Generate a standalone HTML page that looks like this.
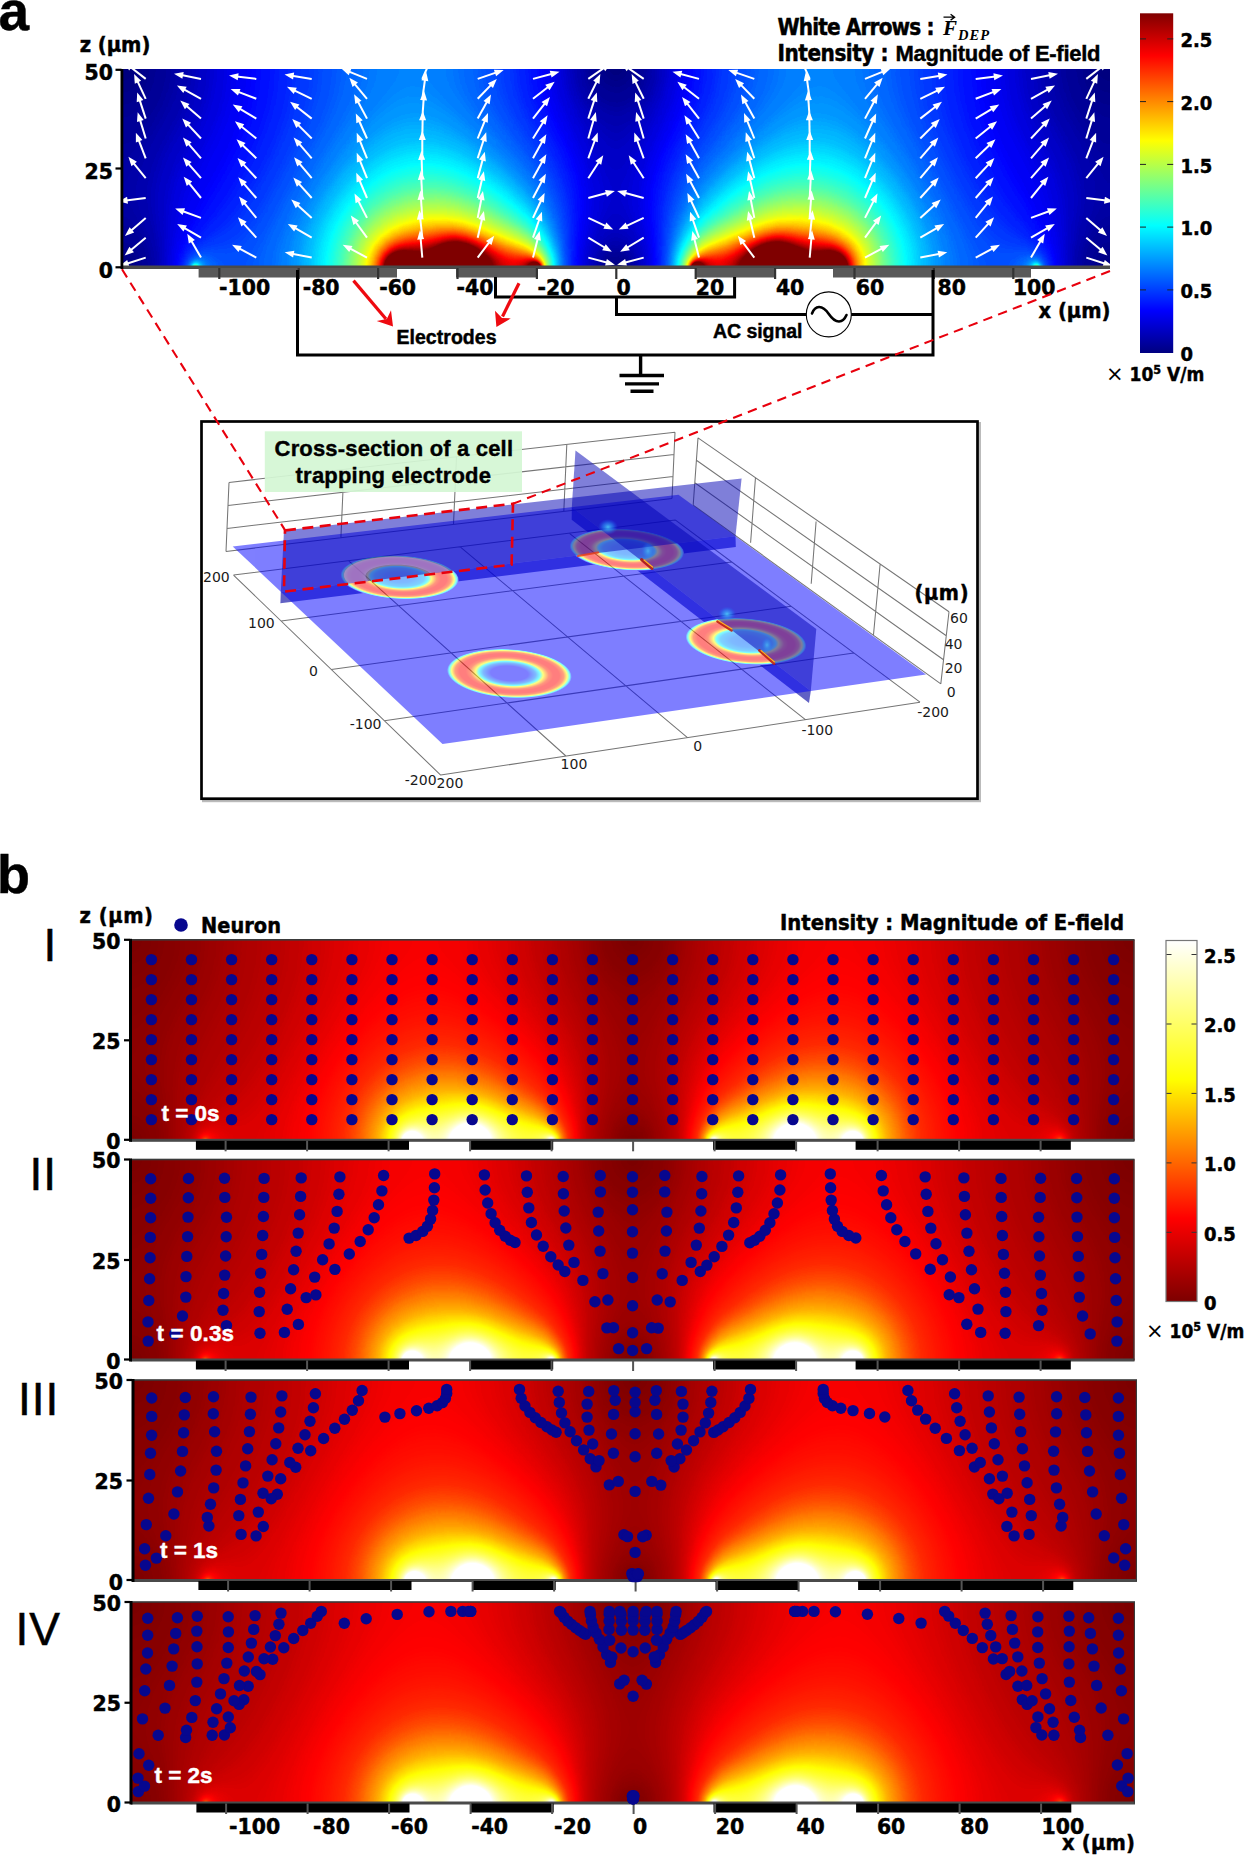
<!DOCTYPE html><html><head><meta charset="utf-8"><title>Figure</title><style>html,body{margin:0;padding:0;background:#fff}svg{display:block}</style></head><body>
<svg width="1250" height="1857" viewBox="0 0 1250 1857">
<defs>
<filter id="jetf" filterUnits="userSpaceOnUse" x="-12" y="-12" width="1012" height="223" color-interpolation-filters="sRGB"><feGaussianBlur stdDeviation="1.5"/><feComponentTransfer><feFuncR type="table" tableValues="0 0 0 0 0 0 0 0 0 0 0 0 0 0 0 0 0 0 0 0 0 0 0 0 0 0 0 0 0 0 0 0 0 0 0 0 0 0 0 0 0 0 0 0 0 0 0 0 0 0 0 0.011 0.041 0.07 0.1 0.13 0.159 0.189 0.219 0.248 0.278 0.307 0.337 0.367 0.396 0.426 0.456 0.485 0.515 0.544 0.574 0.604 0.633 0.663 0.693 0.722 0.752 0.781 0.811 0.841 0.87 0.9 0.93 0.959 0.989 1 1 1 1 1 1 1 1 1 1 1 1 1 1 1 1 1 1 1 1 1 1 1 1 1 1 1 1 1 1 1 1 1 1 0.974 0.944 0.915 0.885 0.856 0.826 0.796 0.767 0.737 0.707 0.678 0.648 0.619 0.589 0.559 0.53 0.5 0.5 0.5 0.5 0.5 0.5 0.5 0.5 0.5 0.5 0.5 0.5 0.5 0.5 0.5 0.5 0.5 0.5 0.5 0.5 0.5 0.5 0.5 0.5 0.5 0.5 0.5 0.5 0.5 0.5 0.5 0.5 0.5 0.5 0.5 0.5 0.5 0.5 0.5 0.5 0.5 0.5 0.5 0.5 0.5 0.5 0.5 0.5 0.5 0.5 0.5 0.5 0.5 0.5 0.5 0.5 0.5 0.5 0.5 0.5 0.5 0.5 0.5 0.5 0.5 0.5"/><feFuncG type="table" tableValues="0 0 0 0 0 0 0 0 0 0 0 0 0 0 0 0 0 0.004 0.033 0.063 0.093 0.122 0.152 0.181 0.211 0.241 0.27 0.3 0.33 0.359 0.389 0.419 0.448 0.478 0.507 0.537 0.567 0.596 0.626 0.656 0.685 0.715 0.744 0.774 0.804 0.833 0.863 0.893 0.922 0.952 0.981 1 1 1 1 1 1 1 1 1 1 1 1 1 1 1 1 1 1 1 1 1 1 1 1 1 1 1 1 1 1 1 1 1 1 0.981 0.952 0.922 0.893 0.863 0.833 0.804 0.774 0.744 0.715 0.685 0.656 0.626 0.596 0.567 0.537 0.507 0.478 0.448 0.419 0.389 0.359 0.33 0.3 0.27 0.241 0.211 0.181 0.152 0.122 0.093 0.063 0.033 0.004 0 0 0 0 0 0 0 0 0 0 0 0 0 0 0 0 0 0 0 0 0 0 0 0 0 0 0 0 0 0 0 0 0 0 0 0 0 0 0 0 0 0 0 0 0 0 0 0 0 0 0 0 0 0 0 0 0 0 0 0 0 0 0 0 0 0 0 0 0 0 0 0 0 0 0 0 0 0 0 0 0 0"/><feFuncB type="table" tableValues="0.5 0.53 0.559 0.589 0.619 0.648 0.678 0.707 0.737 0.767 0.796 0.826 0.856 0.885 0.915 0.944 0.974 1 1 1 1 1 1 1 1 1 1 1 1 1 1 1 1 1 1 1 1 1 1 1 1 1 1 1 1 1 1 1 1 1 1 0.989 0.959 0.93 0.9 0.87 0.841 0.811 0.781 0.752 0.722 0.693 0.663 0.633 0.604 0.574 0.544 0.515 0.485 0.456 0.426 0.396 0.367 0.337 0.307 0.278 0.248 0.219 0.189 0.159 0.13 0.1 0.07 0.041 0.011 0 0 0 0 0 0 0 0 0 0 0 0 0 0 0 0 0 0 0 0 0 0 0 0 0 0 0 0 0 0 0 0 0 0 0 0 0 0 0 0 0 0 0 0 0 0 0 0 0 0 0 0 0 0 0 0 0 0 0 0 0 0 0 0 0 0 0 0 0 0 0 0 0 0 0 0 0 0 0 0 0 0 0 0 0 0 0 0 0 0 0 0 0 0 0 0 0 0 0 0 0 0 0 0 0 0 0 0 0 0 0 0 0 0 0 0"/></feComponentTransfer></filter>
<filter id="hotf" filterUnits="userSpaceOnUse" x="-12" y="-12" width="1012" height="223" color-interpolation-filters="sRGB"><feGaussianBlur stdDeviation="1.5"/><feComponentTransfer><feFuncR type="table" tableValues="0.49 0.503 0.516 0.528 0.541 0.554 0.567 0.579 0.592 0.605 0.618 0.63 0.643 0.656 0.669 0.681 0.694 0.707 0.72 0.732 0.745 0.761 0.777 0.793 0.809 0.824 0.84 0.856 0.872 0.888 0.904 0.92 0.935 0.951 0.967 0.983 0.991 1 1 1 1 1 1 1 1 1 1 1 1 1 1 1 1 1 1 1 1 1 1 1 1 1 1 1 1 1 1 1 1 1 1 1 1 1 1 1 1 1 1 1 1 1 1 1 1 1 1 1 1 1 1 1 1 1 1 1 1 1 1 1 1 1 1 1 1 1 1 1 1 1 1 1 1 1 1 1 1 1 1 1 1 1 1 1 1 1 1 1 1 1 1 1 1 1 1 1 1 1 1 1 1 1 1 1 1 1 1 1 1 1 1 1 1 1 1 1 1 1 1 1 1 1 1 1 1 1 1 1 1 1 1 1 1 1 1 1 1 1 1 1 1 1 1 1 1 1 1 1 1 1 1 1 1 1 1 1 1 1 1 1 1"/><feFuncG type="table" tableValues="0 0 0 0 0 0 0 0 0 0 0 0 0 0 0 0 0 0 0 0 0 0 0 0 0 0 0 0 0 0 0 0 0 0 0 0 0 0 0.009 0.019 0.029 0.038 0.048 0.058 0.068 0.077 0.087 0.097 0.106 0.116 0.126 0.136 0.145 0.155 0.169 0.186 0.203 0.221 0.238 0.256 0.273 0.29 0.308 0.325 0.343 0.36 0.379 0.398 0.418 0.437 0.456 0.475 0.494 0.514 0.533 0.552 0.571 0.59 0.609 0.626 0.644 0.662 0.679 0.697 0.714 0.732 0.75 0.767 0.785 0.802 0.82 0.833 0.846 0.859 0.872 0.885 0.898 0.911 0.924 0.937 0.95 0.963 0.976 0.989 1 1 1 1 1 1 1 1 1 1 1 1 1 1 1 1 1 1 1 1 1 1 1 1 1 1 1 1 1 1 1 1 1 1 1 1 1 1 1 1 1 1 1 1 1 1 1 1 1 1 1 1 1 1 1 1 1 1 1 1 1 1 1 1 1 1 1 1 1 1 1 1 1 1 1 1 1 1 1 1 1 1 1 1 1 1 1 1 1 1 1 1 1 1 1 1 1"/><feFuncB type="table" tableValues="0 0 0 0 0 0 0 0 0 0 0 0 0 0 0 0 0 0 0 0 0 0 0 0 0 0 0 0 0 0 0 0 0 0 0 0 0 0 0 0 0 0 0 0 0 0 0 0 0 0 0 0 0 0 0 0 0 0 0 0 0 0 0 0 0 0 0 0 0 0 0 0 0 0 0 0 0 0 0 0 0 0 0 0 0 0 0 0 0 0 0 0 0 0 0 0 0 0 0 0 0 0 0 0 0.002 0.015 0.028 0.041 0.054 0.067 0.08 0.094 0.108 0.122 0.137 0.151 0.165 0.179 0.193 0.207 0.222 0.236 0.25 0.264 0.278 0.292 0.306 0.321 0.335 0.349 0.363 0.377 0.391 0.406 0.42 0.434 0.448 0.462 0.476 0.49 0.505 0.519 0.533 0.547 0.561 0.575 0.59 0.604 0.618 0.632 0.646 0.66 0.674 0.689 0.703 0.717 0.731 0.745 0.759 0.774 0.788 0.802 0.816 0.83 0.844 0.858 0.873 0.887 0.901 0.915 0.929 0.943 0.958 0.972 0.986 1 1 1 1 1 1 1 1 1 1 1 1 1 1 1 1 1 1 1 1 1 1 1 1 1 1"/></feComponentTransfer></filter>
<g id="F" transform="scale(0.1)" fill-rule="evenodd"><rect x="-100" y="-100" width="10080" height="2190" fill="rgb(0,0,0)"/><path fill="#010101" d="M-95-57l0-38 32 0-32 38zM9975 2085l-3330 5-1640-5-1770 5-3330-5 0-2028 32 38 48 20 50-5 39-25 27-40 8-50-13-50-33-40 9754 0-33 40-13 50 8 50 27 40 39 25 50 5 48-20 32-38 0 2028zM9975-57l-32-38 32 0 0 38zM4956 55l19-10 16-20 4-40-10-20-20-17-20-5-20 2-20 10-16 20-4 40 10 20 20 17 20 5 21-2zM18 2045l18-10 15-20 4-40-10-21-20-16-20-6-20 2-21 11-15 20-4 40 10 21 20 16 20 6 23-3zM9898 2045l18-10 15-20 4-40-10-21-20-16-20-6-20 2-21 11-15 20-4 40 10 21 20 16 20 6 23-3zM4960 2005l4-20-9-15-20-4-15 9-4 20 9 15 20 4 15-9z"/><path fill="#020202" d="M9815 2085l-3170 5-1770-5-1640 5-3171-5 32-40 12-50-8-50-25-40-40-27-50-5-49 22-31 39 0-1732 50 25 60 7 60-19 51-40 43-60 23-70 3-70-17-70 4700 0-23 22-19 38-5 30 5 40 14 30 25 28 30 16 40 6 30-6 30-16 25-28 14-30 5-30-5-40-19-38-23-22 4700 0-17 70 3 70 23 70 43 60 51 40 60 19 60-7 50-25 0 1732-31-39-49-22-50 5-40 27-25 40-8 50 12 50 31 40zM4963 2035l13-10 12-20 2-20-6-20-29-24-20-2-20 7-23 29-2 20 6 20 29 24 20 2 18-6zM-65 2085l-30 0 0-39 30 39zM9975 2085l-31 0 31-39 0 39z"/><path fill="#030303" d="M9745 2085l-3100 5-1770-5-1640 5-3106-5 20-60 2-60-17-60-34-50-45-34-50-13-50 9-50 33 0-1525 40 21 30 8 60-2 30-11 40-23 67-63 53-82 32-88 9-90-12-90 4556 0-18 40-9 50 6 50 15 40 28 40 33 27 40 17 40 4 40-7 40-21 31-30 25-40 12-40 3-50-8-40-18-40 4556 0-12 90 9 90 32 88 53 82 67 63 40 23 30 11 60 2 30-8 40-21 0 1525-40-29-50-13-50 9-50 33-34 45-20 60-2 60 22 70-6 0zM4956 2065l23-10 21-20 13-30 0-30-13-30-21-20-24-10-30 0-24 10-21 20-13 30 0 30 13 30 21 20 24 10 31 0z"/><path fill="#040404" d="M9705 2085l-3280 5-1448-5 28-19 20-27 11-34 0-30-11-34-20-27-30-20-30-7-30 3-30 15-27 30-12 30-2 40 9 30 22 31 28 19-1448 5-3281-5 15-70-4-80-23-70-39-60-48-43-30-15-30-8-30 0-30 8-50 30 0-1328 40 23 30 9 40 2 30-7 40-20 40-30 80-89 63-102 42-110 16-110-9-110 4443 0-15 50-3 60 8 50 19 50 35 50 41 36 40 21 50 10 50-7 44-20 46-38 30-42 22-50 11-60-3-60-15-50 4443 0-9 110 16 110 42 110 63 102 80 89 40 30 40 20 30 7 40-2 30-9 40-23 0 1328-50-30-30-8-30 0-30 8-30 15-48 43-39 60-23 70-5 70 15 80z"/><path fill="#040404" d="M9665 2085l-3240 5-1406-5 22-30 14-38 2-42-7-30-15-31-27-29-33-18-30-5-40 5-30 16-30 31-15 31-7 30 2 42 14 38 22 30-1406 5-3244-5 12-90-9-90-29-84-50-80-60-57-30-17-30-8-50 5-60 35 0-1118 40 27 30 11 30 3 40-9 40-24 40-36 100-123 81-135 51-130 16-70 7-60 1-60-8-70 4345 0-12 60 0 70 12 60 27 61 40 56 49 43 51 24 50 8 60-8 50-24 47-40 38-50 28-60 16-70 0-70-12-60 4345 0-8 70 1 60 7 60 16 70 51 130 81 135 100 123 40 36 40 24 40 9 30-3 30-11 40-27 0 1118-60-35-50-5-30 8-30 17-60 57-50 80-29 84-9 80 12 100-4 0z"/><path fill="#050505" d="M9635 2085l-3210 5-1382-5 17-30 12-40 1-40-9-40-19-37-30-31-30-17-40-9-40 5-30 14-30 25-25 40-12 40-1 40 9 40 21 40-1382 5-3212-5 10-100-12-100-36-110-50-89-70-74-30-20-30-12-30-3-30 6-60 37 0-912 40 28 40 14 30 0 40-14 40-28 50-48 29-35 51-76 110-187 36-77 29-80 20-80 10-70 2-70-6-80 4256 0-11 70 3 80 21 79 30 58 50 63 50 40 60 28 60 9 60-12 60-32 50-44 44-59 29-60 18-70 3-80-11-70 4256 0-6 80 2 70 10 70 20 80 29 80 36 77 110 187 51 76 29 35 50 48 40 28 40 14 30 0 40-14 40-28 0 912-60-37-30-6-30 3-30 12-30 20-70 74-50 89-36 110-11 90 7 110z"/><path fill="#060606" d="M9605 2085l-3180 5-1362-5 17-40 8-40-3-50-12-40-24-40-32-30-32-17-40-8-40 5-40 19-30 26-23 35-15 40-6 50 9 50 17 40-1362 5-3185-5 8-120-15-110-38-113-70-128-70-89-30-26-30-16-30-4-30 8-30 20-30 29 0-702 40 38 40 20 30 0 40-20 40-38 40-49 152-220 108-205 58-155 18-80 9-70 2-70-6-80 4179 0-12 80 5 80 22 80 35 70 50 66 60 52 70 35 60 8 60-11 60-32 60-52 50-66 35-70 22-80 5-80-12-80 4179 0-6 80 2 70 9 70 18 80 58 155 108 205 152 220 40 49 40 38 40 20 30 0 40-20 40-38 0 702-30-29-30-20-30-8-30 4-30 16-30 26-70 89-60 106-43 115-18 110-2 70 8 70-5 0z"/><path fill="#070707" d="M9585 2085l-3160 5-1345-5 16-40 7-50-5-50-13-40-23-40-37-37-40-22-40-8-40 5-40 18-39 34-26 40-16 40-7 50 5 50 18 50-1345 5-3164-5 7-80-3-77-10-73-20-80-30-83-40-89-140-266-40-59-20-6-30 32-60 106 0-409 50 94 30 43 10 7 20-7 30-43 166-310 184-310 65-140 38-110 24-110 8-100-5-110 4104 0-10 80 6 90 22 80 38 79 51 71 69 65 70 40 60 11 60-8 70-35 70-62 60-81 38-80 22-80 6-90-10-80 4104 0-5 110 8 100 24 110 38 110 65 140 184 310 166 310 30 43 10 7 20-7 30-43 50-94 0 409-60-106-30-32-20 6-40 59-140 266-66 162-22 80-11 70-4 90 7 80-4 0z"/><path fill="#080808" d="M9565 2085l-3140 5-1328-5 15-50 4-50-6-50-18-50-27-43-40-38-40-21-40-8-40 5-40 17-40 33-32 45-20 50-9 50 4 60 15 50-1328 5-3145-5 5-130-16-130-34-130-84-230-27-90-18-100 0-100 26-130 59-160 69-140 173-310 69-160 25-90 17-100 4-90-5-90 4033 0-10 90 8 90 25 90 38 80 58 82 70 70 70 44 70 16 70-12 70-40 70-66 62-84 44-90 25-90 8-90-10-90 4033 0-5 90 4 90 19 110 27 90 70 160 168 300 69 140 53 140 30 130 3 100-17 110-29 100-84 230-34 130-15 120 4 140-5 0z"/><path fill="#080808" d="M9545 2085l-3120 5-1313-5 13-50 3-60-10-60-20-50-33-49-33-31-47-25-40-8-50 8-40 20-40 36-33 49-20 50-10 60 3 60 13 50-1313 5-3127-5 4-120-10-120-27-134-65-226-23-100-13-110 3-100 26-140 52-150 65-140 165-306 67-164 27-100 14-90 4-90-5-90 3971 0-9 90 9 100 29 100 43 88 65 92 75 76 70 45 40 14 30 4 30-2 40-11 70-42 80-78 70-98 43-88 29-100 9-90-9-100 3971 0-5 90 5 100 15 90 28 100 67 160 162 300 61 130 51 140 29 140 5 100-8 100-20 100-69 240-24 107-16 143 3 140-7 0z"/><path fill="#090909" d="M9535 2085l-3110 5-1300-5 14-60 1-60-11-60-20-50-34-53-40-39-40-24-50-11-40 4-50 24-44 39-36 52-24 58-11 60 1 60 14 60-1300 5-3111-5 3-120-7-120-19-120-71-330-9-110 3-100 25-140 49-150 64-140 158-300 68-170 27-100 14-90 5-90-5-100 3912 0-8 100 10 100 29 100 43 91 70 104 80 87 80 56 40 14 30 4 30-2 40-12 40-22 40-30 80-82 75-108 48-100 29-100 10-100-8-100 3912 0-5 90 5 100 14 90 27 100 68 170 153 290 60 130 50 140 28 130 8 100-4 110-17 110-53 233-21 117-11 130 2 140z"/><path fill="#0a0a0a" d="M9515 2085l-3090 5-1287-5 12-60 1-60-10-60-22-60-34-57-50-55-50-33-40-10-50 10-40 24-50 51-40 61-23 59-12 60 0 70 12 60-1287 5-3095-5 2-120-5-110-14-120-56-330-6-110 5-100 24-140 49-150 58-130 160-310 67-170 27-100 15-100 5-90-5-100 3854 0-7 100 9 100 27 100 46 102 70 110 80 94 100 93 40 21 30 6 30-3 40-17 100-90 80-91 76-115 46-100 29-100 11-100-7-110 3854 0-5 90 5 100 15 100 27 100 69 175 153 295 55 120 49 140 28 130 9 110-3 110-14 110-54 320-10 140 2 140-5 0z"/><path fill="#0b0b0b" d="M9505 2085l-3080 5-1274-5 12-70-2-70-12-60-27-70-37-65-50-59-50-35-40-10-40 6-50 30-50 54-40 65-27 64-19 80-2 70 12 70-1274 5-3081-5 2-140-7-130-50-420 2-170 25-150 48-150 57-130 163-320 69-180 25-100 15-100 5-90-5-100 3797 0-7 110 11 100 27 100 44 101 70 115 160 211 60 52 30 14 30 3 30-7 30-16 60-57 150-200 70-116 44-100 27-100 11-100-7-110 3797 0-5 100 6 100 16 100 26 100 70 180 149 290 55 120 47 130 29 130 12 110 0 110-51 440-7 130 1 140z"/><path fill="#0c0c0c" d="M9485 2085l-3060 5-1259-5 9-70-2-80-14-70-26-70-38-73-50-67-50-43-50-17-40 7-50 33-50 57-50 85-31 78-17 80-2 80 9 70-1259 5-3067-5-3-270-34-400 3-160 23-150 50-160 62-140 157-310 42-100 31-90 25-100 15-100 6-100-5-100 3740 0-7 100 9 100 24 100 45 110 54 97 180 281 70 77 30 19 30 8 30-4 30-16 30-25 40-46 190-294 50-89 45-108 26-100 10-100-6-110 3740 0-4 110 6 100 16 100 27 103 70 180 151 297 55 120 46 130 29 130 13 110 1 120-33 380-5 300-7 0z"/><path fill="#0c0c0c" d="M9475 2085l-3050 5-1244-5 9-70-3-80-15-80-27-80-50-98-50-73-50-50-30-16-20-5-40 9-50 39-60 79-50 92-31 83-19 83-5 87 9 80-1244 5-3054-5-2-280-20-370 5-150 25-160 50-160 57-130 167-330 41-100 30-90 27-110 15-100 5-100-4-100 3684 0-7 100 9 100 23 100 43 110 176 323 90 148 40 53 30 30 30 18 30 5 30-10 30-22 70-89 90-151 170-313 39-102 23-100 9-100-7-100 3684 0-4 110 6 100 18 110 29 110 73 186 149 294 55 120 46 130 28 120 14 110 4 120-19 370-3 300-4 0z"/><path fill="#0d0d0d" d="M9465 2085l-3040 5-1229-5 7-80-3-80-15-80-30-92-50-108-70-116-50-59-40-19-20 2-20 10-50 52-70 111-57 119-30 90-17 80-4 90 7 80-1229 5-3041-5-8-610 6-150 26-170 49-160 61-140 166-330 42-100 33-100 26-104 16-106 6-100-4-110 3629 0-6 100 8 100 22 100 37 100 142 287 150 281 70 103 30 25 20 7 20-2 30-20 30-34 40-62 140-259 160-321 39-105 22-100 8-100-6-100 3629 0-4 110 7 110 18 110 29 110 73 190 155 305 52 115 44 120 30 120 17 120 6 120-9 650z"/><path fill="#0e0e0e" d="M4665 2085l-1430 5-2809-5 5-620 9-130 19-120 31-120 44-120 207-420 74-190 30-112 20-118 8-120-4-110 3575 0-6 80 3 90 16 90 26 90 92 214 254 536 72 170 16 60-1 30-15 50-156 340-50 134-28 136-3 80 7 80-6 0zM9445 2085l-3020 5-1216-5 7-70-1-70-10-74-18-76-52-140-156-340-15-50-1-30 16-60 72-170 254-536 92-214 26-90 16-90 3-90-6-80 3575 0-4 110 8 120 18 110 32 120 74 190 207 420 47 130 30 120 19 130 8 140 5 550-1 40-9 0z"/><path fill="#0f0f0f" d="M4655 2085l-1420 5-2798-5 0-190 15-380 13-150 20-123 31-117 44-120 50-110 162-320 77-200 32-120 20-120 7-110-4-120 3522 0-6 80 2 80 12 80 20 80 74 200 161 350 71 170 50 150 22 110 0 100-19 100-114 320-32 120-14 110 2 130zM9435 2085l-3010 5-1203-5 6-120-13-112-34-128-114-320-19-100 0-100 22-110 50-150 71-170 161-350 74-200 20-80 12-80 2-80-6-80 3522 0-4 120 7 110 20 120 32 120 77 200 162 320 50 110 44 120 32 120 22 140 12 170 14 410-1 120-8 0z"/><path fill="#101010" d="M4645 2085l-1410 5-2787-5 1-200 19-300 18-180 25-140 33-120 45-120 208-420 48-110 35-100 35-130 20-120 8-120-3-120 3467 0-6 80 3 80 13 90 27 110 57 160 149 330 62 150 51 160 25 130 3 100-14 110-25 100-77 246-25 114-10 110 5 110zM9425 2085l-3000 5-1191-5 6-110-10-110-25-114-77-246-25-100-14-110 3-100 25-130 51-160 62-150 149-330 57-160 27-110 13-90 3-80-6-80 3467 0-3 120 8 120 20 120 35 130 35 100 48 110 157 310 55 120 44 120 32 120 29 180 23 280 11 250-2 100-7 0z"/><path fill="#101010" d="M4625 2085l-1390 5-2775-5-1-170 16-211 25-229 32-170 33-120 45-120 55-120 162-320 48-111 39-109 34-130 20-120 9-120-3-130 3411 0-5 90 4 90 13 90 22 90 56 160 147 330 60 150 49 160 23 130 4 100-8 100-22 110-84 320-14 130 4 130-9 0zM9415 2085l-2990 5-1179-5 5-110-8-100-22-120-64-230-24-110-11-120 5-110 25-130 50-160 60-150 143-320 56-160 22-90 13-90 4-90-5-90 3411 0-3 130 9 120 20 120 34 130 39 109 48 111 162 320 55 120 45 120 33 120 33 180 29 270 12 210-2 120-5 0z"/><path fill="#111111" d="M4615 2085l-1380 5-2761-5-3-130 11-150 41-300 36-190 32-110 47-120 219-440 47-110 40-110 35-130 23-130 10-130-3-130 3351 0-5 90 4 90 13 90 22 90 56 160 141 320 60 150 46 150 26 140 7 110-7 110-19 110-73 320-12 130 4 120-8 0zM9405 2085l-2980 5-1168-5 4-120-10-120-21-110-56-230-18-110-6-100 7-110 26-140 46-150 60-150 141-320 56-160 22-90 13-90 4-90-5-90 3351 0-3 130 10 130 23 130 35 130 40 110 47 110 219 440 47 120 32 110 36 190 41 300 11 150-4 130z"/><path fill="#121212" d="M4605 2085l-1370 5-2747-5-4-130 13-140 43-250 45-205 40-136 52-139 209-420 51-120 39-110 38-140 22-130 9-130-3-130 3294 0-5 90 4 90 13 90 21 90 60 170 137 310 55 140 50 160 26 140 8 110-5 110-16 110-65 320-11 130 4 120-7 0zM9385 2085l-2960 5-1157-5 4-110-9-120-18-112-49-228-17-120-4-110 8-100 26-140 50-160 55-140 137-310 60-170 21-90 13-90 4-90-5-90 3294 0-3 130 9 130 22 130 38 140 39 110 51 120 161 317 50 109 50 134 44 150 49 230 39 240 10 150-5 90-7 0z"/><path fill="#131313" d="M4595 2085l-1360 5-2735-5-4-130 16-140 53-245 60-217 41-118 50-120 233-480 51-130 38-120 27-120 18-120 7-120-3-120 3224 0-5 90 4 90 13 90 24 100 56 160 138 310 59 150 46 150 27 140 9 110-4 120-14 110-56 310-10 130 4 120-7 0zM9375 2085l-2950 5-1147-5 4-110-8-120-58-330-15-120-3-110 9-110 27-140 46-150 59-150 138-310 56-160 24-100 13-90 4-90-5-90 3224 0-3 110 6 120 17 120 27 120 36 120 50 130 239 492 50 121 41 117 63 230 51 240 15 150-4 90-1 20-5 0z"/><path fill="#141414" d="M4585 2085l-1350 5-2722-5-6-120 12-110 26-121 57-199 58-170 89-210 226-451 54-129 41-120 37-140 23-140 11-140-3-130 3148 0-4 90 3 90 13 90 24 100 56 160 142 320 56 140 47 150 28 140 9 110-2 120-11 110-49 310-9 130 3 120-7 0zM9365 2085l-2940 5-1137-5 3-110-6-120-52-330-11-110-2-120 9-110 28-140 47-150 56-140 142-320 56-160 24-100 13-90 3-90-4-90 3148 0-3 130 9 130 21 130 32 130 43 130 51 126 250 503 56 131 48 130 70 230 41 170 13 130-8 110z"/><path fill="#141414" d="M4575 2085l-1340 5-2711-5-7-110 11-100 22-100 48-150 67-177 100-224 240-467 57-132 47-130 42-150 27-150 12-150-2-140 3073 0-5 90 4 90 13 90 24 100 60 170 139 310 57 140 47 150 31 150 10 120-2 120-52 400-7 130 3 120-8 0zM9355 2085l-2930 5-1128-5 3-110-5-114-45-336-10-110 0-120 11-110 29-140 47-150 57-140 139-310 60-170 24-100 13-90 4-90-5-90 3073 0-2 140 11 140 24 140 36 140 45 130 54 130 275 540 70 158 60 155 56 167 31 130 11 110-8 100z"/><path fill="#151515" d="M4565 2085l-1330 5-2700-5-8-110 8-80 22-90 33-100 55-134 120-255 261-491 68-150 51-134 49-166 31-160 14-160-2-150 2999 0-5 90 4 90 13 90 23 100 61 170 145 320 57 140 47 150 29 140 12 120 0 120-44 400-7 130 2 120-8 0zM9335 2085l-2910 5-1118-5 2-110-4-110-47-440 1-120 12-120 30-140 49-150 57-140 137-300 62-170 25-100 13-90 5-90-5-100 2999 0-2 140 12 150 26 150 41 150 50 140 65 151 80 159 225 420 75 160 70 168 44 132 20 100 2 110-6 50-10 0z"/><path fill="#161616" d="M4555 2085l-1320 5-2689-5-9-110 7-70 17-70 64-165 120-236 294-529 76-160 65-160 53-170 35-170 18-170-1-170 2925 0-5 90 5 100 14 90 24 100 63 170 143 310 58 140 48 150 31 140 13 120 1 130-39 420-2 220-9 0zM9325 2085l-2900 5-1109-5-2-220-39-430 1-120 13-120 31-140 48-150 58-140 143-310 63-170 24-100 14-90 5-90-5-100 2925 0-2 150 14 160 30 160 48 166 62 164 79 170 89 169 240 427 80 156 50 111 37 107 18 90 1 100-7 50-9 0z"/><path fill="#171717" d="M4555 2085l-1320 5-2679-5-10-110 6-60 14-60 59-144 80-145 230-381 100-175 99-195 76-180 63-190 40-180 20-180-1-180 2852 0-5 90 5 100 13 90 25 100 63 170 150 320 55 130 50 150 31 140 15 120 3 130-32 420-2 220zM9315 2085l-2890 5-1101-5-1-210-32-440 3-120 15-120 31-140 50-150 55-130 150-320 63-170 25-100 13-90 5-90-5-100 2852 0-1 170 17 170 35 170 53 170 76 190 98 200 113 200 256 425 85 165 34 90 18 90-1 100-7 40-9 0z"/><path fill="#181818" d="M4545 2085l-1310 5-2669-5-12-100 4-50 13-60 21-60 33-69 70-118 228-343 109-180 117-220 93-210 69-200 45-190 23-190 0-190 2778 0-5 90 5 100 16 100 26 100 64 170 149 310 56 130 52 150 33 140 17 130 4 130-25 410-4 220zM9305 2085l-2880 5-1092-5-1-210-26-430 5-130 16-120 33-140 52-150 56-130 149-310 64-170 26-100 16-100 5-90-5-100 2778 0-1 170 19 180 39 180 60 190 94 220 119 230 133 220 241 365 70 126 34 89 15 80-2 90-8 40-9 0z"/><path fill="#181818" d="M4535 2085l-1300 5-2660-5-13-100 6-60 13-50 49-110 75-114 211-286 111-170 135-240 107-230 76-210 53-210 26-200 1-200 2705 0-5 90 5 100 16 100 26 100 70 180 151 310 58 130 52 150 34 140 17 130 6 130-20 410-1 210-4 0zM9295 2085l-2870 5-1084-5-1-210-20-420 7-130 16-120 34-140 52-150 58-130 151-310 70-180 26-100 16-100 5-90-5-100 2705 0 0 180 21 190 44 190 67 200 108 245 140 255 136 210 234 319 61 101 33 80 17 80-3 90-8 40-10 0z"/><path fill="#191919" d="M4525 2085l-1290 5-2651-5-11-50-3-50 5-50 12-50 48-102 70-100 213-258 113-160 141-240 122-250 87-230 59-220 29-210 4-100-3-110 2632 0-5 100 6 100 17 100 28 100 67 170 160 320 58 130 54 150 34 140 18 130 7 140-14 400-1 200-6 0zM9295 2085l-2870 5-1076-5-1-200-14-420 8-130 19-130 35-140 51-140 58-130 160-320 67-170 28-100 17-100 6-100-5-100 2632 0 0 190 25 200 50 206 76 214 126 270 149 260 111 160 238 291 73 109 32 70 17 70 2 70-14 70z"/><path fill="#1a1a1a" d="M4515 2085l-1280 5-2642-5-12-50-4-50 16-90 20-50 28-50 74-96 207-224 115-150 148-239 131-261 100-250 64-230 20-110 13-110 5-110-3-110 2559 0-5 100 6 100 17 100 28 100 73 180 159 310 60 130 56 150 36 140 21 140 8 150-9 580-9 0zM9285 2085l-2860 5-1069-5-9-600 9-140 20-130 36-140 56-150 60-130 159-310 73-180 28-100 17-100 6-100-5-100 2559 0 1 200 28 210 54 210 85 230 63 140 77 150 79 140 77 120 129 170 227 248 70 99 30 66 16 67 0 70-16 60z"/><path fill="#1b1b1b" d="M4515 2085l-1280 4-2634-4-13-50-4-50 5-50 12-40 44-86 80-95 216-209 107-130 76-110 71-117 142-273 108-260 43-130 32-120 23-120 13-110 6-120-3-110 2486 0-5 100 6 100 18 100 28 100 74 180 168 320 61 129 54 141 38 140 22 130 11 150-5 590zM9275 2085l-2850 4-1061-4-4-590 11-150 22-130 38-140 54-141 61-129 168-320 74-180 28-100 18-100 6-100-5-100 2486 0-3 110 4 100 12 110 20 110 60 220 93 240 70 150 78 150 82 140 81 120 131 160 236 230 66 90 28 60 16 70-3 70-13 50-4 0z"/><path fill="#1b1b1b" d="M4505 2085l-1270 4-2626-4-15-50-4-50 6-50 13-40 24-50 32-46 70-73 222-191 74-80 70-90 124-193 126-237 69-150 57-140 45-130 36-130 25-120 16-120 7-120-3-120 2413 0-6 100 7 100 18 100 32 110 77 180 167 310 64 131 58 149 40 140 24 140 12 150 0 570-4 0zM9265 2085l-2840 4-1054-4 1-580 11-140 24-140 40-140 58-149 64-131 167-310 77-180 32-110 18-100 7-100-6-100 2413 0-3 110 5 110 13 110 20 110 31 120 38 120 104 257 79 163 81 150 79 130 77 110 112 130 252 220 50 54 30 43 30 63 14 70-5 70-13 40-6 0z"/><path fill="#1c1c1c" d="M4495 2085l-1260 4-2619-4-15-50-5-50 5-40 15-50 27-50 32-41 70-66 155-113 73-60 71-70 61-73 126-187 134-243 75-157 64-150 51-140 41-140 29-130 17-120 8-130-3-120 2339 0-6 100 7 100 18 100 32 110 79 180 179 324 63 126 60 150 41 140 26 150 13 160 4 540-7 0zM9255 2085l-2830 4-1047-4 5-570 14-150 27-140 41-140 57-140 63-126 179-324 79-180 32-110 18-100 7-100-6-100 2339 0-3 110 6 120 14 110 24 120 32 120 44 130 113 270 85 170 87 157 80 127 79 106 113 120 238 181 50 47 40 49 33 63 15 70-6 70-13 40-9 0z"/><path fill="#1d1d1d" d="M4495 2085l-1260 4-2611-4-17-50-5-50 7-50 15-40 22-40 39-47 70-59 220-144 69-60 71-78 122-172 137-240 84-170 75-170 57-150 43-140 31-130 20-130 9-130-2-130 2264 0-5 110 8 100 19 100 34 110 82 180 182 320 67 130 58 140 43 140 27 140 16 160 7 220 2 330zM9255 2085l-2830 4-1040-4 2-340 7-210 16-160 27-140 43-140 58-140 67-130 182-320 82-180 34-110 19-100 8-100-5-110 2264 0-3 120 7 120 17 120 26 120 38 130 49 140 62 149 70 149 83 162 87 151 80 123 75 96 56 60 56 50 68 50 175 111 50 42 42 47 34 60 16 60-2 60-20 60z"/><path fill="#1e1e1e" d="M4485 2085l-1250 4-2604-4-18-50-6-50 6-40 18-50 24-39 40-44 70-52 223-125 67-53 67-67 57-70 63-90 133-227 94-183 83-180 68-170 49-150 36-140 23-140 9-130-3-130 2190 0-5 110 7 100 20 100 35 110 38 90 50 100 186 317 70 132 61 141 43 140 31 150 17 170 11 320 1 200-4 0zM9245 2085l-2820 4-1034-4 2-270 10-260 17-160 31-150 43-140 61-141 70-132 186-317 50-100 38-90 35-110 20-100 7-100-5-110 2190 0-3 120 8 130 18 120 30 130 43 140 53 140 69 160 77 160 90 170 84 143 79 117 73 90 50 50 61 50 62 40 195 108 50 39 40 44 33 59 14 60-5 60-13 40-9 10z"/><path fill="#1f1f1f" d="M4475 2085l-1240 4-2597-4-20-50-5-50 8-50 17-40 27-40 40-40 70-45 225-105 65-45 60-55 60-69 59-81 128-210 106-200 96-200 75-180 56-160 40-150 24-140 11-140-3-130 2115 0-5 110 8 100 20 100 35 110 39 90 51 100 195 323 70 127 66 150 46 140 33 160 20 190 13 340-1 140-7 0zM9235 2085l-2810 4-1027-4 1-240 13-270 20-170 33-156 47-144 63-140 70-127 195-323 51-100 39-90 35-110 20-100 8-100-5-110 2115 0-3 120 8 130 21 130 34 140 46 140 58 150 76 170 92 185 95 175 85 139 79 111 71 80 57 50 63 43 250 119 50 37 38 41 33 60 11 60-8 60-17 40-7 0z"/><path fill="#1f1f1f" d="M4475 2085l-1240 4-2591-4-21-50-6-50 9-50 18-40 31-41 40-35 80-43 150-52 68-29 62-38 52-42 57-60 55-70 126-198 120-221 109-221 83-190 62-170 43-150 29-150 12-140-2-140 2039 0-6 110 8 100 23 110 38 110 40 90 54 100 198 319 74 131 65 140 47 140 36 160 22 180 16 270 0 220zM9235 2085l-2810 4-1021-4 2-240 15-260 22-170 36-160 47-140 65-140 74-131 198-319 54-100 40-90 38-110 23-110 8-100-6-110 2039 0-3 130 10 130 25 140 37 140 52 150 70 170 89 190 106 206 90 160 80 127 70 94 70 74 60 48 60 35 190 69 60 27 50 32 40 39 31 49 16 60-5 60-22 50z"/><path fill="#202020" d="M4465 2085l-1230 4-2584-4-23-50-6-50 9-50 20-40 34-41 40-31 80-36 160-40 60-21 60-31 50-37 50-48 54-65 116-174 121-216 132-260 95-210 70-180 49-160 31-150 14-150-3-140 1962 0-5 110 8 100 24 110 38 110 41 90 55 100 208 325 79 135 66 140 49 140 39 170 25 190 17 280 0 170-1 10-4 0zM9225 2085l-2800 4-1014-4 1-220 17-260 25-180 37-160 49-140 66-140 79-135 208-325 55-100 41-90 38-110 24-110 8-100-5-110 1962 0-3 130 11 140 27 140 42 150 59 160 82 190 103 210 118 224 85 146 75 115 70 89 68 66 52 37 60 28 190 50 60 22 50 28 40 34 35 51 17 60-5 60-17 40-10 10z"/><path fill="#212121" d="M4455 2085l-1220 4-2578-4-24-50-7-50 10-50 21-40 38-41 40-27 90-31 210-35 50-20 50-31 50-44 50-55 110-159 130-227 150-290 108-230 77-190 54-170 32-150 15-150-3-140 1884 0-5 110 10 110 25 110 41 110 43 90 57 100 212 321 80 133 70 143 52 143 43 180 28 210 17 280-2 140-8 0zM9215 2085l-2790 4-1008-4 0-210 19-250 28-190 41-167 50-136 70-143 80-133 212-321 57-100 43-90 41-110 25-110 10-110-5-110 1884 0-3 140 14 140 28 140 48 160 66 170 91 200 129 257 130 239 80 133 70 101 69 80 58 50 52 30 51 19 180 28 60 14 50 21 50 36 40 52 18 60-1 40-8 30-21 40-8 0z"/><path fill="#222222" d="M4455 2085l-1220 4-2571-4-26-50-8-50 11-50 24-41 30-31 50-31 90-24 210-10 50-15 40-20 50-39 47-49 103-142 130-224 171-324 126-260 84-200 57-170 35-150 16-150-2-150 1806 0-6 110 10 110 27 110 41 110 50 100 59 100 216 318 80 128 74 144 53 140 44 170 32 210 20 250-3 180zM9215 2085l-2790 4-1003-4 1-200 19-230 21-150 29-140 39-130 49-120 51-100 60-100 275-410 60-110 45-100 32-100 19-100 7-90-7-100 1806 0-3 140 14 140 32 150 52 160 73 180 99 211 160 312 140 253 71 114 69 95 60 64 54 41 46 22 50 13 170 5 70 10 60 22 50 34 34 44 20 60-7 60-27 50z"/><path fill="#232323" d="M4445 2085l-1210 4-2565-4-28-50-7-50 11-50 29-46 40-33 50-22 50-11 50-2 190 20 40-5 40-14 40-26 50-47 100-134 130-222 200-378 139-280 92-210 59-170 38-160 16-150-3-140 1726 0-6 110 11 110 27 110 43 110 50 100 61 100 227 324 87 136 73 138 56 142 48 180 35 220 19 250-1 150-7 0zM9205 2085l-2780 4-997-4 1-210 17-190 25-170 31-140 43-135 53-125 67-123 80-123 227-324 61-100 50-100 43-110 27-110 11-110-6-110 1726 0-3 140 16 150 35 150 54 160 76 180 112 230 201 386 140 250 70 108 58 76 52 53 50 34 40 14 40 5 170-19 70 1 70 18 50 29 40 47 20 58-7 60-21 40-12 10z"/><path fill="#232323" d="M4445 2085l-1210 4-2090-4-40-11-54 11-374 0-31-50-8-50 12-50 35-49 40-28 60-20 50-4 50 5 62 16 128 47 30 4 30-6 30-17 40-36 90-116 130-218 240-452 161-316 100-220 61-170 40-160 18-150-4-140 1644 0-6 110 11 110 28 110 44 110 53 100 62 100 248 344 80 122 78 144 57 140 50 180 36 210 21 220-2 180zM9195 2085l-366 0-54-11-40 11-2090 4-1211-4-1-180 16-180 29-190 34-150 43-131 56-129 74-131 80-119 232-320 62-100 54-100 49-120 28-110 11-110-6-110 1644 0-4 140 16 140 35 150 60 170 79 180 119 240 271 515 130 229 60 91 60 76 50 47 40 20 50-1 140-51 80-16 80 5 60 23 50 46 19 36 7 30-1 40-10 30-25 38-10 2z"/><path fill="#242424" d="M4435 2085l-1200 4-1982-4-24-60-4-40 7-40 26-60 167-303 381-727 100-200 72-160 59-160 37-150 17-140-4-140 1560 0-6 110 11 110 30 110 45 110 54 100 71 110 243 326 90 131 80 141 61 142 56 190 39 220 22 230-2 140 0 10-6 0zM8625 2085l-2200 4-986-4 0-180 22-220 40-210 53-180 61-142 80-141 90-131 243-326 71-110 54-100 45-110 30-110 11-110-6-110 1560 0-4 120 12 130 28 130 49 150 72 170 103 210 392 748 191 352 15 40 4 40-7 40-23 50zM965 2085l-282 0-23-30-16-40-1-40 12-40 19-30 21-21 30-19 40-15 40-5 40 2 40 9 48 19 34 20 35 30 16 20 13 30 0 30-13 30-26 30-27 20zM9195 2085l-282 0-35-30-22-30-8-30 4-30 17-30 31-30 75-42 80-18 40 2 40 9 30 14 30 23 25 32 13 30 5 30-5 40-18 38-20 22z"/><path fill="#252525" d="M4435 2085l-1200 4-1917-4-14-60-1-60 15-70 31-80 222-450 363-690 71-150 54-130 42-130 26-120 12-120-5-120 1474 0-7 110 13 110 30 110 47 110 56 100 73 110 265 345 88 125 81 140 61 139 56 181 42 210 24 220-2 170zM8555 2085l-2130 4-981-4 0-180 23-210 42-210 56-181 61-139 81-140 88-125 265-345 73-110 56-100 47-110 30-110 13-110-7-110 1474 0-5 120 12 120 26 120 42 130 54 130 71 150 363 690 222 450 31 80 15 70-3 70-12 50-7 0zM925 2085l-235 0-31-40-13-40 2-40 16-40 21-26 30-23 60-20 70 3 65 26 28 20 26 30 18 50-11 50-23 30-23 20zM9185 2085l-230 0-32-30-22-40-2-40 10-30 23-30 23-20 60-30 70-10 40 5 30 11 30 19 24 25 17 30 8 30 0 30-8 30-21 35-20 15z"/><path fill="#262626" d="M4425 2085l-1190 4-1865-4-11-80 5-80 24-90 43-110 202-420 369-690 62-130 50-120 39-120 25-120 9-110-5-110 1386 0-8 110 11 100 30 110 54 120 57 100 76 110 277 351 90 124 87 145 63 139 60 189 46 222 22 210-1 130-1 20-6 0zM8505 2085l-2080 4-976-4-1-170 23-200 46-220 62-190 65-140 81-135 90-124 277-351 76-110 57-100 54-120 30-110 11-100-8-110 1386 0-5 110 9 110 22 110 39 120 49 120 61 130 374 700 202 420 46 120 23 90 2 90-10 60-5 0zM895 2085l-200-1-32-39-14-40 2-40 24-49 20-20 30-19 60-14 60 8 60 32 35 42 11 50-17 50-39 40zM9175 2085l-190 0-32-30-21-40-2-40 16-40 19-23 30-23 60-23 60-1 30 8 30 15 40 43 17 54-3 30-12 30-22 30-11 10-9 0z"/><path fill="#272727" d="M4425 2085l-1190 4-1819-4-10-90 10-100 30-110 56-140 87-190 100-200 377-690 58-120 46-110 36-110 23-110 9-100-6-110 1293 0-8 110 12 100 32 110 55 120 61 100 78 110 280 344 100 132 90 144 67 140 61 180 50 220 25 200 2 90-5 80zM8455 2085l-2030 4-971-4-2-170 25-200 50-220 61-180 67-140 90-144 100-132 280-344 78-110 61-100 55-120 32-110 12-100-8-110 1293 0-6 100 7 100 22 110 35 110 45 110 63 130 377 690 110 220 82 180 57 150 28 110 5 110-9 60-9 0zM865 2085l-162 0-18-15-24-35-10-40 6-40 28-45 50-32 50-8 60 12 50 33 27 40 5 50-9 30-14 20-20 20-19 10zM9175 2085l-166 0-13-10-28-30-15-40 2-40 21-40 39-33 60-21 60 4 50 26 34 44 10 50-15 50-19 25-20 15z"/><path fill="#272727" d="M4415 2085l-1180 4-1779-4-8-100 12-110 37-130 63-160 88-190 103-200 376-670 59-120 42-100 36-110 20-100 6-90-6-100 1196 0-8 110 12 100 34 110 53 110 69 110 81 110 294 349 100 128 90 138 73 145 71 200 51 220 17 110 8 100-2 130-1 10-7 0zM8415 2085l-1990 4-967-4-1-170 25-190 55-230 65-180 73-145 90-138 100-128 294-349 81-110 69-110 53-110 34-110 12-100-8-110 1196 0-6 110 11 110 27 110 48 130 109 220 268 470 118 220 118 240 80 190 39 120 20 100 2 110-6 50-9 0zM845 2085l-134 0-34-30-20-40-2-40 15-40 25-29 50-25 50-4 50 16 41 32 21 40 0 50-21 40-21 20-20 10zM9165 2085l-134 0-27-20-23-30-12-40 7-40 28-40 49-30 52-8 50 10 40 29 25 39 5 50-20 47-20 22-20 11z"/><path fill="#282828" d="M4415 2085l-1180 4-1742-4-7-90 7-100 25-110 44-130 86-200 115-230 122-218 267-452 108-210 47-120 28-110 11-110-7-100 1093 0-9 100 13 110 37 110 57 110 72 110 84 110 309 355 100 124 96 141 74 142 75 198 53 210 27 200 1 100-6 60zM8385 2085l-1960 4-962-4-3-150 18-160 37-170 52-170 63-150 72-130 90-130 93-115 309-355 84-110 72-110 57-110 37-110 13-110-9-100 1093 0-7 100 11 110 28 110 47 120 108 210 267 452 122 218 115 230 86 200 44 130 25 110 7 100-9 90zM825 2085l-106 0-24-16-21-24-16-40 2-40 15-32 30-30 40-17 50-2 50 20 33 31 17 40-6 50-29 40-35 20zM9155 2085l-105 0-30-20-18-20-17-40 3-40 14-30 31-30 42-19 50-2 50 19 30 30 17 42-2 40-25 44-20 18-20 8z"/><path fill="#292929" d="M4405 2085l-1170 4-1708-4-6-110 11-110 30-120 49-140 89-200 119-230 126-218 272-442 107-200 48-120 25-100 8-90-8-100 983 0-10 100 12 100 38 110 59 110 69 100 95 120 322 359 110 131 100 143 80 147 79 200 57 220 18 110 8 90-3 130-1 10-8 0zM8345 2085l-1920 4-958-4-3-150 17-150 41-180 56-170 67-151 74-129 96-132 100-119 322-359 95-120 69-100 59-110 38-110 12-100-10-100 983 0-8 90 8 100 25 100 48 120 107 200 272 442 126 218 119 230 89 200 52 150 30 130 8 130-6 70-8 0zM805 2085l-80-2-40-28-19-30-7-30 7-40 19-30 40-28 40-9 50 9 40 26 21 32 7 40-12 40-26 31-40 19zM9145 2085l-80-2-40-26-21-32-7-30 7-40 21-32 40-26 50-9 40 9 40 28 19 30 7 40-12 40-34 38-30 12z"/><path fill="#2a2a2a" d="M4405 2085l-1170 4-1676-4-6-120 14-120 34-130 58-160 97-210 125-230 127-210 284-440 101-180 46-110 24-90 7-90-9-90 862 0-12 90 12 100 35 100 61 110 71 100 98 120 357 385 110 127 108 148 84 150 79 190 60 220 17 100 9 90 1 100-4 50-4 0zM8315 2085l-1890 4-954-4-3-150 20-160 44-180 56-160 71-150 76-127 100-133 110-126 347-374 98-120 71-100 61-110 35-100 12-90-12-100 862 0-9 90 7 90 24 90 46 110 101 180 284 440 127 210 125 230 97 210 58 160 36 140 12 130-5 90-1 10-6 0zM785 2085l-41 0-29-10-30-25-19-35-4-30 12-40 21-26 40-22 40-4 42 12 36 30 16 30 2 40-18 40-28 25-40 15zM9135 2085l-42 0-38-15-28-25-16-30-2-40 11-30 27-30 38-18 40-4 40 12 30 25 19 35 3 40-18 40-24 24-40 16z"/><path fill="#2b2b2b" d="M4395 2085l-1160 4-1646-4-5-130 16-130 41-150 66-170 101-210 131-230 146-228 288-422 96-160 42-90 26-90 7-80-11-90 724 0-14 90 11 90 34 90 65 110 75 100 103 120 384 399 120 135 110 145 90 151 47 100 39 100 34 108 28 112 17 100 9 100-4 130-10 0zM8285 2085l-1860 4-950-4-4-140 18-150 44-180 60-170 72-147 90-143 100-128 120-133 374-389 103-120 75-100 65-110 34-90 11-90-14-90 724 0-11 80 5 80 21 80 44 100 101 170 288 422 146 228 131 230 105 220 65 170 40 150 15 140-5 100-1 10-6 0zM795 2077l-40 6-30-7-30-19-23-32-8-30 8-40 23-32 30-19 40-7 37 8 32 20 21 30 8 30-8 40-21 30-39 22zM9155 2076l-30 7-40-6-30-15-25-27-12-30 3-40 16-30 28-24 40-13 40 3 30 14 28 30 11 30-2 40-25 40-32 21z"/><path fill="#2b2b2b" d="M4395 2085l-1160 4-1618-4-4-140 21-150 47-160 78-190 113-220 146-240 157-229 303-411 91-140 43-90 18-70 3-70-15-70 559 0-17 80 8 80 31 80 63 100 80 100 109 120 414 415 130 138 127 157 93 145 49 95 41 99 38 111 30 110 20 100 11 100 0 110-3 40-6 0zM8255 2085l-1830 4-946-4-4-140 21-160 47-180 64-170 78-150 95-140 115-139 130-137 395-394 110-120 81-100 65-100 36-90 8-80-17-80 559 0-15 70 3 70 18 70 43 90 91 140 303 411 160 233 143 236 117 230 77 190 48 170 13 80 5 80-5 110-8 0zM785 2075l-40 3-30-10-28-23-17-30-4-30 8-30 21-28 30-19 40-7 40 11 29 23 17 30 3 40-12 30-27 27-30 13zM9145 2076l-30 3-40-11-29-23-17-30-4-30 8-30 23-30 29-17 40-7 30 7 30 19 25 38 2 40-12 30-25 27-30 14z"/><path fill="#2c2c2c" d="M4395 2085l-1160 4-1591-4-4-140 18-140 41-150 71-180 89-180 142-240 158-230 166-215 312-375 90-120 31-60 11-50-7-50-23-50 323 0-27 60-5 30 2 30 24 60 57 80 197 210 475 452 160 160 140 160 100 143 54 95 46 100 42 110 36 120 24 110 12 90 3 100-7 70zM8235 2085l-1810 4-942-4-4-140 11-100 22-110 35-120 44-120 44-97 50-92 60-92 70-92 180-196 565-541 118-120 89-100 57-80 24-60 2-30-5-30-27-60 323 0-23 50-7 50 11 50 31 60 90 120 342 413 165 217 167 250 141 250 94 210 61 190 18 90 9 80 1 80-6 70zM795 2067l-30 8-40-6-30-19-18-25-9-30 4-30 18-30 25-19 30-10 40 3 30 16 25 30 8 30-8 40-15 21-30 21zM9155 2069l-40 6-30-8-30-21-15-21-8-30 8-40 15-21 30-21 30-8 40 6 30 19 18 25 9 30-4 30-23 35-30 19z"/><path fill="#2d2d2d" d="M4385 2085l-1150 4-1568-4-5-140 11-100 24-110 34-110 52-130 61-130 76-140 79-130 96-142 120-161 130-160 130-146 130-132 100-90 80-58 70-32 60-7 60 14 80 42 100 73 140 116 300 265 240 221 150 153 110 129 74 105 66 114 54 116 47 130 36 130 21 120 5 130-5 60-8 0zM8205 2085l-1780 4-938-4-5-130 10-100 23-110 35-120 45-119 47-101 53-95 64-95 76-97 120-131 160-155 300-271 260-225 110-86 80-51 60-25 60-7 70 18 80 48 100 83 130 128 140 154 140 168 130 173 112 166 90 150 74 140 63 140 48 130 35 130 18 110 3 130-5 50-8 0zM785 2067l-40 4-30-9-22-17-18-30-5-30 9-30 16-22 30-19 40-5 30 9 24 17 19 30 4 30-9 30-18 24-30 18zM9155 2066l-30 6-30-5-30-18-18-24-9-30 4-30 19-30 24-17 30-9 30 1 30 15 26 30 9 30-5 30-20 32-30 19z"/><path fill="#2e2e2e" d="M4385 2085l-1150 4-1548-4-4-140 13-110 24-110 38-120 53-130 69-140 73-130 89-140 93-132 120-154 120-138 120-125 110-100 90-70 80-47 80-28 70-6 80 15 90 40 110 70 130 97 230 191 240 214 150 147 120 135 80 109 62 102 58 117 52 133 38 130 23 120 7 120-5 80-5 0zM8185 2085l-1760 4-935-4-4-130 10-100 24-110 40-130 48-120 49-100 58-97 70-98 80-97 130-135 180-167 240-208 200-160 120-83 90-50 80-28 80-7 80 18 80 38 100 70 110 96 130 132 130 148 130 166 110 157 90 145 76 140 69 150 49 130 33 120 21 120 4 130-4 60-8 0zM775 2066l-30 3-30-10-28-24-14-30 0-30 12-26 20-22 30-14 30-1 35 13 22 20 13 30 0 30-13 30-22 20-25 11zM9145 2067l-30 1-35-13-22-20-13-30 0-30 13-30 22-20 25-11 30-3 30 10 28 24 14 30 0 30-12 26-20 22-30 14z"/><path fill="#2f2f2f" d="M4385 2085l-1150 4-1527-4-4-140 12-110 24-110 38-120 53-130 69-140 74-130 84-130 97-135 110-136 120-134 110-108 110-94 90-62 90-45 80-22 70-4 90 15 100 41 110 64 130 91 210 167 210 181 150 144 125 137 85 112 67 108 61 120 48 120 40 130 22 110 9 110-7 100zM8165 2085l-1740 4-931-4-5-130 11-100 28-120 39-120 48-117 53-103 62-100 75-102 80-92 140-142 170-153 210-175 170-129 120-78 100-52 90-29 90-9 80 13 90 37 90 55 110 87 120 113 130 141 120 147 110 152 93 146 78 140 67 140 50 130 37 130 21 120 6 130-5 70-7 0zM755 2066l-30-5-20-11-22-25-9-30 4-30 17-26 20-16 30-9 30 3 30 16 18 22 9 30-5 30-20 30-22 14-30 7zM9135 2066l-30-3-30-16-18-22-9-30 5-30 20-30 22-14 30-7 30 5 20 11 22 25 9 30-4 30-17 26-20 16-30 9z"/><path fill="#2f2f2f" d="M4375 2085l-1140 4-1508-4-3-150 13-110 27-120 40-120 55-130 65-130 77-130 86-130 98-130 100-120 110-117 110-103 100-80 90-58 90-41 80-21 80-4 100 17 100 38 120 66 130 88 180 137 200 169 160 151 120 130 80 104 73 114 61 120 53 130 39 130 21 110 6 120-6 70-7 0zM8145 2085l-1720 4-927-4-6-130 12-100 26-110 43-130 52-120 53-100 67-104 70-91 90-102 140-138 170-149 190-152 170-121 120-72 100-45 90-24 90-6 90 15 90 36 100 59 100 77 120 110 120 127 110 132 108 148 91 140 78 140 66 140 49 130 34 120 21 120 5 140-4 60-8 0zM785 2055l-30 8-30-4-20-11-20-23-8-20 0-30 15-30 23-19 30-9 30 3 26 15 17 20 9 30-4 30-12 20-26 20zM9155 2059l-30 4-30-8-26-20-12-20-4-30 9-30 17-20 26-15 30-3 20 4 30 21 15 23 5 20-5 30-15 23-30 21z"/><path fill="#303030" d="M4375 2085l-1140 4-1489-4-4-150 13-110 25-110 38-120 54-130 66-130 77-130 88-130 92-121 100-117 110-114 100-90 100-76 90-54 90-40 90-21 80-3 100 16 100 36 120 62 130 83 180 133 180 148 150 138 120 127 90 113 70 105 62 115 55 130 39 120 26 120 8 110-4 70-2 20-4 0zM8125 2085l-1700 4-924-4-5-130 14-110 27-110 43-120 55-124 53-96 67-100 80-101 90-99 140-133 170-145 170-131 150-103 110-63 110-49 100-26 90-6 90 13 90 31 100 54 100 72 110 95 120 122 110 128 107 141 86 130 80 140 67 140 51 130 37 130 20 120 6 140-5 60-9 0zM775 2057l-30 4-20-4-30-21-13-21-5-20 5-30 13-21 30-21 30-4 24 6 26 19 14 21 4 20-4 30-14 21-30 21zM9155 2057l-30 4-24-6-26-19-14-21-4-20 4-30 14-21 30-21 30-4 20 4 30 21 13 21 5 20-5 30-13 21-30 21z"/><path fill="#313131" d="M4375 2085l-1140 4-1471-4-4-150 13-110 27-120 40-120 50-120 67-130 78-130 83-120 97-125 100-113 100-100 100-86 100-72 90-51 90-35 90-19 80-2 100 15 110 38 110 55 140 86 170 123 170 138 150 136 120 127 90 112 70 105 60 111 55 127 40 120 24 110 8 100-7 100zM8115 2085l-1690 4-920-4-6-130 12-100 28-110 43-120 54-120 59-104 70-103 80-98 90-97 140-131 160-134 160-120 150-99 120-66 110-44 100-23 90-5 90 14 90 30 100 52 100 68 110 93 110 109 110 125 100 130 89 133 75 130 64 130 52 130 35 120 23 120 8 120-6 100zM765 2057l-30 0-20-7-20-17-15-28 0-30 9-20 16-18 30-14 20-2 30 10 20 18 13 26 0 30-8 20-19 20-26 12zM9145 2057l-20 2-30-10-20-18-13-26 0-30 8-20 19-20 26-12 30 0 20 7 20 17 15 28 0 30-9 20-16 18-30 14z"/><path fill="#323232" d="M4365 2085l-1130 4-1454-4-3-150 12-110 27-120 40-120 51-120 62-120 78-130 87-124 90-113 100-111 100-97 100-83 100-68 90-48 90-33 90-16 80-2 100 16 110 36 120 58 130 78 160 112 160 127 150 134 120 124 90 110 75 110 65 118 53 122 40 120 24 110 6 120-6 70-7 0zM8095 2085l-1670 4-917-4-6-130 13-100 29-110 44-120 57-121 60-103 70-99 80-97 100-104 130-120 160-130 150-110 150-95 110-57 110-42 100-23 100-4 90 13 90 30 100 50 100 66 110 91 110 107 110 125 95 123 87 130 75 130 58 120 51 130 34 120 22 120 7 120-5 90-4 0zM755 2056l-30-3-20-12-14-16-12-30 6-30 14-20 26-18 20-4 30 6 20 13 16 23 5 20-5 30-13 20-23 16-20 5zM9145 2055l-30-1-20-9-21-20-8-20 0-30 8-20 21-20 20-9 20-3 30 9 20 17 14 26 2 20-12 30-24 23-20 7z"/><path fill="#333333" d="M4365 2085l-1130 4-1437-4-3-150 12-110 24-110 39-120 51-120 67-130 73-120 84-119 90-112 100-108 100-95 100-80 90-59 90-46 90-32 90-17 90-2 100 16 110 35 120 56 130 76 160 110 160 126 140 125 120 123 90 109 70 101 64 113 56 126 39 114 24 110 8 100-5 70-6 20zM8075 2085l-1650 4-913-4-7-120 12-100 25-100 48-130 55-116 60-103 70-98 80-96 100-104 130-119 150-121 150-107 140-87 120-61 110-41 100-22 100-5 100 14 90 29 100 48 100 65 100 80 110 105 100 110 100 127 90 132 75 130 62 130 45 120 34 120 20 120 6 130-5 70-7 0zM775 2048l-20 6-30-3-20-12-18-24-6-20 6-30 18-24 20-12 30-3 20 6 19 13 14 20 5 20-5 30-14 20-19 13zM9165 2046l-20 7-30-1-20-10-17-17-9-20 0-30 9-20 22-20 25-9 20 1 20 7 23 21 11 30-2 20-12 23-20 18z"/><path fill="#333333" d="M4365 2085l-1130 4-1421-4-3-150 12-110 25-110 39-120 50-120 63-120 73-120 82-115 90-110 90-97 100-93 100-78 90-59 90-45 90-31 90-17 90-3 100 14 110 33 120 53 130 73 150 101 160 123 140 122 120 121 90 106 73 102 67 117 56 123 39 110 25 110 8 100-8 90zM8065 2085l-1640 4-910-4-7-120 12-100 26-100 45-120 58-120 66-109 70-96 80-93 100-102 130-116 150-119 140-98 140-84 120-58 110-39 100-20 100-4 90 12 100 31 100 48 100 64 100 78 110 104 100 109 89 112 82 120 71 120 64 130 47 120 34 120 20 110 8 110-5 110zM775 2045l-20 7-30-3-20-12-17-22-6-20 6-30 17-22 20-12 40-1 25 15 14 20 6 20-2 20-9 20-24 20zM9155 2049l-30 3-20-7-24-20-9-20 0-30 9-20 34-25 30-2 20 8 20 18 11 21 2 20-6 20-17 22-20 12z"/><path fill="#343434" d="M4365 2085l-1130 4-1421-4-3-150 12-110 25-110 39-120 50-120 63-120 73-120 82-115 90-110 90-97 100-93 100-78 90-59 90-45 90-31 90-17 90-3 100 14 110 33 120 53 130 73 150 101 160 123 140 122 120 121 90 106 73 102 67 117 56 123 39 110 25 110 8 100-8 90zM8065 2085l-1640 4-910-4-7-120 12-100 26-100 45-120 58-120 66-109 70-96 80-93 100-102 130-116 150-119 140-98 140-84 120-58 110-39 100-20 100-4 90 12 100 31 100 48 100 64 100 78 110 104 100 109 89 112 82 120 71 120 64 130 47 120 34 120 20 110 8 110-5 110zM775 2045l-20 7-30-3-20-12-17-22-6-20 6-30 17-22 20-12 40-1 25 15 14 20 6 20-2 20-9 20-24 20zM9155 2049l-30 3-20-7-24-20-9-20 0-30 9-20 34-25 30-2 20 8 20 18 11 21 2 20-6 20-17 22-20 12z"/><path fill="#353535" d="M4355 2085l-1120 4-1396-4-2-160 13-110 26-110 36-110 52-120 61-116 71-114 79-108 90-108 90-93 100-89 100-74 90-54 90-41 90-28 90-14 90-1 110 17 110 34 120 53 130 73 150 100 140 107 130 113 120 120 90 105 77 108 63 108 56 122 38 110 24 110 4 100-7 70-5 0zM8035 2085l-1610 4-905-4-7-120 13-100 27-100 47-120 61-120 64-101 70-92 90-102 100-98 130-113 130-100 140-94 130-75 120-56 110-37 100-19 100-4 100 14 90 26 100 45 100 61 100 75 100 91 100 106 90 111 85 122 71 120 58 120 47 120 34 120 20 120 5 130-4 70-6 0zM765 2046l-30 3-20-8-18-16-11-20-2-20 6-20 15-19 20-12 20-4 30 9 18 16 10 20-3 40-16 20-19 11zM9155 2046l-20 4-30-9-18-16-10-20 3-40 16-20 19-11 30-3 20 8 18 16 11 20 2 20-6 20-15 19-20 12z"/><path fill="#363636" d="M4345 2085l-1110 4-1372-4-2-160 13-110 26-110 36-110 48-110 58-110 73-115 80-109 90-104 90-90 90-77 100-72 90-52 90-39 90-26 90-13 90 0 110 16 110 33 120 51 120 65 140 90 140 104 130 110 120 118 100 114 70 95 66 111 56 120 42 120 20 100 2 110-6 50-10 0zM8015 2085l-1590 4-900-4-7-120 11-90 27-100 49-121 62-119 68-104 70-89 90-98 110-106 130-109 130-96 130-84 130-71 110-47 110-34 100-17 100-3 90 12 100 28 100 44 100 60 90 67 100 88 100 104 86 105 78 110 71 120 59 120 43 110 34 120 19 110 7 110-7 100zM755 2046l-20 0-20-8-20-19-9-24 2-20 12-20 15-13 20-8 20 0 23 11 17 20 6 20-2 20-10 20-34 21zM9145 2046l-20 0-23-11-17-20-6-20 2-20 10-20 34-21 20 0 20 8 20 19 9 24-2 20-12 20-15 13-20 8z"/><path fill="#373737" d="M4345 2085l-1110 4-1349-4-3-160 14-110 23-100 36-110 47-110 59-110 70-110 75-100 88-101 90-89 90-75 100-70 90-49 90-37 90-25 90-12 90 0 110 16 110 32 110 45 130 68 140 89 140 103 130 110 110 107 100 112 70 95 61 101 58 120 39 110 20 90 4 100-8 70-4 0zM7985 2085l-1560 4-894-4-8-120 14-100 28-96 50-118 60-110 60-90 70-87 90-97 110-105 120-100 130-95 130-83 120-64 110-48 110-34 110-19 100-3 100 13 90 25 100 42 100 57 90 65 100 86 90 91 92 110 78 110 66 110 59 120 42 110 33 120 19 120 4 140-4 50-9 0zM765 2039l-20 5-20-3-20-13-15-23-2-20 7-20 30-26 20-3 20 5 26 24 6 20-2 20-11 20-19 14zM9165 2036l-20 8-20-1-20-10-16-18-6-20 2-20 11-20 19-14 20-5 20 3 30 26 7 20-2 20-25 31z"/><path fill="#393939" d="M4335 2085l-1100 4-1327-4-3-160 14-110 23-100 37-110 48-110 60-110 68-104 80-104 80-89 90-85 90-72 90-60 90-48 90-36 90-23 90-11 90 0 110 16 110 31 120 49 120 63 140 87 130 95 120 100 120 115 100 110 70 93 60 99 55 114 40 110 19 90 2 110-7 50-9 0zM7965 2085l-1540 4-889-4-8-60-1-60 13-90 30-100 45-106 60-110 60-89 80-97 100-104 100-92 120-98 120-87 130-80 120-63 110-45 110-33 100-16 100-3 100 12 100 27 90 37 100 55 100 70 90 77 90 90 88 105 79 110 65 110 54 110 42 110 30 110 19 120 4 130-4 60-7 0zM765 2036l-20 6-20-3-20-14-13-20-2-20 5-16 10-14 20-14 20-3 20 6 15 11 12 20 0 30-12 20-15 11zM9155 2039l-20 3-20-6-15-11-12-20-2-20 7-20 12-14 20-11 20-1 20 8 23 28 2 20-5 16-10 14-20 14z"/><path fill="#3a3a3a" d="M4335 2085l-1100 4-1306-4-3-160 12-100 25-110 37-110 45-100 60-110 66-100 74-95 80-88 90-84 90-71 90-58 90-46 90-35 90-22 90-10 90 1 110 16 110 30 120 49 120 61 130 80 130 94 120 99 120 113 90 97 70 89 68 110 54 110 37 100 20 90 4 90-9 70-4 0zM7945 2085l-1520 4-884-4-8-60-1-60 13-90 31-100 49-108 64-112 66-93 70-81 100-101 110-98 120-95 120-83 120-72 120-59 110-43 100-27 100-15 100-2 100 12 90 24 100 40 90 49 100 68 90 75 90 90 86 101 74 102 65 108 53 110 42 110 29 110 17 110 4 130-4 60-6 0zM755 2037l-20 2-20-8-16-16-8-20 3-20 11-17 30-17 20 2 20 11 16 31-7 30-29 22zM9155 2036l-20 4-20-7-23-28-3-20 7-20 29-22 20-2 20 8 21 26-1 32-10 15-20 14z"/><path fill="#3b3b3b" d="M4325 2085l-1090 4-1286-4-3-160 14-110 24-100 34-100 44-100 54-100 66-100 73-93 80-88 80-74 90-71 90-58 90-46 90-34 90-23 90-11 90 1 110 14 110 29 120 47 120 60 130 79 130 92 120 98 120 112 90 95 70 89 64 102 60 120 33 90 19 90 1 100-8 50-9 0zM7925 2085l-1500 4-879-4-9-60-1-60 14-90 29-90 50-110 66-112 60-83 70-80 100-100 110-97 120-94 120-82 120-70 110-54 110-42 100-27 100-15 100-2 100 11 90 23 100 38 90 48 100 67 90 73 90 88 80 93 71 97 66 110 54 110 39 103 29 107 17 110 4 130-4 60-6 0zM745 2037l-30-8-14-14-8-20 3-20 9-15 30-17 20 2 17 10 16 30-3 20-10 17-30 15zM9145 2037l-20-2-17-10-16-30 3-20 10-17 30-15 30 8 14 14 8 20-3 20-9 15-30 17z"/><path fill="#3d3d3d" d="M4325 2085l-1090 4-1266-4-3-160 13-100 23-100 33-100 44-100 55-100 61-92 70-89 80-87 80-74 90-69 90-57 90-44 90-33 90-22 90-10 90 1 110 15 110 29 120 46 120 59 120 72 130 91 120 98 120 110 90 93 70 88 67 105 50 100 38 100 17 80 2 90-9 60-5 0zM7905 2085l-1480 4-875-4-9-60 0-60 14-90 34-100 54-110 62-101 60-79 70-77 110-105 110-95 110-83 110-74 120-69 110-52 110-41 100-25 100-15 100-1 100 12 90 23 100 38 90 48 90 59 90 73 87 84 79 90 73 100 61 100 54 110 37 100 27 100 18 110 5 120-5 70-6 0zM765 2027l-30 8-20-8-12-12-8-30 8-20 12-12 30-8 20 8 12 12 8 30-8 20-12 12zM9165 2027l-30 8-20-8-12-12-8-30 8-20 12-12 30-8 20 8 12 12 8 30-8 20-12 12z"/><path fill="#3e3e3e" d="M4325 2085l-1090 4-1246-4-2-160 12-100 24-100 34-100 45-100 56-100 62-90 73-90 72-75 80-71 90-67 80-49 90-43 90-32 90-20 90-10 90 2 110 15 110 28 120 46 120 59 120 72 130 91 120 97 120 109 80 82 70 87 64 99 51 100 35 90 17 80 3 80-10 70zM7885 2085l-1460 4-870-4-9-60-1-60 12-80 34-100 49-100 65-105 60-78 70-75 110-104 110-93 120-90 110-71 110-62 110-51 110-39 100-24 100-13 90-2 100 12 90 21 90 33 90 45 90 57 90 70 90 84 80 90 71 95 61 100 50 100 38 100 28 100 18 110 4 120-4 70-6 0zM755 2030l-30 0-26-25 0-30 26-25 30 0 25 25 0 30-25 25zM9155 2030l-30 0-25-25 0-30 25-25 30 0 26 25 0 30-26 25z"/><path fill="#3f3f3f" d="M4315 2085l-1080 4-1226-4-5-80 2-80 13-100 24-100 34-100 41-90 51-90 61-90 65-80 80-84 80-70 80-59 90-54 90-42 90-31 90-19 90-9 90 2 110 15 110 29 120 45 120 59 120 72 120 84 120 96 130 115 80 82 63 79 67 105 50 99 28 76 16 80 1 80-10 60-5 0zM7865 2085l-1440 4-865-4-10-60-1-60 13-80 33-96 50-99 67-105 63-79 70-72 220-190 110-81 110-71 110-61 110-49 110-38 100-24 100-12 90-1 100 12 90 22 90 33 90 45 90 57 90 70 80 75 80 90 63 84 62 100 50 100 38 100 29 110 15 100 3 120-4 60-6 0zM755 2028l-30 1-24-24 0-30 24-24 30 1 22 23 0 30-22 23zM9155 2029l-20 2-15-6-11-10-9-20 9-30 26-16 30 9 18 27-8 27-20 17z"/><path fill="#404040" d="M4315 2085l-1080 4-1207-4-4-150 12-100 20-90 34-100 39-90 50-90 61-90 65-80 80-83 80-70 90-64 80-47 90-41 90-29 80-18 90-9 90 1 110 15 110 27 120 45 120 58 120 71 120 83 120 94 130 113 80 80 60 73 60 91 50 96 32 84 16 70 3 80-11 70zM7845 2085l-1420 4-861-4-10-60-1-50 11-80 31-92 50-100 60-95 60-76 60-63 110-99 120-98 110-81 110-71 110-61 110-50 100-35 100-24 100-14 100-2 90 9 100 23 90 32 90 44 90 56 90 69 80 74 76 84 67 90 57 92 49 98 38 100 28 110 14 100 2 120-4 50-7 0zM755 2026l-20 4-10-3-23-22-3-10 3-20 23-22 10-3 20 4 19 21 0 30-19 21zM9155 2027l-20 2-11-4-12-10-9-20 9-30 23-14 30 8 16 26-6 24-20 18z"/><path fill="#424242" d="M4305 2085l-1070 4-1189-4-4-150 11-90 19-90 29-90 44-100 50-90 60-88 67-82 73-75 80-68 80-57 80-47 90-41 90-30 90-19 90-8 90 1 110 15 110 28 120 45 110 52 120 70 120 82 140 109 130 113 70 71 60 75 60 95 45 89 28 80 13 70-1 80-9 50-6 0zM7825 2085l-1400 4-856-4-10-60-2-50 12-80 31-90 55-106 60-92 50-61 70-71 230-192 110-79 110-69 100-54 110-49 100-34 110-26 100-12 90 0 100 11 90 22 90 32 90 44 90 56 80 61 80 74 77 85 67 90 55 90 45 90 37 100 26 100 15 110 0 130-3 30-9 0zM745 2028l-30-9-15-24 0-10 11-20 24-13 20 4 10 8 10 21-9 30-21 13zM9145 2028l-20-4-10-8-10-21 9-30 21-13 30 9 15 24 0 10-11 20-24 13z"/><path fill="#434343" d="M4305 2085l-1070 4-1172-4-3-150 10-90 20-90 30-90 39-90 50-90 56-81 65-79 75-77 80-68 80-56 80-45 90-40 80-27 90-19 90-9 90 1 110 14 110 27 120 44 110 52 120 69 120 81 140 107 130 110 70 70 60 75 60 95 44 86 25 70 13 70 0 70-12 60zM7815 2085l-1390 4-851-4-11-60-2-50 13-80 27-80 52-100 62-95 60-72 60-59 230-187 110-79 110-68 110-58 100-43 100-34 100-23 100-12 90-1 90 9 100 22 90 31 90 43 90 55 80 60 80 73 70 76 63 82 56 90 46 90 38 100 24 90 16 100 4 100-7 80zM745 2026l-10 1-20-10-14-22 0-10 12-20 22-12 28 12 10 20-8 28-20 13zM9145 2027l-28-12-10-20 10-30 28-12 20 10 14 22 0 10-12 20-22 12z"/><path fill="#444444" d="M4295 2085l-1060 4-1155-4-4-150 11-90 20-90 28-84 40-90 48-86 56-80 66-80 70-70 80-67 80-55 80-45 90-39 90-28 80-16 90-8 90 2 110 14 110 28 110 39 110 52 110 62 120 79 160 121 120 99 70 69 60 75 60 94 42 84 25 70 12 70-3 80-9 40-7 0zM7795 2085l-1370 4-847-4-10-50-3-60 13-80 29-80 53-100 65-95 50-59 70-67 230-182 110-76 100-62 110-57 100-42 100-33 100-23 100-11 90-1 90 10 90 19 90 31 90 41 90 54 80 60 80 72 70 75 65 86 55 88 45 92 34 90 24 90 14 100 3 110-5 60-5 0zM755 2020l-10 4-20-2-18-17-4-20 22-27 20-2 23 19 3 20-16 25zM9155 2022l-20 2-10-4-16-25 3-20 23-19 20 2 22 27-4 20-18 17z"/><path fill="#454545" d="M4295 2085l-1060 4-1138-4-4-150 11-90 21-90 31-90 36-80 46-80 57-82 60-71 70-70 70-58 80-56 80-45 90-39 80-26 90-19 90-8 90 1 110 14 110 26 110 39 110 51 110 61 120 79 160 118 120 97 60 57 60 72 60 90 47 89 26 70 12 70-2 70-13 50zM7775 2085l-1350 4-843-4-12-60-1-50 13-80 30-80 53-96 66-94 54-61 60-56 240-185 110-75 100-59 110-56 100-41 100-31 90-19 100-11 90 0 90 10 90 20 90 30 90 42 90 55 77 57 73 66 70 75 60 78 57 91 43 88 34 92 23 90 14 100 1 120-4 40-8 0zM755 2018l-20 6-27-19-4-20 21-26 20-2 21 18 3 20-14 23zM9155 2021l-10 3-20-6-14-23 3-20 21-18 20 2 21 26-4 20-17 16z"/><path fill="#474747" d="M4285 2085l-1050 4-1121-4-3-150 11-90 18-80 31-90 36-80 46-80 56-80 66-76 70-68 70-56 80-54 80-43 90-37 80-23 90-17 80-7 90 2 110 14 110 27 110 40 110 51 110 61 110 72 180 130 110 88 60 58 60 74 60 93 41 81 23 70 8 60-6 80-7 30-9 0zM7765 2085l-1340 4-839-4-12-60-1-50 11-70 31-85 53-95 67-93 50-55 60-55 230-173 210-135 100-51 100-42 100-32 100-22 100-12 90 0 90 9 90 19 90 29 80 36 90 52 80 58 77 67 66 70 62 80 51 80 41 80 36 90 24 90 15 90 4 90-6 90zM755 2016l-20 7-26-18-4-20 20-24 20-2 19 16 3 20-12 21zM9155 2019l-20 2-11-6-11-20 3-20 19-16 20 2 20 24-4 20-16 14z"/><path fill="#484848" d="M4285 2085l-1050 4-1104-4-5-70 1-80 11-90 19-80 32-90 37-80 48-80 51-71 60-69 70-67 70-56 80-52 80-42 80-33 80-24 90-17 80-7 90 1 100 12 110 26 110 37 110 49 110 60 120 77 180 127 110 86 60 57 60 73 55 83 41 80 22 60 11 70-5 70-9 40-5 0zM7745 2085l-1320 4-835-4-12-60-2-50 11-70 31-80 51-90 66-92 50-55 60-53 240-176 210-131 100-49 100-41 100-31 90-19 100-10 90-1 90 10 90 19 90 30 80 36 80 46 80 57 70 60 70 73 61 77 51 80 41 80 35 90 25 90 13 90 3 100-5 70-4 0zM745 2020l-20-2-19-23 5-20 24-17 20 8 11 19-4 20-17 15zM9155 2018l-20 2-17-15 0-30 17-15 20 2 19 23-5 20-14 13z"/><path fill="#494949" d="M4285 2085l-1050 4-1088-4-6-80 2-70 10-80 21-90 28-80 37-80 46-77 53-73 62-70 65-61 70-55 80-52 80-41 80-32 80-23 90-16 80-7 90 2 100 13 110 26 100 34 110 48 110 60 110 68 190 131 110 84 60 56 54 65 56 82 42 78 22 60 11 60-1 60-14 60zM7725 2085l-1300 4-831-4-13-60-2-50 12-70 32-80 59-100 63-83 50-52 60-51 240-170 210-127 90-44 100-40 100-30 90-19 100-10 90 0 90 10 80 17 80 25 90 39 80 45 80 56 75 64 67 70 58 74 49 76 45 90 31 80 23 90 14 100-1 120-3 30-8 0zM745 2019l-20-3-18-21 5-20 23-15 20 8 9 17-3 20-16 14zM9155 2016l-20 3-16-14 0-30 16-14 20 3 18 21-5 20-13 11z"/><path fill="#4b4b4b" d="M4275 2085l-1040 4-1073-4-5-70 1-80 10-80 19-80 28-80 37-80 48-80 51-70 63-70 61-56 70-55 70-45 80-41 80-32 80-24 90-16 80-7 90 1 100 13 110 25 100 34 110 47 100 53 110 67 210 142 100 74 60 56 55 64 55 81 42 79 23 70 8 60-8 70-8 30-7 0zM7715 2085l-1290 4-827-4-12-50-3-60 12-70 30-75 57-95 63-83 50-51 60-50 220-152 210-129 100-49 100-41 100-30 90-19 100-11 90-1 90 9 90 19 90 30 80 35 80 45 80 57 70 61 60 62 54 68 52 80 41 80 32 80 24 90 12 80 3 100-8 70zM745 2017l-20-2-17-20 6-20 21-14 20 9 8 15-4 20-14 12zM9145 2019l-20-9-8-15 4-20 24-14 20 12 7 12-6 20-21 14z"/><path fill="#4c4c4c" d="M4275 2085l-1040 4-1058-4-6-80 2-70 10-80 20-80 28-80 38-80 43-70 52-70 61-67 60-56 70-53 70-44 80-41 80-31 80-23 90-16 80-5 90 2 100 12 100 23 100 33 110 48 100 52 120 73 210 138 90 66 60 54 50 59 54 76 44 80 21 60 10 60-3 60-16 50zM7695 2085l-1270 4-823-4-14-60-2-50 13-70 28-70 54-90 64-83 100-92 220-150 230-138 90-44 100-39 100-31 90-18 100-11 90 0 90 10 90 19 80 25 80 35 80 44 80 56 70 60 60 62 59 75 46 70 41 80 33 90 23 90 11 90-2 110-3 30-8 0zM745 2016l-20-2-16-19 6-20 20-13 20 10 7 13-5 20-12 11zM9145 2018l-20-10-7-13 5-20 22-13 26 23-6 20-20 13z"/><path fill="#4d4d4d" d="M4265 2085l-2074 0-5-70 1-80 11-80 19-80 29-80 34-70 43-70 52-69 60-66 60-54 70-53 70-44 80-40 80-30 80-22 80-13 80-6 90 1 100 13 100 22 100 33 100 42 100 51 120 70 220 141 90 65 60 54 50 58 55 77 43 80 20 60 8 60-10 80-6 20-10 0zM7685 2085l-2080 0-14-60-2-50 13-70 29-70 54-87 60-76 50-51 50-41 210-139 230-137 90-44 100-41 100-30 100-21 100-10 90 0 90 10 90 19 80 26 80 35 80 45 70 49 70 59 60 61 58 73 45 70 41 80 31 80 20 80 13 90 1 90-5 60-4 0zM735 2017l-26-22 6-19 20-13 20 11 5 11-4 20-21 12zM9145 2017l-20-11-5-11 4-20 21-12 26 22-6 19-20 13z"/><path fill="#4e4e4e" d="M4265 2085l-2060 0-5-140 10-80 19-80 28-80 34-70 43-70 51-68 57-62 63-57 70-52 70-43 70-34 80-31 80-22 80-14 80-6 90 1 100 12 90 19 100 32 100 40 100 50 120 69 230 143 90 63 60 54 50 57 56 79 38 70 21 60 8 60-8 70-9 30-6 0zM7665 2085l-2056 0-15-60-2-50 10-60 24-60 39-69 60-82 50-55 50-44 160-107 280-168 100-50 100-40 100-32 100-21 100-10 100 0 90 9 80 17 80 25 80 34 80 44 70 48 70 59 61 62 56 70 46 70 40 80 30 80 22 90 10 90-4 120-1 10-10 0zM735 2016l-25-21 5-17 20-14 10 2 14 19-5 20-19 11zM9145 2016l-10-2-14-19 5-20 19-11 25 21-5 17-20 14z"/><path fill="#505050" d="M4265 2085l-2047 0-6-70 1-70 8-70 19-80 28-80 33-70 42-70 52-68 57-62 63-56 70-51 70-42 70-33 80-30 80-21 80-13 80-6 90 2 100 12 90 21 100 31 100 41 210 113 230 140 90 62 60 53 50 57 57 80 38 70 20 60 5 50-5 60-15 40zM7655 2085l-2043 0-14-50-3-60 8-50 22-60 33-60 47-68 50-59 50-47 130-91 300-179 100-51 110-47 100-33 110-24 100-12 100 0 90 9 80 16 80 24 80 33 80 43 70 47 70 58 61 61 56 70 46 70 36 70 30 80 23 90 10 80-1 100-4 40-7 0zM745 2013l-20-2-14-16 4-16 20-14 10 2 13 18-5 20-8 8zM9155 2011l-10 4-18-10-5-20 13-18 20 2 14 16 0 10-14 16z"/><path fill="#515151" d="M4255 2085l-2024 0-6-70 1-70 10-80 17-70 29-80 34-70 44-70 46-60 59-62 60-53 70-50 70-41 70-33 80-29 80-20 80-13 80-5 80 2 90 11 100 21 100 32 100 40 220 117 230 137 90 62 60 55 50 59 50 72 36 68 18 60 4 50-12 70-7 20-9 0zM7645 2085l-2029 0-16-60-2-50 11-60 19-50 37-64 50-69 90-92 130-89 310-181 100-50 100-42 110-35 100-21 100-11 100-1 90 10 80 16 80 25 80 33 80 43 70 48 61 50 60 60 50 60 47 70 37 70 31 80 21 80 11 80 2 90-6 60-4 0zM745 2012l-10 2-10-4-13-15 3-15 20-14 10 2 11 17-4 20-7 7zM9155 2010l-10 4-17-9-4-20 11-17 10-2 10 4 13 15 0 10-13 15z"/><path fill="#525252" d="M4255 2085l-2012 0-6-70 1-70 10-80 18-70 25-70 34-70 44-70 46-60 50-53 60-54 70-51 70-41 70-33 80-29 80-21 80-12 80-5 80 1 100 12 90 19 100 31 100 40 210 110 240 140 80 53 60 52 50 56 54 75 38 70 19 60 4 50-9 60-10 30-6 0zM7635 2085l-2016 0-16-60-2-50 11-60 20-50 33-57 50-68 90-92 120-81 330-189 190-85 110-35 100-21 100-10 100 0 80 8 80 15 80 24 80 32 80 43 70 46 61 50 61 60 50 60 47 70 36 70 31 80 19 70 11 80 2 80-8 70zM745 2011l-10 3-22-19 2-13 20-16 16 9 4 10 0 10-10 16zM9155 2009l-10 5-16-9-4-20 10-16 10-3 22 19 0 10-12 14z"/><path fill="#545454" d="M4255 2085l-2000 0-6-70 1-70 8-70 17-70 25-70 33-70 42-67 48-63 52-55 64-55 66-47 70-41 80-36 70-24 80-20 80-11 160-3 90 11 90 19 90 27 100 39 200 101 250 142 90 58 60 52 50 55 50 68 39 70 16 50 7 50-4 50-18 50zM7615 2085l-1993 0-17-60-2-50 9-50 19-50 34-60 40-55 90-96 120-82 340-191 190-84 110-34 100-21 100-10 100 0 90 10 80 17 80 25 70 29 80 42 70 47 60 50 60 60 51 63 45 70 35 70 26 70 20 80 9 90-5 110-1 10-10 0zM745 2010l-10 3-21-18 1-12 20-16 15 8 4 10 0 10-9 15zM9155 2008l-10 5-15-8-4-20 9-15 10-3 21 18 0 10-11 13z"/><path fill="#555555" d="M4245 2085l-1978 0-7-70 1-70 9-70 17-70 25-70 35-70 38-61 50-63 50-53 60-51 60-43 70-41 70-32 80-28 80-20 80-12 160-3 90 10 90 19 90 27 100 38 200 99 250 140 90 57 60 51 50 55 52 71 37 70 18 60 2 50-16 70-4 10-9 0zM7605 2085l-1979 0-18-60-2-50 9-50 19-50 71-108 90-95 120-81 330-182 100-48 100-41 100-30 110-23 100-10 100 0 80 9 80 16 80 24 80 32 70 37 70 47 60 48 60 59 53 66 45 70 35 70 25 70 19 80 8 80-4 100-3 20-8 0zM745 2009l-10 3-20-17 0-10 20-17 14 7 5 10-9 24zM9155 2007l-10 5-14-7-5-20 9-14 10-3 20 17 0 10-10 12z"/><path fill="#565656" d="M4245 2085l-1967 0-7-70 1-70 9-70 17-70 26-70 31-62 40-63 50-63 50-51 60-51 60-42 70-39 140-56 80-20 80-13 160-3 90 10 90 19 90 26 90 33 200 97 260 142 90 57 60 50 50 55 50 68 31 56 19 53 6 57-9 60-11 30-6 0zM7595 2085l-1966 0-17-60-3-50 9-50 20-50 36-60 41-54 90-90 110-72 350-188 180-77 100-31 100-21 100-10 100-1 90 10 80 16 80 24 70 28 70 36 70 45 60 48 60 58 50 61 45 68 36 70 26 70 19 80 8 80-4 100-3 20-7 0zM745 2008l-10 4-20-17 0-10 20-17 13 7 5 10-8 23zM9155 2006l-10 6-13-7-5-20 8-13 10-4 20 17 0 10-10 11z"/><path fill="#575757" d="M4245 2085l-1957 0-7-70 2-70 9-70 18-70 26-70 31-60 38-60 49-60 51-52 60-50 60-41 70-39 140-54 80-19 80-11 160-2 90 10 90 19 90 27 100 38 130 61 280 149 130 80 50 42 50 55 50 67 32 60 16 50 5 50-7 50-16 40zM7585 2085l-1952 0-18-60-3-50 7-40 18-50 28-50 50-67 90-90 110-70 340-181 190-81 100-30 100-20 100-10 100 0 80 7 80 16 80 23 70 27 70 35 70 45 60 46 62 60 50 60 40 60 37 70 26 70 18 70 10 80-2 100-4 30-7 0zM745 2007l-10 4-19-16 0-10 19-16 12 6 5 10-7 22zM9145 2011l-12-6-5-10 5-20 12-6 19 16 0 10-19 16z"/><path fill="#595959" d="M4235 2085l-1936 0-7-70 1-70 9-70 18-70 28-70 31-60 40-60 46-56 50-49 60-49 60-40 70-38 140-53 150-28 160-2 90 10 90 19 90 26 90 33 130 60 290 152 126 75 54 46 50 54 50 68 30 55 17 57 3 50-13 60-8 20-9 0zM7575 2085l-1939 0-18-60-3-50 7-40 19-50 34-57 40-53 80-81 110-73 350-183 190-80 100-29 100-20 100-10 100 0 80 8 80 15 80 24 70 27 70 36 70 44 60 48 56 54 50 60 40 60 36 70 26 70 17 70 8 80-3 90-4 30-6 0zM745 2006l-10 4-19-15 0-10 19-15 17 15-7 21zM9145 2010l-17-15 6-20 11-5 19 15 0 10-19 15z"/><path fill="#5a5a5a" d="M4235 2085l-1926 0-8-70 2-70 9-70 19-70 54-120 81-110 49-50 60-50 60-40 73-40 77-32 70-22 150-26 160-1 90 10 90 19 180 61 130 60 280 144 129 77 51 43 50 55 50 67 29 55 15 50 4 40-11 60-12 30-5 0zM7565 2085l-1925 0-19-60-3-50 10-50 17-40 70-102 90-90 108-68 352-181 180-74 100-29 100-20 100-9 100 0 80 8 80 16 80 23 70 28 70 36 66 42 63 50 51 50 50 60 40 60 35 70 25 69 16 71 8 70-4 90-4 30-6 0zM735 2010l-18-15 0-10 18-15 16 15-6 20-10 5zM9145 2010l-16-15 6-20 10-5 18 15 0 10-18 15z"/><path fill="#5b5b5b" d="M4235 2085l-1916 0-7-70 0-60 9-70 14-58 50-120 40-64 40-50 103-98 57-40 71-40 69-31 88-29 142-26 150-4 98 10 92 18 164 52 196 90 275 140 85 52 60 49 50 54 49 65 27 50 16 50 3 40-8 50-17 40zM7555 2085l-1911 0-18-50-6-50 8-50 16-40 61-93 90-92 110-72 340-173 190-80 101-30 101-20 101-10 97 0 151 20 75 20 80 30 64 31 80 49 51 40 59 55 50 60 40 59 34 66 26 72 16 68 7 70-3 90-4 30-6 0zM735 2009l-18-14 0-10 18-14 15 14-5 18-10 6zM9145 2009l-15-14 5-18 10-6 18 14 0 10-18 14z"/><path fill="#5c5c5c" d="M4225 2085l-1894 0-8-70 1-60 7-60 17-70 22-60 30-60 39-60 41-50 50-50 55-45 60-40 70-38 140-51 150-27 160-2 170 25 170 54 200 91 260 130 90 53 60 49 50 53 44 58 29 50 16 50 2 50-14 60-9 20-8 0zM7545 2085l-1898 0-19-50-5-50 5-40 14-40 29-50 34-46 90-91 110-71 360-179 180-72 90-26 100-19 100-10 100 0 150 20 80 22 70 26 130 70 60 44 60 56 48 56 41 60 36 70 22 60 17 70 8 70-3 80-5 40-4 0zM735 2008l-17-13 0-10 17-13 15 13 0 10-15 13zM9145 2008l-15-13 0-10 15-13 17 13 0 10-17 13z"/><path fill="#5e5e5e" d="M4225 2085l-1882 0-7-60 0-70 21-120 22-60 30-60 36-56 44-54 50-50 56-45 60-39 70-37 140-49 150-26 160-1 170 26 170 54 120 52 310 151 110 63 60 48 50 52 47 61 27 50 12 40 3 50-11 50-14 30-4 0zM7535 2085l-1884 0-20-50-5-50 5-40 20-50 64-91 90-86 100-61 360-176 180-72 100-27 90-16 100-10 100 1 160 23 140 46 70 33 60 37 60 45 50 47 42 47 42 60 33 60 28 70 17 70 7 60 0 70-9 60zM735 2008l-17-13 0-10 17-13 14 13 0 10-14 13zM9145 2008l-14-13 0-10 14-13 17 13 0 10-17 13z"/><path fill="#5f5f5f" d="M4225 2085l-1870 0-8-60 0-70 22-120 23-60 31-60 40-60 42-49 100-87 120-69 140-50 150-25 160-2 170 25 170 53 120 51 310 149 110 61 50 38 50 49 46 56 30 50 17 50 4 40-9 50-18 40zM7525 2085l-1871 0-20-50-6-50 6-40 15-40 56-83 90-88 100-63 380-182 170-66 90-25 100-18 100-9 90 1 150 19 80 21 70 25 70 33 60 36 60 44 50 46 44 49 42 60 33 60 23 60 16 60 10 70 0 70-8 60zM735 2007l-16-12 0-10 16-12 13 12 0 10-13 12zM9145 2007l-13-12 0-10 13-12 16 12 0 10-16 12z"/><path fill="#606060" d="M4215 2085l-1849 0-8-60 0-70 8-60 15-60 23-60 31-58 35-52 45-52 100-85 120-67 140-48 150-24 160-1 160 23 170 52 110 46 320 150 110 60 60 47 50 51 40 50 28 48 15 50 1 40-16 60-10 20-8 0zM7505 2085l-1848 0-20-50-7-50 7-40 15-40 53-77 90-87 100-62 380-179 160-62 100-27 90-16 100-9 100 1 160 21 140 44 70 34 60 36 60 44 50 47 45 52 40 60 30 60 22 60 16 70 5 70-9 100-9 0zM735 2006l-16-11 0-10 16-11 12 11 0 10-12 11zM9145 2006l-12-11 0-10 12-11 16 11 0 10-16 11z"/><path fill="#626262" d="M4215 2085l-1838 0-8-60 0-70 8-60 15-60 51-110 34-50 48-55 100-83 120-66 140-46 150-23 160 0 170 26 160 50 430 195 100 54 50 37 50 48 45 53 30 50 13 40 4 50-13 50-15 30-4 0zM7495 2085l-1834 0-22-50-6-50 6-40 16-40 60-83 90-82 100-58 370-171 170-64 100-26 90-14 90-7 100 1 160 22 140 44 120 63 60 44 50 46 48 55 34 50 32 60 22 60 16 70 6 70-8 90-2 10-8 0zM735 2006l-15-11 0-10 15-11 12 11 0 10-12 11zM9145 2006l-12-11 0-10 12-11 15 11 0 10-15 11z"/><path fill="#636363" d="M4215 2085l-1828 0-8-60 0-70 8-60 16-60 24-60 28-50 36-50 44-50 100-80 120-64 140-44 150-22 160 1 160 24 160 49 430 192 110 59 50 39 50 49 40 49 26 48 12 40 1 40-9 40-20 40zM7485 2085l-1821 0-23-50-6-50 6-40 17-40 57-77 90-81 100-57 380-172 160-59 90-23 90-15 100-8 90 1 150 18 80 21 70 24 120 61 60 43 50 44 44 50 36 50 32 60 23 60 17 70 6 70-8 90-2 10-8 0zM735 2005l-15-10 0-10 15-10 11 10 0 10-11 10zM9145 2005l-11-10 0-10 11-10 15 10 0 10-15 10z"/><path fill="#646464" d="M4205 2085l-1808 0-9-60 0-70 9-60 16-60 52-106 39-54 41-44 100-79 120-62 130-40 150-22 160 0 160 23 160 49 440 194 100 53 50 38 50 48 40 49 24 43 12 40 0 50-17 50-11 20-8 0zM7475 2085l-1808 0-23-50-7-50 4-30 15-40 24-40 35-42 80-72 100-58 390-175 160-58 90-23 90-14 90-7 100 1 160 21 140 42 120 62 50 35 54 48 45 50 35 50 32 60 22 60 15 70 5 60-8 90-2 10-8 0zM745 1996l-10 9-14-10 0-10 14-10 10 10 0 11zM9155 1999l-10 6-10-10 0-10 10-10 14 10-4 14z"/><path fill="#656565" d="M4205 2085l-1799 0-8-60 0-70 22-110 24-60 29-50 36-50 46-49 100-77 120-59 130-39 150-21 160 1 150 21 160 48 440 191 100 53 60 46 50 49 35 46 21 40 9 40-1 40-17 50-12 20-5 0zM7465 2085l-1795 0-24-50-7-50 7-40 12-30 57-76 80-71 100-58 390-172 160-58 90-22 90-14 90-6 100 2 150 19 140 41 120 59 60 42 50 45 44 49 35 50 26 50 23 60 15 60 6 70-8 90-2 10-9 0zM735 2004l-14-9 0-10 14-9 10 9 0 10-10 9zM9155 1999l-10 5-10-9 0-10 10-9 14 9-4 14z"/><path fill="#676767" d="M4205 2085l-1790 0-8-60 0-70 22-110 48-100 37-50 41-45 100-78 120-60 140-41 150-19 160 1 150 22 150 45 450 193 90 47 50 37 50 46 40 49 23 43 10 40 0 30-10 40-23 40zM7455 2085l-1782 0-25-50-7-50 7-40 13-30 54-72 80-69 100-56 390-171 160-57 80-19 90-15 90-6 100 1 160 20 140 41 120 60 100 78 49 55 35 50 30 60 18 50 13 60 5 70-10 90-10 0zM735 2004l-13-9 0-10 13-9 9 9 0 10-9 9zM9155 1998l-10 6-9-9 0-10 9-9 13 9-3 13z"/><path fill="#686868" d="M4195 2085l-1771 0-9-60 0-70 7-50 17-60 49-100 77-91 100-76 120-58 140-38 150-19 160 1 150 23 140 42 450 191 100 53 50 38 50 47 30 38 21 39 10 40-1 40-18 50-13 20-9 0zM7455 2085l-1779 0-26-50-7-50 15-60 47-67 80-71 100-58 410-177 140-49 90-22 90-14 90-6 100 2 150 19 140 38 120 58 100 76 77 91 28 50 25 60 15 60 6 60-2 60-9 50zM735 2003l-13-8 0-10 13-8 9 8 0 10-9 8zM9155 1998l-10 5-9-8 0-10 9-8 13 8-3 13z"/><path fill="#696969" d="M4195 2085l-1762 0-10-60 0-60 8-60 13-50 48-100 73-88 100-77 120-58 130-37 160-20 160 0 140 19 150 44 460 194 90 47 50 37 50 47 30 37 19 35 10 40-1 40-18 48-13 22-7 0zM7445 2085l-1767 0-26-50-7-50 15-60 25-39 30-34 80-66 90-50 410-175 140-49 90-22 80-12 90-6 100 2 150 17 140 38 120 55 100 73 46 48 34 46 31 54 20 50 15 60 7 60-2 60-11 50zM735 2003l-12-8 0-10 12-8 8 8 0 10-8 8zM9155 1997l-10 6-8-8 0-10 8-8 12 8-2 12z"/><path fill="#6a6a6a" d="M4195 2085l-1754 0-10-60 0-60 8-60 14-50 21-50 28-50 73-85 100-75 120-55 130-35 160-20 160 0 140 21 140 41 460 191 90 46 90 72 34 39 23 40 11 40-2 40-14 40-22 30zM7435 2085l-1754 0-27-50-8-50 17-60 22-35 30-34 80-65 90-48 410-173 140-49 90-21 80-12 180-4 160 19 140 37 120 55 100 75 43 45 36 50 27 50 20 50 14 60 5 60-5 70-6 30-4 0zM735 2002l-12-7 0-10 12-7 8 7 0 10-8 7zM9155 1997l-10 5-8-7 0-10 8-7 12 7-2 12z"/><path fill="#6c6c6c" d="M4195 2085l-1746 0-10-60-1-60 9-60 14-50 21-50 30-50 73-83 100-72 120-53 130-33 160-19 160 1 140 21 140 42 460 190 80 41 90 70 31 35 24 40 11 40-1 40-15 40-20 30zM7425 2085l-1741 0-28-50-8-50 17-60 50-65 80-64 90-47 410-171 140-49 80-19 90-13 180-2 160 19 140 37 110 49 100 72 42 43 37 50 28 50 20 50 15 60 5 60-5 70-6 30-6 0zM735 2002l-11-7 0-10 11-7 7 7 0 10-7 7zM9155 1996l-10 6-7-7 0-10 7-7 10 6 0 12z"/><path fill="#6d6d6d" d="M4185 2085l-1729 0-10-60 0-60 6-50 17-60 46-90 70-82 50-40 50-32 110-50 130-35 160-20 170-1 120 16 140 38 490 200 80 42 90 73 30 37 17 34 9 40-6 40-24 50-7 10-9 0zM7415 2085l-1729 0-28-50-9-50 18-60 48-61 80-63 80-42 190-74 250-107 120-41 80-18 80-12 180-3 150 17 150 37 120 53 50 32 50 40 40 42 37 50 27 50 19 50 13 60 4 60-9 80-2 10-9 0zM735 2001l-11-6 0-10 11-6 7 6 0 10-7 6zM9155 1996l-10 5-7-6 0-10 7-6 10 5 0 12z"/><path fill="#6e6e6e" d="M4185 2085l-1722 0-10-60-1-60 20-100 21-50 30-50 72-81 90-64 110-50 140-36 170-21 160 0 130 19 130 38 298 125 182 70 80 40 90 72 30 38 16 30 8 40-3 30-15 40-20 30-6 0zM7415 2085l-1726 0-30-50-8-50 18-60 36-48 70-59 90-49 192-74 238-102 130-46 80-19 80-12 80-5 100 2 160 17 140 34 120 50 100 70 41 41 38 50 28 50 19 50 12 50 6 60-3 50-11 50zM735 2001l-10-6 0-10 10-6 6 6 0 10-6 6zM9155 1995l-10 6-6-6 0-10 6-6 10 6 0 10z"/><path fill="#707070" d="M4185 2085l-1715 0-11-60-1-60 21-100 22-50 30-50 74-80 90-62 120-51 130-31 170-20 150 0 130 18 130 38 307 128 173 65 80 40 90 70 28 35 16 30 9 40-3 30-16 40-24 30zM7405 2085l-1713 0-31-50-9-50 14-50 39-55 70-58 90-48 190-72 260-111 110-37 80-19 80-12 170-2 170 18 140 33 110 46 100 67 42 40 39 50 28 50 20 50 13 50 6 60-6 70-7 30-5 0zM735 2000l-9-5 0-10 9-5 6 5 0 10-6 5zM9145 2000l-6-5 0-10 6-5 9 5 0 10-9 5z"/><path fill="#717171" d="M4185 2085l-1709 0-11-60-1-60 7-50 14-50 47-90 73-81 90-62 120-51 130-31 170-21 160 0 130 19 120 35 300 125 190 71 80 41 80 63 30 38 16 34 5 30-5 40-14 30-22 30zM7395 2085l-1701 0-31-50-9-50 5-30 14-30 42-52 70-53 80-41 199-74 241-103 120-41 80-19 80-12 170-1 170 19 140 33 120 51 90 62 42 41 38 50 27 50 19 50 13 60 2 60-12 80-9 0zM735 2000l-9-5 0-10 9-5 5 5-5 15zM9145 2000l-5-5 5-15 9 5 0 10-9 5z"/><path fill="#727272" d="M4175 2085l-1693 0-11-60-1-60 7-50 15-50 47-90 75-80 91-61 110-45 130-31 180-21 150-1 120 16 130 37 301 126 199 73 70 36 80 62 24 29 20 40 6 30-6 40-24 46-12 14-8 0zM7395 2085l-1698 0-32-50-10-50 14-50 36-49 70-56 80-42 200-73 250-107 120-41 150-29 170-2 170 19 140 31 110 43 100 65 40 38 36 43 30 50 21 50 15 60 4 50-4 60-12 40zM735 2000l-8-5 0-10 8-5 5 5-5 15zM9145 2000l-5-5 5-15 8 5 0 10-8 5z"/><path fill="#737373" d="M4175 2085l-1687 0-12-60 0-60 7-50 15-50 47-88 70-75 90-60 110-45 140-32 180-21 150-1 120 18 120 34 310 130 190 68 70 35 80 61 29 36 14 30 5 30-5 40-21 40-16 20-6 0zM7385 2085l-1686 0-33-50-9-50 14-50 34-46 70-55 80-41 200-72 260-111 110-37 150-28 160-2 170 18 150 33 120 48 90 60 40 39 35 44 30 50 19 50 12 50 4 60-8 70-5 20-7 0zM735 1999l-7-4 0-10 7-4 4 4-4 14zM9145 1999l-4-4 4-14 7 4 0 10-7 4z"/><path fill="#757575" d="M4175 2085l-1682 0-11-60-1-60 19-90 47-90 68-75 90-60 110-45 140-32 180-22 150-1 120 17 120 34 300 126 200 71 80 40 50 35 30 29 23 33 11 30 3 30-6 30-21 40-20 20zM7385 2085l-1683 0-34-50-10-50 14-50 43-53 60-44 80-40 180-63 270-115 110-38 150-30 160-2 180 20 140 29 110 41 100 62 40 37 38 46 47 90 14 50 6 60-3 50-12 50zM735 1999l-6-4 0-10 6-4 4 4-4 14zM9145 1999l-4-4 4-14 6 4 0 10-6 4z"/><path fill="#767676" d="M4175 2085l-1676 0-12-60-1-60 20-90 22-50 26-40 71-75 90-58 110-42 140-31 190-22 140 0 110 16 120 34 305 128 205 72 70 34 50 35 30 29 21 30 12 30 3 30-6 30-15 30-25 30zM7375 2085l-1671 0-35-50-10-50 15-50 31-41 60-46 80-41 200-70 250-107 120-42 150-29 150-2 180 19 150 31 120 45 90 58 40 37 38 48 24 40 21 50 12 50 5 60-9 70-5 20-6 0zM735 1998l-5-3 0-10 5-3 0 16zM9145 1998l0-16 5 3 0 10-5 3z"/><path fill="#777777" d="M4165 2085l-1661 0-12-60-1-60 20-90 23-50 26-40 65-67 90-58 110-43 130-29 200-24 140-1 110 16 120 34 310 130 200 68 80 40 70 57 19 27 12 30 3 30-10 40-24 37-12 13-8 0zM7375 2085l-1668 0-36-50-10-50 15-50 39-48 60-42 70-34 195-66 265-113 110-38 140-28 150-3 180 19 150 30 110 38 100 60 40 35 40 47 26 43 21 50 13 50 5 50-3 50-12 50zM735 1998l-5-3 5-13 0 16zM9145 1998l0-16 5 3-5 13z"/><path fill="#787878" d="M4165 2085l-1655 0-13-60-1-60 20-90 24-50 25-37 70-71 90-55 110-40 140-29 190-23 140 0 110 16 110 32 290 123 220 75 80 38 40 28 30 28 23 35 9 30 0 30-9 30-23 35-20 15zM7365 2085l-1655 0-38-50-10-50 10-40 33-46 50-39 80-41 200-66 260-112 120-42 140-27 140-3 190 21 160 32 110 40 90 55 40 36 35 42 31 50 19 50 12 50 3 50-7 60-8 30-5 0zM735 1997l-4-2 4-12 0 14zM9145 1997l0-14 4 2-4 12z"/><path fill="#7a7a7a" d="M4165 2085l-1650 0-13-60-1-60 21-90 44-80 69-71 90-55 110-40 140-29 190-23 140-1 100 14 110 30 310 131 210 69 80 37 40 27 30 29 29 52 3 30-6 30-24 40-22 20zM7365 2085l-1653 0-38-50-11-50 11-40 31-43 50-39 70-35 219-73 251-108 110-39 140-30 150-2 190 21 150 29 110 38 90 52 40 35 39 44 26 40 22 50 13 50 5 50-3 50-12 50zM735 1997l0-14 0 14zM9145 1997l0-14 0 14z"/><path fill="#7b7b7b" d="M4165 2085l-1645 0-13-60-1-60 21-90 45-80 63-64 90-56 100-36 140-30 200-25 140-3 110 16 100 29 310 131 210 67 80 36 61 45 24 30 13 30 3 30-7 30-16 30-28 30zM7355 2085l-1640 0-40-50-11-50 11-40 30-41 50-38 70-34 210-68 260-112 120-42 130-26 140-3 190 22 160 30 110 38 90 52 40 35 40 47 24 40 21 50 12 50 3 50-7 60-8 30-5 0zM735 1996l0-12 0 12zM9145 1996l0-12 0 12z"/><path fill="#7c7c7c" d="M4155 2085l-1630 0-14-60-1-60 22-90 43-75 70-70 80-48 100-37 140-29 210-27 140-1 100 14 100 29 310 132 220 69 80 37 60 48 18 28 10 30 0 30-10 30-28 39-13 11-7 0zM7355 2085l-1637 0-41-50-12-50 12-40 28-39 50-37 60-30 230-73 250-109 110-39 130-27 140-4 200 23 160 30 100 33 90 50 40 32 36 40 28 40 23 50 14 50 5 50-4 50-12 50zM735 1996l0-12 0 12zM9145 1996l0-12 0 12z"/><path fill="#7e7e7e" d="M4155 2085l-1626 0-13-60-1-60 18-80 44-80 68-68 80-49 100-36 140-29 220-29 130-1 100 15 100 28 310 132 220 68 80 36 60 47 17 26 10 30 0 30-10 30-27 37-20 13zM7345 2085l-1625 0-25-24-17-26-12-50 12-40 27-37 50-36 60-29 220-67 270-117 110-39 130-25 130-2 200 24 160 30 100 32 90 50 40 33 38 43 26 40 22 50 12 50 3 50-7 60-8 30-6 0zM735 1995l0-10 0 10zM9145 1995l0-10 0 10z"/><path fill="#7f7f7f" d="M4155 2085l-1621 0-14-60-1-60 19-80 45-80 62-62 90-53 100-34 140-27 210-29 130-2 100 14 100 29 310 133 230 69 80 37 53 45 17 30 8 30-12 50-22 30-24 20zM7345 2085l-1622 0-28-27-16-23-12-50 12-40 26-34 40-31 60-29 230-69 260-114 110-40 130-27 130-3 190 23 180 32 110 37 80 46 40 33 32 36 27 40 22 50 12 50 4 50-5 50-12 40z"/><path fill="#818181" d="M4145 2085l-1607 0-12-50-3-60 15-80 43-80 64-66 80-49 90-33 130-27 230-33 140-4 100 14 90 25 90 35 240 107 220 63 80 35 51 43 18 30 8 30-4 30-15 30-28 31-20 9zM7335 2085l-1609 0-23-20-22-30-13-50 13-40 24-32 40-31 60-28 230-67 260-114 110-40 120-26 130-4 160 19 220 38 100 31 90 51 40 34 34 39 25 40 21 50 11 50 1 50-9 60-6 20-7 0z"/><path fill="#838383" d="M4145 2085l-1598 0-14-60-2-50 16-80 38-71 60-63 80-49 90-32 130-27 240-36 140-3 90 13 90 25 90 35 240 108 80 26 150 36 70 30 50 41 17 27 7 30-4 30-10 23-20 25-30 22zM7325 2085l-1593 0-27-22-20-25-10-23-4-30 12-40 22-28 30-24 50-25 250-69 260-116 110-41 120-25 120-4 130 15 260 44 100 31 80 43 40 33 33 36 27 40 21 50 11 50 2 50-10 60-6 20-8 0z"/><path fill="#868686" d="M4135 2085l-1579 0-14-50-4-60 18-80 39-71 60-59 80-47 120-36 270-45 110-14 90 0 80 11 90 23 90 35 260 119 70 21 150 32 70 27 50 41 15 23 7 30-4 30-15 30-23 24-30 16zM7315 2085l-1576 0-47-40-15-30-4-30 7-30 25-35 30-23 50-23 180-42 70-21 270-123 110-40 110-22 120-3 110 14 290 49 100 32 70 39 40 34 30 34 26 40 20 50 10 50 0 50-17 70-9 0z"/><path fill="#888888" d="M4125 2085l-1561 0-15-50-3-60 18-80 41-70 60-57 70-39 120-36 300-50 90-11 80 0 80 10 90 24 90 35 260 121 80 24 150 27 70 28 30 23 17 21 9 20 4 30-8 30-21 30-31 24-20 6zM7315 2085l-1569 0-31-20-20-20-16-30-4-30 8-30 22-31 30-23 40-18 60-17 130-23 60-17 80-33 200-96 110-40 110-22 110-3 90 11 320 54 90 28 70 36 40 31 30 33 27 40 18 40 11 40 4 50-6 50-14 40z"/><path fill="#8b8b8b" d="M4125 2085l-1554 0-15-50-3-60 14-70 39-70 59-57 70-40 100-30 340-58 80-9 80 0 100 16 90 28 90 39 180 90 70 27 70 18 140 20 70 26 20 13 24 27 10 20 5 30-5 20-17 30-27 24-30 16zM7305 2085l-1550 0-30-16-30-28-14-26-5-30 9-30 20-28 20-16 40-20 60-16 130-18 70-19 80-34 190-94 120-45 110-22 100-2 80 9 350 60 80 24 70 37 40 32 29 32 25 40 17 40 11 50 0 40-8 50-14 30z"/><path fill="#8e8e8e" d="M4105 2085l-1526 0-16-50-4-60 16-70 32-60 58-57 70-40 100-30 180-27 170-33 80-9 70 0 90 14 100 31 90 39 180 93 70 28 70 16 140 15 70 23 30 22 18 25 9 30-1 20-14 30-22 24-30 18-30 8zM7295 2085l-1529 0-41-19-24-21-19-30-4-30 9-30 18-25 50-31 70-17 130-13 70-18 70-30 200-102 120-46 100-21 100-3 80 9 360 62 80 24 60 30 40 30 30 31 27 40 17 40 10 40 2 50-12 60-8 20-6 0z"/><path fill="#909090" d="M4095 2085l-1509 0-17-50-3-60 15-70 35-60 49-48 70-40 90-27 190-28 180-36 80-9 70 1 90 15 100 33 86 39 174 93 70 29 70 15 140 8 70 21 30 22 16 22 10 30-2 20-14 29-20 22-30 18-40 11zM7285 2085l-1504 0-46-16-30-22-21-32-5-30 10-30 16-22 50-31 60-13 130-7 60-12 70-27 200-106 110-46 120-30 110-4 450 75 70 21 60 30 40 31 29 31 26 40 16 40 8 40 0 50-15 60-5 10-9 0z"/><path fill="#939393" d="M4065 2085l-1473 0-16-50-5-60 17-70 36-60 51-47 70-37 80-21 182-25 208-44 70-7 60 2 90 14 100 34 88 41 172 95 70 31 70 14 150 2 40 9 30 14 27 25 15 30 2 20-10 30-15 20-29 21-40 14-40 5zM7285 2085l-1471 0-59-11-40-21-24-28-10-40 10-30 14-19 20-16 30-14 50-10 140-1 60-11 70-29 190-104 110-49 120-32 110-5 90 11 180 39 200 29 60 17 60 30 40 32 29 32 35 70 9 40 1 40-10 50-14 30z"/><path fill="#959595" d="M3855 2085l-1256 0-18-50-4-60 13-60 35-61 50-48 70-37 80-20 190-25 210-46 70-6 60 2 90 16 100 36 90 45 170 98 70 30 60 10 150-7 40 7 40 21 27 35 5 30-17 40-35 28-60 15-150-7-80 14zM7275 2085l-1258 0-72-14-140 8-50-8-40-21-27-35-5-30 5-20 17-26 20-16 30-14 70-8 120 8 60-10 70-30 210-120 90-40 120-32 110-4 80 10 190 43 200 26 60 17 50 24 40 29 30 32 21 31 17 40 9 40 0 50-12 50-9 20-6 0z"/><path fill="#989898" d="M3825 2085l-1220 0-18-50-4-60 13-60 36-60 53-48 60-30 80-20 190-22 210-49 70-7 60 2 90 16 100 36 99 52 171 104 60 27 60 8 100-15 50-3 40 6 40 20 26 33 5 30-18 40-33 25-40 12-40 2-150-18-40 8-50 21zM7265 2085l-1211 0-49-21-50-9-160 19-40-6-40-20-26-33-5-30 5-20 16-23 40-26 70-10 120 18 60-5 70-30 188-114 112-55 120-34 60-7 60 1 80 11 190 46 210 26 50 14 50 24 34 24 29 30 27 40 15 40 8 50-3 40-20 60-10 0z"/><path fill="#9a9a9a" d="M3795 2085l-1184 0-19-50-4-60 14-60 33-55 50-45 60-31 80-19 190-19 220-54 60-6 60 1 100 20 100 38 107 60 173 114 50 23 50 2 100-28 50-5 50 7 30 17 24 30 5 30-5 20-13 20-31 23-40 10-40 0-120-30-40-3-40 11-70 39zM7265 2085l-1183 0-67-39-50-12-127 31-53 4-40-7-30-17-24-30-5-30 9-27 20-23 30-17 30-6 63 3 107 29 50-2 60-29 196-128 104-53 120-38 60-7 60-1 90 14 190 48 210 22 50 14 50 24 36 27 28 30 20 30 16 40 7 40-1 40-9 40-17 30z"/><path fill="#9d9d9d" d="M3765 2085l-1148 0-19-50-5-60 14-60 31-50 47-43 60-31 80-18 190-17 220-57 60-6 60 1 110 22 114 49 127 80 155 120 16 20-6 20-97 80-9 0zM7255 2085l-1149 0-87-70-16-20 0-10 39-40 118-90 89-60 76-42 70-30 70-20 70-10 70 1 80 13 190 51 220 22 50 15 40 20 39 30 26 30 18 30 14 40 6 40-4 40-16 50-5 10-8 0zM4145 2055l-50 10-62-10-80-40-19-20 0-10 34-30 65-30 52-10 50 6 40 26 18 38-2 20-9 20-37 30zM5845 2056l-70 8-50-14-20-17-16-28-2-20 11-30 37-30 30-8 30-2 70 16 62 34 19 20-7 20-44 30-50 21z"/><path fill="#9f9f9f" d="M3745 2085l-1122 0-20-50-5-60 15-60 31-50 41-37 60-30 80-17 190-14 230-62 60-6 60 2 100 22 100 42 112 70 110 90 34 40 7 20-3 20-38 50-33 30-9 0zM7255 2085l-1129 0-60-60-11-20-3-20 22-40 64-60 94-70 83-50 70-32 70-21 70-12 70 0 80 13 200 55 220 19 50 15 40 20 30 22 29 31 19 30 14 40 4 70-10 40-16 30zM4135 2057l-50 3-60-17-28-18-17-20 0-30 31-30 54-22 50-3 40 12 30 32 7 31-17 36-40 26zM5815 2057l-60 2-30-11-20-17-15-26-2-20 7-21 20-25 40-18 50 0 46 14 42 30 11 20-11 30-38 28-40 14z"/><path fill="#a2a2a2" d="M3735 2085l-1107 0-21-50-5-60 12-50 31-53 50-44 50-24 80-16 170-8 240-67 60-7 70 1 100 22 90 39 108 67 93 80 32 40 10 40-16 40-47 50zM7245 2085l-1101 0-52-60-10-40 16-40 46-50 87-70 84-52 70-33 70-22 70-12 70 0 90 17 180 54 60 7 150 6 50 11 50 21 33 23 30 30 19 30 16 40 5 40-3 40-18 50-5 10-7 0zM4125 2056l-50-2-50-22-18-17-9-20 9-30 38-29 40-12 40 0 40 17 24 34 0 30-24 34-40 17zM5795 2056l-30 2-30-7-20-12-19-24-7-20 2-20 14-24 20-17 40-12 40 4 46 19 28 30 0 30-15 20-32 20-37 11z"/><path fill="#a4a4a4" d="M3715 2085l-1081 0-22-50-5-60 11-50 30-50 47-41 50-24 80-15 170-5 60-13 180-57 70-9 60 2 90 19 90 37 104 66 80 70 37 50 9 40-4 20-17 30-39 40zM7245 2085l-1084 0-42-50-13-30-1-20 14-40 42-50 70-60 84-55 70-34 70-22 70-12 70 1 90 17 180 57 60 7 150 3 50 10 50 21 30 21 30 30 22 36 11 30 4 70-10 40-17 30zM4145 2049l-50 5-51-19-27-30-3-20 8-20 22-20 41-17 40-2 30 10 28 29 7 30-15 32-30 22zM5815 2046l-30 8-30 0-40-17-18-22-7-20 3-20 12-22 30-22 40-6 42 10 32 20 14 20 0 30-14 20-34 21z"/><path fill="#a7a7a7" d="M3695 2085l-1056 0-23-50-5-60 12-50 31-50 41-35 50-24 80-14 130 2 50-5 230-72 70-10 60 2 90 19 90 38 91 59 78 70 34 50 7 40-18 50-33 40-9 0zM7235 2085l-1059 0-39-50-11-30-1-20 12-40 39-50 68-60 75-50 66-32 70-24 70-11 70 1 90 18 180 60 60 7 150 0 50 9 50 21 30 21 29 30 18 30 14 40 4 30-4 40-14 40-11 20-6 0zM4145 2047l-40 5-50-18-26-29-2-20 8-20 21-20 39-15 40 0 30 15 17 20 7 30-14 30-30 22zM5795 2048l-30 4-30-5-20-12-17-20-7-20 3-20 11-20 20-17 30-10 30 2 39 15 21 20 8 20-8 30-21 20-29 13z"/><path fill="#aaaaaa" d="M3685 2085l-1041 0-24-50-5-60 12-50 28-44 40-35 50-24 70-13 140 4 50-4 50-13 180-63 70-10 60 2 80 16 90 37 89 57 67 60 36 50 11 50-17 50-30 40-6 0zM7235 2085l-1046 0-36-50-11-50 11-40 36-50 67-60 69-46 60-30 70-24 70-11 60 0 90 17 190 66 60 6 150-3 50 9 50 21 53 45 20 30 14 40 4 30-4 40-9 30-18 30zM4135 2048l-46-3-36-20-14-20-2-20 16-30 32-19 30-6 30 5 28 20 14 30-2 20-20 28-30 15zM5785 2047l-30 2-20-4-20-12-15-18-7-20 2-20 12-20 18-15 30-9 30 2 29 12 21 20 8 20-8 30-21 20-29 12z"/><path fill="#acacac" d="M3675 2085l-1026 0-25-50-5-60 13-50 25-40 38-34 50-24 70-12 140 8 50-3 50-14 120-48 60-19 70-10 60 1 80 16 80 33 87 56 66 60 34 50 11 50-16 50-32 40zM7225 2085l-1023 0-34-50-11-50 11-40 34-50 53-50 71-50 69-34 60-20 70-12 60 0 90 18 190 71 60 5 150-7 50 8 50 21 30 21 26 29 27 60 4 30-4 40-15 40-12 20-6 0zM4135 2046l-20 1-30-7-32-25-8-20 3-20 28-30 29-11 30 0 20 7 24 24 7 20-7 30-24 24-20 7zM5775 2046l-30 0-20-7-16-14-13-20-2-20 7-20 14-17 20-11 30-4 30 7 23 15 14 20 3 20-8 20-23 20-29 11z"/><path fill="#afafaf" d="M3665 2085l-1011 0-26-50-6-60 14-50 26-40 33-29 50-24 80-11 130 12 50-3 50-14 170-68 70-13 70 0 80 17 80 34 76 49 64 60 33 50 11 50-11 40-33 50zM7225 2085l-1010 0-33-50-11-50 11-40 33-50 51-50 69-48 60-31 60-20 70-12 60 1 90 19 190 74 60 5 150-11 50 7 50 21 51 45 28 60 4 30-4 40-10 30-19 30zM4155 2037l-40 7-20-4-26-15-16-30 7-30 24-20 31-9 30 2 20 12 18 25 2 20-10 24-20 18zM5795 2036l-20 7-30 1-35-19-13-20-2-20 20-35 20-12 30-2 20 4 26 15 14 20 2 20-7 20-25 21z"/><path fill="#b1b1b1" d="M3645 2085l-986 0-27-50-6-60 14-50 25-37 30-27 50-24 80-10 130 16 50-2 50-15 120-54 60-21 70-11 60 0 80 17 80 35 70 46 59 57 32 50 10 50-15 50-27 40-9 0zM7215 2085l-989 0-36-60-5-50 14-40 36-50 54-50 56-38 60-29 60-19 60-9 60 0 90 20 150 66 50 15 50 2 150-16 50 7 40 15 30 20 26 26 19 30 11 30 4 30-4 40-16 40-14 20-6 0zM4155 2035l-20 7-20 0-39-17-17-30 8-30 24-20 24-7 30 2 20 12 17 23 2 20-9 22-20 18zM5785 2037l-30 6-20-3-30-23-9-32 19-33 20-12 30-2 24 7 24 20 8 20-2 20-15 20-19 12z"/><path fill="#b4b4b4" d="M3635 2085l-972 0-27-50-7-60 10-40 26-42 40-34 40-17 80-9 130 19 50-1 50-15 110-53 60-23 70-14 70-1 80 17 70 30 70 47 58 56 31 50 10 50-14 50-27 40-8 0zM7215 2085l-978 0-35-60-5-50 13-40 35-50 42-40 58-41 60-31 60-19 60-9 60 1 90 21 150 69 50 15 50 1 100-17 50-3 50 7 40 15 32 21 27 30 17 30 8 30-2 60-12 32-20 28zM4145 2039l-40-2-32-22-8-30 17-30 23-12 30-4 20 7 20 19 8 20-2 20-16 22-20 12zM5775 2037l-40 2-20-12-16-22 0-30 26-29 20-7 30 4 23 12 15 20 2 20-8 20-32 22z"/><path fill="#b6b6b6" d="M3625 2085l-957 0-29-50-6-60 10-40 25-40 37-31 40-18 40-8 40 0 130 24 50 1 50-16 110-57 60-24 70-15 70-1 70 14 74 31 66 43 58 57 30 50 9 50-13 50-26 40-8 0zM7205 2085l-958 0-34-60-4-50 12-40 34-50 42-40 57-40 51-26 60-20 60-10 60 2 90 22 150 74 50 16 50-1 140-24 50 3 50 17 30 20 25 27 17 30 9 30 2 30-7 40-21 40-8 10-7 0zM4145 2037l-39-2-28-20-9-30 9-20 17-15 40-9 20 6 20 20 8 18-3 20-15 20-20 12zM5765 2038l-20 1-20-6-25-28 0-30 15-20 20-12 40 2 17 10 16 20 3 20-9 20-17 15-20 8z"/><path fill="#b9b9b9" d="M3615 2085l-942 0-30-50-7-60 10-40 27-40 32-27 40-18 40-7 40 0 130 30 50 1 50-17 110-61 60-25 70-15 80 0 70 17 71 32 69 50 46 50 26 50 5 40-5 30-14 30-20 30-8 0zM7205 2085l-948 0-34-60-4-50 12-40 26-40 48-49 50-36 60-30 50-16 60-10 60 2 50 9 50 18 140 74 50 17 50-1 90-23 50-7 50 3 50 17 30 20 21 22 18 30 9 30 1 40-7 30-14 30-18 20zM4145 2036l-20 1-20-5-28-27 0-30 28-27 20-5 20 1 20 12 14 19 0 30-14 19-20 12zM5765 2036l-20 2-20-7-24-26 0-30 14-19 20-12 20-1 20 5 28 27 3 20-8 20-33 21z"/><path fill="#bbbbbb" d="M3605 2085l-928 0-31-50-7-30 0-30 11-40 25-38 30-25 40-17 40-8 40 1 140 38 40 1 40-13 117-69 63-28 70-17 80 1 70 16 70 33 61 45 45 50 26 50 4 50-17 50-20 30-9 0zM7195 2085l-929 0-33-60-4-50 12-40 33-50 41-40 50-35 60-29 50-15 50-7 60 1 50 11 50 18 140 80 50 18 40-1 100-30 50-8 50 2 50 17 30 20 24 28 15 30 7 30-1 40-10 30-25 38-10 2zM4135 2036l-38-11-19-30 9-30 18-15 20-6 30 6 17 15 9 20-3 20-13 17-30 14zM5755 2036l-30-6-17-15-9-20 3-20 13-17 30-14 38 11 19 30-9 30-18 15-20 6z"/><path fill="#bebebe" d="M3605 2085l-581 0-29-6-39 6-274 0-33-50-7-30 0-30 11-40 22-33 30-26 40-18 40-6 50 3 130 43 40 2 40-14 111-71 69-33 70-17 70-1 70 15 61 26 60 40 49 50 29 50 9 50-13 50-25 40zM7195 2085l-271 0-39-6-29 6-581 0-32-60-5-50 12-40 25-40 38-40 54-40 48-25 60-19 60-8 50 2 50 11 51 19 139 85 50 20 40-2 100-36 50-10 50 2 50 16 30 22 20 23 16 30 7 30 0 30-7 30-16 30-20 20zM4155 2029l-30 5-20-7-15-12-9-30 9-20 12-10 23-9 20 1 25 18 10 30-10 20-15 14zM5775 2027l-20 7-20-1-25-18-10-30 10-20 15-14 30-5 20 7 15 12 9 30-9 20-15 12z"/><path fill="#c1c1c1" d="M3595 2085l-544 0-26-14-30-7-30 5-36 16-243 0-34-50-7-30 0-30 11-40 20-30 29-25 40-18 40-6 50 4 49 15 81 36 40 4 40-16 106-74 74-37 70-18 80 0 70 17 59 28 55 40 45 50 25 50 5 40-13 50-26 40zM7185 2085l-234 0-36-16-30-5-30 7-26 14-546 0-32-60-4-50 12-40 24-40 38-40 44-33 50-27 50-17 50-9 60 0 60 12 50 20 59 34 91 64 40 16 40-4 90-39 50-14 60 0 50 16 47 41 16 30 7 30-1 40-10 30-29 39-10 1zM4155 2028l-30 5-31-18-9-30 9-20 11-10 20-8 20 1 24 17 10 30-10 20-14 13zM5765 2030l-20 3-20-5-14-13-10-20 10-30 24-17 30 2 27 25 0 30-27 25z"/><path fill="#c3c3c3" d="M3585 2085l-516 0-44-31-30-8-30 9-55 30-219 0-19-20-17-30-8-30 0-30 12-40 21-30 35-27 30-12 50-6 50 8 46 17 84 44 30 4 30-12 112-86 68-38 70-21 80-3 70 15 60 27 56 40 45 50 24 50 5 40-12 50-28 40zM7185 2085l-215 0-55-30-30-9-30 8-44 31-520 0-31-60-4-50 11-40 24-40 38-40 46-34 50-25 50-17 50-7 50 1 60 13 60 26 53 33 97 76 30 12 30-4 90-47 60-19 60-2 50 17 43 37 17 30 8 30-2 40-10 30-21 30-15 10zM4155 2026l-30 5-28-16-9-30 17-27 30-10 20 6 13 11 11 30-11 20-13 11zM5765 2028l-20 4-20-6-13-11-11-20 11-30 23-16 30 3 24 23 0 30-24 23z"/><path fill="#c6c6c6" d="M3575 2085l-491 0-59-54-30-10-100 64-200 0-20-20-17-30-8-30 0-30 12-40 33-40 40-23 40-8 50 4 40 12 47 25 63 45 30 9 30-18 108-96 62-38 80-27 90-2 60 15 60 27 50 37 43 48 21 40 8 50-12 50-24 40-6 0zM7185 2085l-200 0-100-64-30 10-59 54-497 0-28-50-7-30 0-30 11-40 24-40 38-40 41-30 47-25 50-16 50-8 50 1 60 14 70 32 58 42 92 84 20 10 20-3 90-61 60-25 60-6 60 17 30 23 17 21 18 50 0 30-8 30-17 30-20 20zM4145 2030l-32-5-13-10-10-20 10-30 25-15 30 5 23 30-11 30-22 15zM5765 2026l-30 4-20-13-13-22 11-30 22-15 30 4 21 21 0 30-21 21z"/><path fill="#c8c8c8" d="M3565 2085l-469 0-50-60-10-20-3-20 20-40 43-50 44-40 55-37 40-19 50-14 50-5 50 4 60 17 60 31 51 43 31 40 20 50 2 40-16 50-20 30-8 0zM6775 2085l-468 0-20-30-14-40-3-30 5-30 18-40 31-40 41-36 50-30 50-18 50-10 50 0 50 8 65 26 60 40 63 60 37 50 7 20-7 30-46 60-10 10-9 0zM2875 2085l-175 0-12-10-27-40-9-40 9-50 24-37 50-32 30-8 40 0 70 23 60 44 31 40 0 30-41 50-40 29-10 1zM7175 2085l-178 0-42-30-29-30-15-30 3-20 41-50 70-43 70-15 60 13 30 19 20 21 14 25 9 30 0 30-9 30-24 37-20 13zM4145 2029l-30-5-12-9-10-20 10-30 22-13 30 4 22 29-4 20-28 24zM5755 2028l-30-4-22-29 4-20 28-24 30 5 12 9 10 20-10 30-22 13z"/><path fill="#cbcbcb" d="M3565 2085l-458 0-44-60-8-30 1-20 13-30 38-50 42-40 56-37 40-18 50-13 50-3 50 6 60 19 46 26 48 40 31 40 20 50 2 40-12 40-25 40zM6765 2085l-451 0-24-40-10-30-2-30 4-30 18-40 31-40 34-30 50-31 50-19 50-10 50 0 50 9 60 24 56 37 51 50 35 50 8 30-4 30-30 50-18 20-8 0zM2865 2085l-161 0-12-10-29-40-9-40 5-40 26-43 20-18 30-15 60-8 60 16 57 38 31 40 5 20-2 20-9 20-25 30-47 30zM7175 2085l-166 0-41-30-25-30-11-30 5-30 42-50 56-32 60-12 60 12 30 19 20 22 20 51 0 30-8 30-19 30-23 20zM4145 2028l-30-6-19-27 2-20 8-10 29-14 20 6 21 28-4 20-27 23zM5755 2027l-30-4-21-28 4-20 27-23 30 6 19 27-2 20-27 22z"/><path fill="#cdcdcd" d="M3555 2085l-439 0-39-60-8-30 2-20 16-40 29-40 42-40 47-32 50-22 40-10 50-3 50 6 60 20 50 29 46 42 28 40 14 40 2 40-16 50-24 30zM6755 2085l-434 0-32-60-4-30 4-40 18-40 31-40 37-32 47-28 43-16 50-10 50 0 50 9 60 25 47 32 42 40 35 50 12 40-4 30-27 50-16 20-9 0zM2855 2085l-146 0-24-21-23-39-6-40 10-40 29-39 50-27 60-3 55 19 51 40 22 40-3 40-29 40-46 30zM7165 2085l-145 0-17-10-34-30-19-30-3-40 14-30 42-40 62-27 60-2 50 21 20 19 19 29 10 50-6 30-13 26-21 24-19 10zM4145 2027l-30-7-18-25 4-20 7-10 27-12 20 5 21 27-4 20-27 22zM5755 2025l-30-3-21-27 4-20 27-22 30 7 18 25-4 20-24 20z"/><path fill="#d0d0d0" d="M3545 2085l-420 0-37-60-7-30 4-30 18-40 31-40 41-37 40-25 50-21 40-8 50-2 50 8 50 18 50 30 39 37 28 40 16 50-2 40-19 50-14 20-8 0zM6745 2085l-418 0-31-60-5-30 5-40 17-40 32-40 35-30 45-27 40-15 50-10 50 0 50 9 50 21 49 32 41 40 33 50 11 40-7 40-29 50-8 10-10 0zM2845 2085l-131 0-34-30-19-40-1-40 14-40 31-34 50-22 50 1 50 17 46 38 21 40-3 40-27 40-25 20-22 10zM7165 2085l-135 0-31-20-28-30-13-30 3-40 18-30 46-38 50-17 60 2 46 23 31 40 9 50-15 50-21 26-20 14zM4145 2026l-30-7-16-24 4-20 7-10 25-11 20 5 20 26-4 20-26 21zM5745 2026l-20-5-20-26 4-20 26-21 30 7 16 24-4 20-7 10-25 11z"/><path fill="#d2d2d2" d="M3545 2085l-412 0-35-60-6-30 3-30 17-40 30-40 33-31 45-29 45-19 50-10 50 0 40 8 50 18 50 32 33 31 28 40 14 40 2 40-11 40-26 40zM6745 2085l-411 0-32-60-4-30 4-40 18-40 22-30 33-31 50-32 40-15 50-11 50 0 50 10 50 22 50 35 40 42 24 40 9 40-3 30-17 40-23 30zM2835 2085l-116 0-36-30-19-40-2-40 14-40 29-31 50-22 50 1 54 22 41 40 14 40-8 40-33 40-38 20zM7155 2085l-116 0-43-30-22-30-8-30 4-30 26-40 49-33 50-12 50 8 43 27 25 40 5 50-21 50-22 21-20 9zM4135 2025l-22-10-8-10-4-20 14-22 30-8 25 20 4 20-19 26-20 4zM5745 2025l-20-4-19-26 4-20 25-20 30 8 14 22-4 20-8 10-22 10z"/><path fill="#d5d5d5" d="M3535 2085l-394 0-21-30-16-40-3-30 5-30 20-40 33-40 36-30 40-23 40-15 50-8 50 2 40 9 50 22 40 27 35 36 24 40 11 40-1 40-14 40-20 30-5 0zM6735 2085l-395 0-20-30-14-40-2-30 8-40 20-40 26-30 36-30 41-23 40-14 50-9 50 2 40 9 50 23 45 32 37 40 23 40 9 40-3 30-16 40-25 30zM2825 2085l-101 0-29-20-16-20-15-40 2-40 19-39 30-26 50-16 50 5 40 19 37 37 14 40-8 40-33 40-40 20zM7155 2085l-106 0-34-20-20-20-17-30-3-40 13-30 27-30 50-26 50-5 50 16 29 25 20 40 0 50-20 40-39 30zM4155 2020l-10 4-20-3-18-16 0-30 18-16 20-3 24 19 5 20-19 25zM5755 2021l-20 3-10-4-19-25 5-20 24-19 30 9 12 20-4 20-18 16z"/><path fill="#d7d7d7" d="M3525 2085l-377 0-26-40-10-30-3-30 5-30 13-30 30-40 38-34 40-24 40-16 50-8 40 1 50 10 50 22 40 29 29 30 25 40 11 40-2 40-20 50-14 20-9 0zM6725 2085l-379 0-20-30-14-40-2-40 7-30 21-40 26-30 37-30 44-23 40-13 50-7 80 12 46 21 42 30 37 40 22 40 9 40-3 30-21 50-15 20-7 0zM2815 2085l-85 0-32-20-22-30-11-40 6-40 24-37 30-21 40-11 50 7 43 22 33 40 8 40-14 40-30 32-40 18zM7145 2085l-87 0-36-20-27-30-14-40 4-30 17-30 33-29 40-16 50-2 40 14 34 33 15 40-5 50-24 37-20 16-20 7zM4155 2019l-20 4-27-18 0-30 17-15 20-3 24 18 4 20-18 24zM5755 2020l-20 3-10-4-18-24 4-20 24-18 28 8 12 20-3 20-17 15z"/><path fill="#dadada" d="M3525 2085l-370 0-26-40-10-30-3-30 5-30 19-40 23-30 42-36 40-23 40-14 40-6 50 2 40 10 40 17 44 30 29 30 25 40 11 40-2 40-14 40-23 30zM6725 2085l-373 0-20-30-14-40-2-40 7-30 21-40 26-30 35-28 40-22 40-13 40-6 50 2 40 10 40 18 41 29 37 40 22 40 8 30-2 40-10 30-26 40zM2805 2085l-68 0-12-5-30-21-22-34-6-40 11-40 24-30 33-20 40-6 50 11 38 25 26 40 3 40-13 30-34 34-40 16zM7135 2085l-67 0-13-5-38-25-22-30-8-30 8-40 22-30 38-25 50-11 40 6 40 26 22 34 6 40-11 40-27 33-20 12-20 5zM4155 2018l-20 5-25-18-4-20 19-24 20-4 23 18 5 20-18 23zM5755 2019l-20 4-10-5-18-23 5-20 23-18 26 8 13 20-4 20-15 14z"/><path fill="#dddddd" d="M3515 2085l-354 0-20-30-15-40-3-30 9-40 21-40 27-30 65-45 40-14 40-6 50 2 40 9 50 24 39 30 26 30 21 40 8 40-4 40-18 40-14 20-8 0zM6715 2085l-358 0-20-30-14-40-2-30 8-40 21-40 25-29 30-25 40-22 40-13 40-6 50 2 40 10 47 23 38 30 27 30 21 40 9 40-3 30-15 40-24 30zM2795 2085l-50 0-30-13-29-27-14-30-2-40 10-30 25-30 40-20 40-3 43 13 38 30 17 30 4 30-14 40-38 36-40 14zM7135 2085l-55 0-28-10-38-30-17-30-4-30 14-40 28-29 30-17 40-8 40 7 40 26 19 31 7 40-11 40-25 30-40 20zM4155 2017l-20 5-24-17-3-20 17-23 20-4 22 17 5 20-17 22zM5755 2018l-20 4-20-14-7-13 5-20 22-17 24 7 13 20-3 20-14 13z"/><path fill="#dfdfdf" d="M3515 2085l-348 0-20-30-15-40-3-30 9-40 22-40 26-30 29-23 40-22 40-13 40-4 50 4 40 12 40 20 33 26 27 30 21 40 7 30-1 40-15 40-22 30zM6705 2085l-342 0-20-30-15-40-1-40 7-30 21-40 27-30 33-26 40-20 40-12 40-4 40 2 40 11 40 19 39 30 26 30 22 40 9 40-6 40-25 50-7 10-8 0zM2785 2085l-40-2-30-13-26-25-17-40 2-40 15-30 26-25 40-15 40 2 40 16 33 32 12 30-2 40-18 30-35 28-40 12zM7115 2085l-40-4-40-21-23-25-14-40 8-40 23-30 36-22 40-9 40 6 30 17 23 28 11 40-7 40-19 30-28 21-40 9zM4155 2016l-20 5-22-16-4-20 16-22 20-4 21 16 6 20-17 21zM5755 2017l-20 4-20-14-7-12 6-20 21-16 22 6 14 20-4 20-12 12z"/><path fill="#e2e2e2" d="M3505 2085l-332 0-20-30-15-40-2-40 8-30 21-40 27-30 33-25 40-20 40-11 40-3 40 4 40 12 40 21 30 24 25 28 21 40 8 40-5 40-18 40-14 20-7 0zM6705 2085l-337 0-20-30-15-40-2-30 8-40 21-40 25-28 30-24 40-21 40-12 40-4 40 3 40 11 40 20 33 25 27 30 21 40 8 30-2 40-15 40-22 30zM2805 2078l-40 6-30-6-30-18-26-35-6-30 6-40 26-35 30-18 40-6 40 10 40 29 18 30 4 30-14 40-28 28-30 15zM7145 2078l-40 6-38-9-32-20-24-30-8-30 4-30 18-30 30-24 40-14 40 2 33 16 27 30 12 40-6 40-26 35-30 18zM4155 2015l-20 5-20-15-5-20 15-20 20-6 21 16 5 20-16 20zM5755 2015l-20 6-26-26 5-20 21-16 21 6 14 20-5 20-10 10z"/><path fill="#e4e4e4" d="M3505 2085l-326 0-21-30-14-40-3-30 8-40 22-40 24-27 30-24 40-21 40-11 40-3 40 4 40 13 40 22 33 27 23 30 18 40 5 30-5 40-12 30-22 30zM6695 2085l-322 0-20-30-15-40-1-40 11-40 17-30 28-30 32-24 40-19 40-10 40-3 40 5 40 13 40 24 27 24 24 30 18 40 5 30-5 40-18 40-15 20-6 0zM2805 2075l-40 6-30-6-30-18-24-32-7-30 7-40 21-30 23-16 40-10 40 6 35 20 24 30 8 30-8 40-24 30-35 20zM7145 2075l-30 6-40-6-35-20-24-30-8-30 4-30 18-30 35-26 40-10 40 6 30 18 24 32 7 30-7 40-24 32-30 18zM4145 2020l-20-6-13-19 4-20 19-14 19 4 17 20-6 20-20 15zM5745 2019l-19-4-17-20 6-20 20-15 20 6 13 19-4 20-19 14z"/><path fill="#e7e7e7" d="M3495 2085l-311 0-20-30-15-40-2-40 12-40 17-30 28-30 31-23 40-19 70-11 40 5 40 12 40 23 27 23 25 30 18 40 5 30-5 40-18 40-15 20-7 0zM6695 2085l-317 0-20-30-15-40-2-40 12-40 17-30 28-30 37-26 40-17 40-9 40 0 70 18 62 44 24 30 18 40 5 30-5 40-13 30-21 30zM2795 2075l-40 3-30-9-29-24-17-30-3-30 9-33 20-27 30-18 40-6 40 11 31 23 18 30 3 40-13 30-29 27-30 13zM7135 2076l-30 3-40-11-31-23-18-30-4-30 8-30 25-30 30-17 40-7 40 10 29 24 17 30 2 40-11 30-27 28-30 13zM4145 2019l-20-6-12-18 4-20 11-10 17-4 25 24-5 19-20 15zM5745 2018l-18-3-17-20 5-19 20-15 20 6 12 18-4 20-18 13z"/><path fill="#e9e9e9" d="M3495 2085l-306 0-20-30-15-40-2-40 12-40 17-30 28-30 36-25 30-14 40-9 40-2 70 18 39 22 31 28 23 32 12 30 5 30-5 40-12 30-23 30zM6685 2085l-302 0-21-30-15-40-1-40 11-40 18-30 28-30 32-22 40-18 40-9 40 0 70 19 34 20 32 30 20 30 13 30 5 30-5 40-19 40-14 20-6 0zM2785 2075l-40-1-30-13-25-26-11-30 0-30 11-30 25-26 30-13 30-3 40 12 35 30 13 30 0 30-13 30-25 24-40 16zM7125 2076l-40-3-30-14-25-24-13-30 0-30 13-30 25-24 40-16 40 1 30 13 25 26 11 30 0 30-16 36-30 26-30 9zM4145 2019l-20-7-11-17 4-20 12-10 15-4 25 24-5 18-20 16zM5745 2018l-17-3-18-20 5-18 20-16 20 7 11 17-4 20-17 13z"/><path fill="#ececec" d="M3485 2085l-291 0-21-30-14-40-2-40 11-40 18-30 29-30 60-35 40-10 40-2 70 18 33 19 34 30 21 30 13 30 5 30-5 40-19 40-15 20-7 0zM6685 2085l-297 0-21-30-15-40-2-40 12-40 18-30 29-30 66-37 40-9 40 0 70 19 30 19 31 28 21 30 12 30 5 30-5 40-12 30-22 30zM2805 2067l-30 7-40-5-30-19-18-25-8-30 4-30 17-30 25-20 30-9 40 3 31 16 26 30 9 30-5 30-19 30-32 22zM7145 2069l-40 5-30-7-30-20-17-22-9-30 5-30 19-30 32-22 30-7 40 5 30 19 18 25 8 30-8 40-18 25-30 19zM4145 2018l-20-7-9-16 3-20 26-13 24 23-4 17-20 16zM5745 2017l-15-2-19-20 4-17 20-16 20 7 9 16-3 20-16 12z"/><path fill="#eeeeee" d="M3485 2085l-286 0-26-40-11-40 1-40 15-40 21-30 26-24 30-19 40-15 70-5 70 22 31 21 30 30 18 30 10 30 2 30-4 30-13 30-24 30zM6675 2085l-282 0-27-40-12-40 2-40 15-40 44-51 30-20 40-16 70-6 70 20 35 23 29 30 18 30 10 30 2 30-8 40-22 40-14 10zM2795 2068l-40 4-30-9-23-18-17-30-4-30 8-30 16-23 30-19 30-6 40 9 28 19 20 30 4 30-9 30-23 27-30 16zM7145 2067l-30 6-30-5-30-16-23-27-9-30 4-30 20-30 28-19 40-9 30 6 30 19 16 23 8 30-8 40-16 23-30 19zM4145 2017l-20-7-8-15 3-20 25-12 24 22-4 16-20 16zM5745 2016l-14-1-20-20 4-16 20-16 20 7 8 15-3 20-15 11z"/><path fill="#f1f1f1" d="M3475 2085l-271 0-27-40-11-40 2-40 14-40 43-50 31-20 39-15 70-5 70 23 30 20 26 27 19 30 10 30 1 40-7 30-23 40-8 10-8 0zM6675 2085l-278 0-22-30-15-40-1-40 11-40 19-30 26-27 60-34 70-10 70 16 30 18 31 27 22 30 12 30 5 30-5 40-12 30-23 30zM2795 2066l-40 5-30-10-21-16-18-30-4-30 8-30 15-21 30-20 30-5 40 9 24 17 20 30 5 30-9 30-20 24-30 17zM7145 2066l-30 5-40-9-24-17-20-30-5-20 5-30 20-30 24-17 30-8 30 1 30 14 25 30 8 30-8 40-15 21-30 20zM4145 2017l-20-8-7-14 3-20 24-12 23 22-3 15-20 17zM5745 2015l-13 0-20-20 3-15 20-17 20 8 7 14-3 20-14 10z"/><path fill="#f4f4f4" d="M3475 2085l-266 0-27-40-12-40 2-40 15-40 43-50 32-20 33-12 70-5 40 9 30 14 52 44 19 30 10 30 2 30-8 40-16 30-19 20zM6665 2085l-263 0-28-40-12-40 2-40 15-40 46-51 30-18 40-15 70-3 60 21 30 20 25 26 18 30 10 30 2 40-7 30-23 40-9 10-6 0zM2785 2067l-30 2-30-10-20-15-17-29-4-30 8-30 23-28 30-14 30-2 37 14 23 20 14 30 0 30-14 30-23 20-27 12zM7135 2067l-30 2-37-14-23-20-14-30 0-30 14-30 23-20 27-12 30-2 30 10 20 15 17 29 4 30-8 30-23 28-30 14zM4145 2016l-20-8-6-13 3-20 23-11 23 21-3 14-20 17zM5735 2016l-23-21 3-14 20-17 20 8 6 13-3 20-23 11z"/><path fill="#f6f6f6" d="M3465 2085l-252 0-27-40-12-40 2-40 15-40 44-50 30-18 40-14 70-1 60 22 30 22 25 29 16 30 8 30-2 40-10 30-28 40-9 0zM6665 2085l-259 0-28-40-12-40 2-40 15-40 46-50 34-20 32-11 70-3 60 21 51 43 18 30 10 30 3 30-5 30-13 30-24 30zM2775 2067l-30-2-30-14-21-26-9-30 4-30 16-26 20-16 30-10 30 3 30 13 23 26 10 30-5 30-11 20-27 22-30 10zM7135 2065l-30 2-30-10-27-22-11-20-5-30 10-30 16-20 27-16 30-6 30 5 27 17 19 30 4 30-9 30-21 26-30 14zM4145 2015l-20-8-5-12 4-20 21-10 22 20-2 14-20 16zM5735 2015l-22-20 2-14 20-16 20 8 5 12-4 20-21 10z"/><path fill="#f9f9f9" d="M3465 2085l-248 0-27-40-12-40 4-50 19-40 44-43 31-17 34-10 65 0 60 23 30 22 21 25 16 30 8 30 0 30-8 30-16 30-21 20zM6655 2085l-245 0-28-40-12-40 2-40 15-40 23-30 24-20 61-28 40-5 30 2 60 21 30 23 24 27 16 30 7 30-2 40-10 30-25 37-10 3zM2765 2065l-30-5-24-15-20-30-3-20 3-30 14-24 30-21 30-5 30 6 23 14 17 20 10 30-5 30-15 24-30 20-30 6zM7125 2065l-40-6-20-11-20-23-10-30 5-30 15-24 30-20 30-6 30 5 24 15 20 30 3 20-3 30-14 24-20 17-30 9zM4155 2008l-10 6-20-9 0-30 20-9 20 16 2 13-12 13zM5755 2005l-20 9-20-16-2-13 22-19 20 9 4 10-4 20z"/><path fill="#fbfbfb" d="M3465 2085l-243 0-29-40-11-40 1-40 16-40 36-42 60-32 62-6 38 7 40 19 47 44 17 30 7 30 0 30-7 30-34 50zM6655 2085l-240 0-30-42-11-38 1-38 16-42 24-30 24-20 56-25 60-4 30 5 40 18 30 23 20 23 16 30 7 30 0 30-7 30-16 30-20 20zM2795 2057l-30 5-30-4-22-13-18-24-3-56 13-22 22-18 38-7 30 5 30 22 13 20 4 20-4 30-13 20-30 22zM7145 2058l-30 4-30-5-30-22-13-20-4-20 4-30 13-20 30-22 30-5 30 4 22 13 21 30 0 50-21 30-22 13zM4155 2007l-10 4-20-8-2-18 4-10 18-6 20 14 1 12-11 12zM5745 2008l-20-1-11-12 1-12 20-14 18 6 4 10-2 18-10 5z"/><path fill="#fefefe" d="M3455 2085l-228 0-25-30-17-53 0-24 17-53 48-50 45-21 50-5 40 3 50 22 50 51 14 30 3 30-7 50-20 35-20 15zM6645 2085l-225 0-19-20-16-30-7-40 3-40 20-40 43-40 51-23 80 0 55 23 48 50 9 20 9 40-9 50-9 20-25 30-8 0zM2785 2057l-50 0-20-12-21-30 0-50 21-30 20-12 60 2 30 25 10 15 0 50-25 30-25 12zM7145 2057l-60-2-30-25-10-15 0-50 10-15 30-25 60-2 20 12 21 30 0 50-21 30-20 12zM4155 2006l-20 1-10-8-1-14 7-10 24-1 10 10 1 11-11 11zM5745 2007l-20-1-10-10-1-11 11-11 20-1 10 8 0 18-10 8z"/></g>
<g id="ar"><path d="M0 0H20" stroke="#fff" stroke-width="2" fill="none"/><path d="M27.5 0L18.3 -3.5V3.5Z" fill="#fff"/></g>
<clipPath id="cf"><rect x="0" y="0" width="988" height="199"/></clipPath>
<linearGradient id="jg" x1="0" y1="1" x2="0" y2="0"><stop offset="0" stop-color="#000080"/><stop offset=".125" stop-color="#00f"/><stop offset=".375" stop-color="#0ff"/><stop offset=".625" stop-color="#ff0"/><stop offset=".875" stop-color="#f00"/><stop offset="1" stop-color="#800000"/></linearGradient>
<linearGradient id="hg" x1="0" y1="1" x2="0" y2="0"><stop offset="0" stop-color="#7d0000"/><stop offset=".2308" stop-color="#f00"/><stop offset=".6154" stop-color="#ff0"/><stop offset="1" stop-color="#fff"/></linearGradient>
<circle id="n" r="5.7" fill="#07078e"/>
</defs>
<rect width="1250" height="1857" fill="#fff"/>
<g transform="translate(122 69) scale(1 0.997487)"><g clip-path="url(#cf)"><g filter="url(#jetf)"><use href="#F"/></g></g></g>
<clipPath id="ca"><rect x="122" y="69" width="988" height="198.5"/></clipPath>
<g clip-path="url(#ca)"><use href="#ar" transform="translate(145.7 257.6)rotate(162)"/><use href="#ar" transform="translate(145.7 237.7)rotate(140)"/><use href="#ar" transform="translate(145.7 217.9)rotate(139)"/><use href="#ar" transform="translate(145.7 198.0)rotate(173)"/><use href="#ar" transform="translate(145.7 178.2)rotate(-129)"/><use href="#ar" transform="translate(145.7 158.3)rotate(-111)"/><use href="#ar" transform="translate(145.7 138.5)rotate(-107)"/><use href="#ar" transform="translate(145.7 118.6)rotate(-108)"/><use href="#ar" transform="translate(145.7 98.8)rotate(-115)"/><use href="#ar" transform="translate(145.7 78.9)rotate(-142)"/><use href="#ar" transform="translate(201.0 257.6)rotate(-120)"/><use href="#ar" transform="translate(201.0 237.7)rotate(-150)"/><use href="#ar" transform="translate(201.0 217.9)rotate(-160)"/><use href="#ar" transform="translate(201.0 198.0)rotate(-129)"/><use href="#ar" transform="translate(201.0 178.2)rotate(-131)"/><use href="#ar" transform="translate(201.0 158.3)rotate(-131)"/><use href="#ar" transform="translate(201.0 138.5)rotate(-133)"/><use href="#ar" transform="translate(201.0 118.6)rotate(-139)"/><use href="#ar" transform="translate(201.0 98.8)rotate(-151)"/><use href="#ar" transform="translate(201.0 78.9)rotate(-169)"/><use href="#ar" transform="translate(256.3 257.6)rotate(-152)"/><use href="#ar" transform="translate(256.3 237.7)rotate(-132)"/><use href="#ar" transform="translate(256.3 217.9)rotate(-129)"/><use href="#ar" transform="translate(256.3 198.0)rotate(-131)"/><use href="#ar" transform="translate(256.3 178.2)rotate(-133)"/><use href="#ar" transform="translate(256.3 158.3)rotate(-136)"/><use href="#ar" transform="translate(256.3 138.5)rotate(-141)"/><use href="#ar" transform="translate(256.3 118.6)rotate(-149)"/><use href="#ar" transform="translate(256.3 98.8)rotate(-159)"/><use href="#ar" transform="translate(256.3 78.9)rotate(-173)"/><use href="#ar" transform="translate(311.7 257.6)rotate(-169)"/><use href="#ar" transform="translate(311.7 237.7)rotate(-150)"/><use href="#ar" transform="translate(311.7 217.9)rotate(-138)"/><use href="#ar" transform="translate(311.7 198.0)rotate(-132)"/><use href="#ar" transform="translate(311.7 178.2)rotate(-130)"/><use href="#ar" transform="translate(311.7 158.3)rotate(-131)"/><use href="#ar" transform="translate(311.7 138.5)rotate(-135)"/><use href="#ar" transform="translate(311.7 118.6)rotate(-142)"/><use href="#ar" transform="translate(311.7 98.8)rotate(-154)"/><use href="#ar" transform="translate(311.7 78.9)rotate(-171)"/><use href="#ar" transform="translate(367.0 257.6)rotate(-152)"/><use href="#ar" transform="translate(367.0 237.7)rotate(-126)"/><use href="#ar" transform="translate(367.0 217.9)rotate(-117)"/><use href="#ar" transform="translate(367.0 198.0)rotate(-113)"/><use href="#ar" transform="translate(367.0 178.2)rotate(-112)"/><use href="#ar" transform="translate(367.0 158.3)rotate(-112)"/><use href="#ar" transform="translate(367.0 138.5)rotate(-114)"/><use href="#ar" transform="translate(367.0 118.6)rotate(-118)"/><use href="#ar" transform="translate(367.0 98.8)rotate(-130)"/><use href="#ar" transform="translate(367.0 78.9)rotate(-158)"/><use href="#ar" transform="translate(422.3 257.6)rotate(-95)"/><use href="#ar" transform="translate(422.3 237.7)rotate(-96)"/><use href="#ar" transform="translate(422.3 217.9)rotate(-94)"/><use href="#ar" transform="translate(422.3 198.0)rotate(-93)"/><use href="#ar" transform="translate(422.3 178.2)rotate(-92)"/><use href="#ar" transform="translate(422.3 158.3)rotate(-90)"/><use href="#ar" transform="translate(422.3 138.5)rotate(-89)"/><use href="#ar" transform="translate(422.3 118.6)rotate(-86)"/><use href="#ar" transform="translate(422.3 98.8)rotate(-82)"/><use href="#ar" transform="translate(422.3 78.9)rotate(-66)"/><use href="#ar" transform="translate(477.7 257.6)rotate(-53)"/><use href="#ar" transform="translate(477.7 237.7)rotate(-77)"/><use href="#ar" transform="translate(477.7 217.9)rotate(-79)"/><use href="#ar" transform="translate(477.7 198.0)rotate(-77)"/><use href="#ar" transform="translate(477.7 178.2)rotate(-75)"/><use href="#ar" transform="translate(477.7 158.3)rotate(-72)"/><use href="#ar" transform="translate(477.7 138.5)rotate(-68)"/><use href="#ar" transform="translate(477.7 118.6)rotate(-61)"/><use href="#ar" transform="translate(477.7 98.8)rotate(-46)"/><use href="#ar" transform="translate(477.7 78.9)rotate(-19)"/><use href="#ar" transform="translate(533.0 257.6)rotate(-76)"/><use href="#ar" transform="translate(533.0 237.7)rotate(-71)"/><use href="#ar" transform="translate(533.0 217.9)rotate(-65)"/><use href="#ar" transform="translate(533.0 198.0)rotate(-62)"/><use href="#ar" transform="translate(533.0 178.2)rotate(-61)"/><use href="#ar" transform="translate(533.0 158.3)rotate(-61)"/><use href="#ar" transform="translate(533.0 138.5)rotate(-58)"/><use href="#ar" transform="translate(533.0 118.6)rotate(-52)"/><use href="#ar" transform="translate(533.0 98.8)rotate(-38)"/><use href="#ar" transform="translate(533.0 78.9)rotate(-15)"/><use href="#ar" transform="translate(588.3 257.6)rotate(15)"/><use href="#ar" transform="translate(588.3 237.7)rotate(31)"/><use href="#ar" transform="translate(588.3 217.9)rotate(25)"/><use href="#ar" transform="translate(588.3 198.0)rotate(-15)"/><use href="#ar" transform="translate(588.3 178.2)rotate(-57)"/><use href="#ar" transform="translate(588.3 158.3)rotate(-70)"/><use href="#ar" transform="translate(588.3 138.5)rotate(-74)"/><use href="#ar" transform="translate(588.3 118.6)rotate(-72)"/><use href="#ar" transform="translate(588.3 98.8)rotate(-64)"/><use href="#ar" transform="translate(588.3 78.9)rotate(-35)"/><use href="#ar" transform="translate(643.7 257.6)rotate(165)"/><use href="#ar" transform="translate(643.7 237.7)rotate(149)"/><use href="#ar" transform="translate(643.7 217.9)rotate(155)"/><use href="#ar" transform="translate(643.7 198.0)rotate(-165)"/><use href="#ar" transform="translate(643.7 178.2)rotate(-123)"/><use href="#ar" transform="translate(643.7 158.3)rotate(-110)"/><use href="#ar" transform="translate(643.7 138.5)rotate(-106)"/><use href="#ar" transform="translate(643.7 118.6)rotate(-108)"/><use href="#ar" transform="translate(643.7 98.8)rotate(-116)"/><use href="#ar" transform="translate(643.7 78.9)rotate(-145)"/><use href="#ar" transform="translate(699.0 257.6)rotate(-104)"/><use href="#ar" transform="translate(699.0 237.7)rotate(-109)"/><use href="#ar" transform="translate(699.0 217.9)rotate(-115)"/><use href="#ar" transform="translate(699.0 198.0)rotate(-118)"/><use href="#ar" transform="translate(699.0 178.2)rotate(-119)"/><use href="#ar" transform="translate(699.0 158.3)rotate(-119)"/><use href="#ar" transform="translate(699.0 138.5)rotate(-122)"/><use href="#ar" transform="translate(699.0 118.6)rotate(-128)"/><use href="#ar" transform="translate(699.0 98.8)rotate(-142)"/><use href="#ar" transform="translate(699.0 78.9)rotate(-165)"/><use href="#ar" transform="translate(754.3 257.6)rotate(-127)"/><use href="#ar" transform="translate(754.3 237.7)rotate(-103)"/><use href="#ar" transform="translate(754.3 217.9)rotate(-101)"/><use href="#ar" transform="translate(754.3 198.0)rotate(-103)"/><use href="#ar" transform="translate(754.3 178.2)rotate(-105)"/><use href="#ar" transform="translate(754.3 158.3)rotate(-108)"/><use href="#ar" transform="translate(754.3 138.5)rotate(-112)"/><use href="#ar" transform="translate(754.3 118.6)rotate(-119)"/><use href="#ar" transform="translate(754.3 98.8)rotate(-134)"/><use href="#ar" transform="translate(754.3 78.9)rotate(-161)"/><use href="#ar" transform="translate(809.7 257.6)rotate(-85)"/><use href="#ar" transform="translate(809.7 237.7)rotate(-84)"/><use href="#ar" transform="translate(809.7 217.9)rotate(-86)"/><use href="#ar" transform="translate(809.7 198.0)rotate(-87)"/><use href="#ar" transform="translate(809.7 178.2)rotate(-88)"/><use href="#ar" transform="translate(809.7 158.3)rotate(-90)"/><use href="#ar" transform="translate(809.7 138.5)rotate(-91)"/><use href="#ar" transform="translate(809.7 118.6)rotate(-94)"/><use href="#ar" transform="translate(809.7 98.8)rotate(-98)"/><use href="#ar" transform="translate(809.7 78.9)rotate(-114)"/><use href="#ar" transform="translate(865.0 257.6)rotate(-28)"/><use href="#ar" transform="translate(865.0 237.7)rotate(-54)"/><use href="#ar" transform="translate(865.0 217.9)rotate(-63)"/><use href="#ar" transform="translate(865.0 198.0)rotate(-67)"/><use href="#ar" transform="translate(865.0 178.2)rotate(-68)"/><use href="#ar" transform="translate(865.0 158.3)rotate(-68)"/><use href="#ar" transform="translate(865.0 138.5)rotate(-66)"/><use href="#ar" transform="translate(865.0 118.6)rotate(-62)"/><use href="#ar" transform="translate(865.0 98.8)rotate(-50)"/><use href="#ar" transform="translate(865.0 78.9)rotate(-22)"/><use href="#ar" transform="translate(920.3 257.6)rotate(-11)"/><use href="#ar" transform="translate(920.3 237.7)rotate(-30)"/><use href="#ar" transform="translate(920.3 217.9)rotate(-42)"/><use href="#ar" transform="translate(920.3 198.0)rotate(-48)"/><use href="#ar" transform="translate(920.3 178.2)rotate(-50)"/><use href="#ar" transform="translate(920.3 158.3)rotate(-49)"/><use href="#ar" transform="translate(920.3 138.5)rotate(-45)"/><use href="#ar" transform="translate(920.3 118.6)rotate(-38)"/><use href="#ar" transform="translate(920.3 98.8)rotate(-26)"/><use href="#ar" transform="translate(920.3 78.9)rotate(-9)"/><use href="#ar" transform="translate(975.7 257.6)rotate(-28)"/><use href="#ar" transform="translate(975.7 237.7)rotate(-48)"/><use href="#ar" transform="translate(975.7 217.9)rotate(-51)"/><use href="#ar" transform="translate(975.7 198.0)rotate(-49)"/><use href="#ar" transform="translate(975.7 178.2)rotate(-47)"/><use href="#ar" transform="translate(975.7 158.3)rotate(-44)"/><use href="#ar" transform="translate(975.7 138.5)rotate(-39)"/><use href="#ar" transform="translate(975.7 118.6)rotate(-31)"/><use href="#ar" transform="translate(975.7 98.8)rotate(-21)"/><use href="#ar" transform="translate(975.7 78.9)rotate(-7)"/><use href="#ar" transform="translate(1031.0 257.6)rotate(-60)"/><use href="#ar" transform="translate(1031.0 237.7)rotate(-30)"/><use href="#ar" transform="translate(1031.0 217.9)rotate(-20)"/><use href="#ar" transform="translate(1031.0 198.0)rotate(-51)"/><use href="#ar" transform="translate(1031.0 178.2)rotate(-49)"/><use href="#ar" transform="translate(1031.0 158.3)rotate(-49)"/><use href="#ar" transform="translate(1031.0 138.5)rotate(-47)"/><use href="#ar" transform="translate(1031.0 118.6)rotate(-41)"/><use href="#ar" transform="translate(1031.0 98.8)rotate(-29)"/><use href="#ar" transform="translate(1031.0 78.9)rotate(-11)"/><use href="#ar" transform="translate(1086.3 257.6)rotate(18)"/><use href="#ar" transform="translate(1086.3 237.7)rotate(40)"/><use href="#ar" transform="translate(1086.3 217.9)rotate(41)"/><use href="#ar" transform="translate(1086.3 198.0)rotate(7)"/><use href="#ar" transform="translate(1086.3 178.2)rotate(-51)"/><use href="#ar" transform="translate(1086.3 158.3)rotate(-69)"/><use href="#ar" transform="translate(1086.3 138.5)rotate(-73)"/><use href="#ar" transform="translate(1086.3 118.6)rotate(-72)"/><use href="#ar" transform="translate(1086.3 98.8)rotate(-65)"/><use href="#ar" transform="translate(1086.3 78.9)rotate(-38)"/></g>
<rect x="122" y="265.5" width="988" height="3.5" fill="#4a4a4a"/>
<rect x="198.6" y="268" width="198.4" height="9.5" fill="#595959"/>
<rect x="456" y="268" width="81" height="9.5" fill="#595959"/>
<rect x="695" y="268" width="80" height="9.5" fill="#595959"/>
<rect x="833" y="268" width="198" height="9.5" fill="#595959"/>
<rect x="218.2" y="268" width="2.2" height="11" fill="#333"/>
<rect x="297.6" y="268" width="2.2" height="11" fill="#333"/>
<rect x="377.0" y="268" width="2.2" height="11" fill="#333"/>
<rect x="456.4" y="268" width="2.2" height="11" fill="#333"/>
<rect x="535.8" y="268" width="2.2" height="11" fill="#333"/>
<rect x="615.2" y="268" width="2.2" height="11" fill="#333"/>
<rect x="694.6" y="268" width="2.2" height="11" fill="#333"/>
<rect x="774.0" y="268" width="2.2" height="11" fill="#333"/>
<rect x="853.4" y="268" width="2.2" height="11" fill="#333"/>
<rect x="932.8" y="268" width="2.2" height="11" fill="#333"/>
<rect x="1012.2" y="268" width="2.2" height="11" fill="#333"/>
<rect x="120.5" y="69" width="2.8" height="200" fill="#000"/>
<rect x="115.5" y="68.7" width="6" height="2.2" fill="#000"/>
<rect x="115.5" y="167.4" width="6" height="2.2" fill="#000"/>
<rect x="115.5" y="266.2" width="6" height="2.2" fill="#000"/>
<text x="113" y="79.7" font-size="21" font-family="'DejaVu Sans Condensed','DejaVu Sans',sans-serif" font-weight="bold" text-anchor="end" stroke="#000" stroke-width="0.45" textLength="28.4" lengthAdjust="spacingAndGlyphs">50</text>
<text x="113" y="178.7" font-size="21" font-family="'DejaVu Sans Condensed','DejaVu Sans',sans-serif" font-weight="bold" text-anchor="end" stroke="#000" stroke-width="0.45" textLength="28.4" lengthAdjust="spacingAndGlyphs">25</text>
<text x="113" y="277.5" font-size="21" font-family="'DejaVu Sans Condensed','DejaVu Sans',sans-serif" font-weight="bold" text-anchor="end" stroke="#000" stroke-width="0.45" textLength="14.2" lengthAdjust="spacingAndGlyphs">0</text>
<text x="79.7" y="52" font-size="21.7" font-family="'DejaVu Sans Condensed','DejaVu Sans',sans-serif" font-weight="bold" stroke="#000" stroke-width="0.45" textLength="70.6">z (µm)</text>
<text x="-1.5" y="30" font-size="55" font-family="'Liberation Sans',Arial,sans-serif" font-weight="bold" stroke="#000" stroke-width="0.45">a</text>
<text x="219.1" y="294.8" font-size="21" font-family="'DejaVu Sans Condensed','DejaVu Sans',sans-serif" font-weight="bold" stroke="#000" stroke-width="0.45" textLength="51.1" lengthAdjust="spacingAndGlyphs">-100</text>
<text x="302.7" y="294.8" font-size="21" font-family="'DejaVu Sans Condensed','DejaVu Sans',sans-serif" font-weight="bold" stroke="#000" stroke-width="0.45" textLength="36.9" lengthAdjust="spacingAndGlyphs">-80</text>
<text x="379.2" y="294.8" font-size="21" font-family="'DejaVu Sans Condensed','DejaVu Sans',sans-serif" font-weight="bold" stroke="#000" stroke-width="0.45" textLength="36.9" lengthAdjust="spacingAndGlyphs">-60</text>
<text x="456.5" y="294.8" font-size="21" font-family="'DejaVu Sans Condensed','DejaVu Sans',sans-serif" font-weight="bold" stroke="#000" stroke-width="0.45" textLength="36.9" lengthAdjust="spacingAndGlyphs">-40</text>
<text x="537.5" y="294.8" font-size="21" font-family="'DejaVu Sans Condensed','DejaVu Sans',sans-serif" font-weight="bold" stroke="#000" stroke-width="0.45" textLength="36.9" lengthAdjust="spacingAndGlyphs">-20</text>
<text x="616.6" y="294.8" font-size="21" font-family="'DejaVu Sans Condensed','DejaVu Sans',sans-serif" font-weight="bold" stroke="#000" stroke-width="0.45" textLength="14.2" lengthAdjust="spacingAndGlyphs">0</text>
<text x="695.7" y="294.8" font-size="21" font-family="'DejaVu Sans Condensed','DejaVu Sans',sans-serif" font-weight="bold" stroke="#000" stroke-width="0.45" textLength="28.4" lengthAdjust="spacingAndGlyphs">20</text>
<text x="775.9" y="294.8" font-size="21" font-family="'DejaVu Sans Condensed','DejaVu Sans',sans-serif" font-weight="bold" stroke="#000" stroke-width="0.45" textLength="28.4" lengthAdjust="spacingAndGlyphs">40</text>
<text x="855.8" y="294.8" font-size="21" font-family="'DejaVu Sans Condensed','DejaVu Sans',sans-serif" font-weight="bold" stroke="#000" stroke-width="0.45" textLength="28.4" lengthAdjust="spacingAndGlyphs">60</text>
<text x="937.5" y="294.8" font-size="21" font-family="'DejaVu Sans Condensed','DejaVu Sans',sans-serif" font-weight="bold" stroke="#000" stroke-width="0.45" textLength="28.4" lengthAdjust="spacingAndGlyphs">80</text>
<text x="1012.9" y="294.8" font-size="21" font-family="'DejaVu Sans Condensed','DejaVu Sans',sans-serif" font-weight="bold" stroke="#000" stroke-width="0.45" textLength="42.6" lengthAdjust="spacingAndGlyphs">100</text>
<text x="1038.5" y="317.5" font-size="21.7" font-family="'DejaVu Sans Condensed','DejaVu Sans',sans-serif" font-weight="bold" stroke="#000" stroke-width="0.45" textLength="72">x (µm)</text>
<text x="777.5" y="35" font-size="22.3" font-family="'DejaVu Sans Condensed','DejaVu Sans',sans-serif" font-weight="bold" stroke="#000" stroke-width="0.45" textLength="157">White Arrows :</text>
<text x="943" y="35" font-size="21" font-family="'Liberation Serif','DejaVu Serif',serif" font-weight="bold" font-style="italic">F<tspan font-size="14.5" dy="5" dx="1" letter-spacing="1.1">DEP</tspan></text>
<path d="M943.5 17.2H954M950.6 14.3L954.6 17.2L950.6 20.1" stroke="#000" stroke-width="1.3" fill="none"/>
<text x="777.5" y="60.8" font-size="22.3" font-family="'DejaVu Sans Condensed','DejaVu Sans',sans-serif" font-weight="bold" stroke="#000" stroke-width="0.45" textLength="111">Intensity :</text>
<text x="895.5" y="60.8" font-size="22" font-family="'Liberation Sans',Arial,sans-serif" font-weight="bold" stroke="#000" stroke-width="0.45" textLength="205">Magnitude of E-field</text>
<g stroke="#000" stroke-width="3" fill="none" stroke-linejoin="miter">
<path d="M297.5 270V355H933V270"/>
<path d="M495.5 277V297H734.6V277"/>
<path d="M616.5 296V314.4H933"/>
<path d="M640.6 355V375M619.5 375.5H664M625 383.9H659M630.5 391.3H653.5" stroke-width="3.4"/>
</g>
<circle cx="828.8" cy="314.4" r="22.5" fill="#fff" stroke="#000" stroke-width="1.1"/>
<path d="M812 313.5C815 305.5 822 304 829 314.2S843 323 846.5 315" stroke="#000" stroke-width="2.6" fill="none" stroke-linecap="round"/>
<text x="396.5" y="343.5" font-size="19.5" font-family="'Liberation Sans',Arial,sans-serif" font-weight="bold" stroke="#000" stroke-width="0.45" textLength="100">Electrodes</text>
<text x="713" y="338" font-size="19.5" font-family="'Liberation Sans',Arial,sans-serif" font-weight="bold" stroke="#000" stroke-width="0.45" textLength="89.5">AC signal</text>
<g stroke="#ee0a10" stroke-width="3.2" fill="#ee0a10" stroke-linecap="butt">
<path d="M353.5 280.6L386 319" fill="none"/><path d="M393 326.6L376.7 321L386.8 319L391 310.2Z" stroke="none"/>
<path d="M519 283.2L502.5 316.5" fill="none"/><path d="M496.4 327L495 310.8L502 317.9L510.8 318.4Z" stroke="none"/>
</g>
<rect x="1140" y="13.3" width="33.2" height="339.7" fill="url(#jg)"/>
<text x="1180.5" y="360.5" font-size="20" font-family="'DejaVu Sans Condensed','DejaVu Sans',sans-serif" font-weight="bold" stroke="#000" stroke-width="0.45">0</text>
<path d="M1140 289.9h6M1167.2 289.9h6" stroke="#222" stroke-width="1"/>
<text x="1180.5" y="298.05" font-size="20" font-family="'DejaVu Sans Condensed','DejaVu Sans',sans-serif" font-weight="bold" stroke="#000" stroke-width="0.45">0.5</text>
<path d="M1140 227.1h6M1167.2 227.1h6" stroke="#222" stroke-width="1"/>
<text x="1180.5" y="235.3" font-size="20" font-family="'DejaVu Sans Condensed','DejaVu Sans',sans-serif" font-weight="bold" stroke="#000" stroke-width="0.45">1.0</text>
<path d="M1140 164.4h6M1167.2 164.4h6" stroke="#222" stroke-width="1"/>
<text x="1180.5" y="172.55" font-size="20" font-family="'DejaVu Sans Condensed','DejaVu Sans',sans-serif" font-weight="bold" stroke="#000" stroke-width="0.45">1.5</text>
<path d="M1140 101.6h6M1167.2 101.6h6" stroke="#222" stroke-width="1"/>
<text x="1180.5" y="109.8" font-size="20" font-family="'DejaVu Sans Condensed','DejaVu Sans',sans-serif" font-weight="bold" stroke="#000" stroke-width="0.45">2.0</text>
<path d="M1140 38.9h6M1167.2 38.9h6" stroke="#222" stroke-width="1"/>
<text x="1180.5" y="47.05" font-size="20" font-family="'DejaVu Sans Condensed','DejaVu Sans',sans-serif" font-weight="bold" stroke="#000" stroke-width="0.45">2.5</text>
<text x="1106" y="380.5" font-size="19" stroke="#000" stroke-width=".4" font-family="'DejaVu Sans Condensed','DejaVu Sans',sans-serif" font-weight="bold"><tspan font-family="'DejaVu Sans',sans-serif" font-weight="normal" font-size="21" stroke="none">×</tspan> 10<tspan font-size="12.5" dy="-7">5</tspan><tspan dy="7"> V/m</tspan></text>
<g id="inset"><rect x="203.5" y="423.5" width="776" height="377.2" fill="none" stroke="#bbb" stroke-width="3"/><rect x="201.5" y="421.5" width="776" height="377.2" fill="#fff" stroke="#000" stroke-width="2.7"/><path d="M226.0 551.4L229.0 482.4M340.9 537.8L343.9 469.5M453.5 524.5L456.5 456.8M563.8 511.4L566.8 444.5M672.0 498.6L675.0 432.3M226.0 551.4L672.0 498.6M227.0 528.4L673.0 476.5M228.0 505.4L674.0 454.4M229.0 482.4L675.0 432.3M698.0 437.9L693.2 505.1M755.5 477.2L750.6 542.8M816.1 521.5L811.2 583.8M880.1 564.2L873.5 634.7M949.0 611.7L940.8 683.9M693.2 505.1L940.8 683.9M694.8 482.7L943.5 659.8M696.4 460.3L946.3 635.8M698.0 437.9L949.0 611.7M920.0 702.2L675.2 519.9M920.0 702.2L440.7 775.1M805.4 719.6L569.1 533.2M853.8 652.9L384.4 720.7M687.5 737.6L460.2 546.8M791.1 606.2L331.3 669.4M565.9 756.0L348.4 560.7M731.6 561.9L281.1 621.0M440.7 775.1L233.5 575.1M675.2 519.9L233.5 575.1" stroke="#757575" stroke-width="1.05" fill="none"/><rect x="264.8" y="431.3" width="257.2" height="60.7" fill="#d4f6d4" fill-opacity="0.93"/><clipPath id="lb1"><path d="M280.8 591.7 735.5 536.2 735.8 547.0 280.4 603.3Z"/></clipPath><clipPath id="lb2"><path d="M571.8 507.1 810.8 691.1 809.0 703.0 571.7 519.7Z"/></clipPath><g fill="#0000a0" fill-opacity="0.62" fill-rule="evenodd"><g clip-path="url(#lb1)"><path d="M150 380H1050V850H150ZM345.1 583.9 342.1 580.5 340.6 577.0 340.5 573.6 341.8 570.2 344.6 567.1 348.7 564.2 354.0 561.6 360.4 559.4 367.8 557.7 375.9 556.5 384.5 555.7 393.5 555.5 402.7 555.8 411.7 556.6 420.5 558.0 428.8 559.7 436.4 562.0 443.1 564.6 448.7 567.5 453.2 570.7 456.4 574.0 458.2 577.4 458.6 580.9 457.5 584.2 455.0 587.4 451.0 590.4 445.8 593.1 439.5 595.3 432.1 597.2 423.8 598.5 415.0 599.3 405.8 599.6 396.3 599.3 387.0 598.4 378.0 597.0 369.5 595.1 361.8 592.8 355.1 590.1 349.5 587.1ZM575.4 555.7 572.1 552.5 570.1 549.2 569.5 545.9 570.3 542.7 572.5 539.7 576.0 537.0 580.7 534.5 586.6 532.5 593.4 530.8 601.0 529.6 609.2 528.9 617.8 528.7 626.7 529.0 635.5 529.8 644.1 531.1 652.4 532.8 660.0 535.0 666.8 537.5 672.6 540.3 677.4 543.3 680.9 546.5 683.2 549.7 684.0 553.0 683.4 556.2 681.5 559.3 678.1 562.1 673.5 564.6 667.7 566.8 660.9 568.5 653.2 569.8 644.8 570.5 635.9 570.8 626.9 570.5 617.8 569.6 608.9 568.3 600.5 566.5 592.8 564.3 585.9 561.7 580.1 558.8Z"/></g><g clip-path="url(#lb2)"><path d="M150 380H1050V850H150ZM575.4 555.7 572.1 552.5 570.1 549.2 569.5 545.9 570.3 542.7 572.5 539.7 576.0 537.0 580.7 534.5 586.6 532.5 593.4 530.8 601.0 529.6 609.2 528.9 617.8 528.7 626.7 529.0 635.5 529.8 644.1 531.1 652.4 532.8 660.0 535.0 666.8 537.5 672.6 540.3 677.4 543.3 680.9 546.5 683.2 549.7 684.0 553.0 683.4 556.2 681.5 559.3 678.1 562.1 673.5 564.6 667.7 566.8 660.9 568.5 653.2 569.8 644.8 570.5 635.9 570.8 626.9 570.5 617.8 569.6 608.9 568.3 600.5 566.5 592.8 564.3 585.9 561.7 580.1 558.8ZM692.6 648.5 688.8 644.9 686.5 641.2 685.6 637.5 686.2 633.9 688.2 630.5 691.7 627.4 696.4 624.7 702.4 622.4 709.4 620.5 717.3 619.1 725.9 618.3 734.9 618.0 744.2 618.3 753.5 619.2 762.7 620.6 771.5 622.5 779.6 624.8 787.0 627.6 793.4 630.7 798.6 634.0 802.6 637.6 805.2 641.3 806.4 644.9 806.1 648.5 804.3 652.0 801.0 655.2 796.4 658.0 790.5 660.5 783.5 662.4 775.5 663.9 766.7 664.8 757.5 665.1 747.9 664.8 738.3 663.9 728.9 662.4 719.9 660.5 711.6 658.0 704.2 655.1 697.8 651.9Z"/></g></g><defs><radialGradient id="rg1" gradientUnits="userSpaceOnUse" cx="0" cy="0" r="1" gradientTransform="matrix(-54.04 6.60 -23.99 -21.01 399.5 577.2)"><stop offset="0" stop-color="#0064ff"/><stop offset="0.25" stop-color="#0078ff"/><stop offset="0.42" stop-color="#00a8ff"/><stop offset="0.49" stop-color="#0ff"/><stop offset="0.54" stop-color="#ff0"/><stop offset="0.63" stop-color="#f30"/><stop offset="0.7" stop-color="#f00"/><stop offset="0.8" stop-color="#f00"/><stop offset="0.87" stop-color="#f40"/><stop offset="0.925" stop-color="#ff0"/><stop offset="0.965" stop-color="#0ff"/><stop offset="1" stop-color="#00f"/></radialGradient><radialGradient id="rg2" gradientUnits="userSpaceOnUse" cx="0" cy="0" r="1" gradientTransform="matrix(-50.98 6.23 -26.09 -20.07 626.8 549.5)"><stop offset="0" stop-color="#0064ff"/><stop offset="0.25" stop-color="#0078ff"/><stop offset="0.42" stop-color="#00a8ff"/><stop offset="0.49" stop-color="#0ff"/><stop offset="0.54" stop-color="#ff0"/><stop offset="0.63" stop-color="#f30"/><stop offset="0.7" stop-color="#f00"/><stop offset="0.8" stop-color="#f00"/><stop offset="0.87" stop-color="#f40"/><stop offset="0.925" stop-color="#ff0"/><stop offset="0.965" stop-color="#0ff"/><stop offset="1" stop-color="#00f"/></radialGradient><radialGradient id="rg3" gradientUnits="userSpaceOnUse" cx="0" cy="0" r="1" gradientTransform="matrix(-56.37 7.68 -26.84 -23.51 509.4 673.4)"><stop offset="0" stop-color="#00f"/><stop offset="0.3" stop-color="#00f"/><stop offset="0.42" stop-color="#0078ff"/><stop offset="0.49" stop-color="#0ff"/><stop offset="0.54" stop-color="#ff0"/><stop offset="0.63" stop-color="#f30"/><stop offset="0.7" stop-color="#f00"/><stop offset="0.8" stop-color="#f00"/><stop offset="0.87" stop-color="#f40"/><stop offset="0.925" stop-color="#ff0"/><stop offset="0.965" stop-color="#0ff"/><stop offset="1" stop-color="#00f"/></radialGradient><radialGradient id="rg4" gradientUnits="userSpaceOnUse" cx="0" cy="0" r="1" gradientTransform="matrix(-53.00 7.22 -29.09 -22.38 746.0 641.2)"><stop offset="0" stop-color="#0064ff"/><stop offset="0.25" stop-color="#0078ff"/><stop offset="0.42" stop-color="#00a8ff"/><stop offset="0.49" stop-color="#0ff"/><stop offset="0.54" stop-color="#ff0"/><stop offset="0.63" stop-color="#f30"/><stop offset="0.7" stop-color="#f00"/><stop offset="0.8" stop-color="#f00"/><stop offset="0.87" stop-color="#f40"/><stop offset="0.925" stop-color="#ff0"/><stop offset="0.965" stop-color="#0ff"/><stop offset="1" stop-color="#00f"/></radialGradient></defs><g opacity="0.5"><path d="M232.7 546.4 442.5 744.1 926.0 674.5 678.5 494.8Z" fill="#00f"/><path d="M345.1 583.9 342.1 580.5 340.6 577.0 340.5 573.6 341.8 570.2 344.6 567.1 348.7 564.2 354.0 561.6 360.4 559.4 367.8 557.7 375.9 556.5 384.5 555.7 393.5 555.5 402.7 555.8 411.7 556.6 420.5 558.0 428.8 559.7 436.4 562.0 443.1 564.6 448.7 567.5 453.2 570.7 456.4 574.0 458.2 577.4 458.6 580.9 457.5 584.2 455.0 587.4 451.0 590.4 445.8 593.1 439.5 595.3 432.1 597.2 423.8 598.5 415.0 599.3 405.8 599.6 396.3 599.3 387.0 598.4 378.0 597.0 369.5 595.1 361.8 592.8 355.1 590.1 349.5 587.1Z" fill="url(#rg1)"/><path d="M575.4 555.7 572.1 552.5 570.1 549.2 569.5 545.9 570.3 542.7 572.5 539.7 576.0 537.0 580.7 534.5 586.6 532.5 593.4 530.8 601.0 529.6 609.2 528.9 617.8 528.7 626.7 529.0 635.5 529.8 644.1 531.1 652.4 532.8 660.0 535.0 666.8 537.5 672.6 540.3 677.4 543.3 680.9 546.5 683.2 549.7 684.0 553.0 683.4 556.2 681.5 559.3 678.1 562.1 673.5 564.6 667.7 566.8 660.9 568.5 653.2 569.8 644.8 570.5 635.9 570.8 626.9 570.5 617.8 569.6 608.9 568.3 600.5 566.5 592.8 564.3 585.9 561.7 580.1 558.8Z" fill="url(#rg2)"/><path d="M452.6 681.2 449.2 677.4 447.3 673.5 447.0 669.6 448.1 665.9 450.8 662.3 454.9 659.0 460.3 656.1 466.9 653.7 474.5 651.7 482.9 650.2 492.0 649.4 501.4 649.1 511.1 649.4 520.7 650.3 530.0 651.7 538.8 653.7 547.0 656.1 554.2 659.0 560.4 662.3 565.4 665.8 569.0 669.6 571.1 673.4 571.8 677.3 570.9 681.1 568.5 684.7 564.6 688.1 559.3 691.1 552.8 693.6 545.2 695.7 536.6 697.3 527.4 698.2 517.6 698.6 507.7 698.3 497.8 697.3 488.2 695.8 479.2 693.8 470.9 691.2 463.6 688.2 457.5 684.8Z" fill="url(#rg3)"/><path d="M692.6 648.5 688.8 644.9 686.5 641.2 685.6 637.5 686.2 633.9 688.2 630.5 691.7 627.4 696.4 624.7 702.4 622.4 709.4 620.5 717.3 619.1 725.9 618.3 734.9 618.0 744.2 618.3 753.5 619.2 762.7 620.6 771.5 622.5 779.6 624.8 787.0 627.6 793.4 630.7 798.6 634.0 802.6 637.6 805.2 641.3 806.4 644.9 806.1 648.5 804.3 652.0 801.0 655.2 796.4 658.0 790.5 660.5 783.5 662.4 775.5 663.9 766.7 664.8 757.5 665.1 747.9 664.8 738.3 663.9 728.9 662.4 719.9 660.5 711.6 658.0 704.2 655.1 697.8 651.9Z" fill="url(#rg4)"/></g><g fill="#0000b4" fill-opacity="0.5"><path d="M284.0 530.4 741.6 478.4 735.5 536.2 280.8 591.7Z"/><path d="M575.5 450.6 816.3 629.1 810.8 691.1 571.8 507.1Z"/></g><clipPath id="s1u"><path d="M284.0 530.4 741.6 478.4 735.5 536.2 280.8 591.7Z"/></clipPath><g clip-path="url(#s1u)"><path fill-rule="evenodd" d="M348.4 583.5 345.6 580.3 344.1 577.0 344.0 573.8 345.3 570.6 347.9 567.7 351.7 565.0 356.7 562.5 362.7 560.5 369.6 558.9 377.3 557.7 385.4 557.0 393.9 556.8 402.5 557.1 411.0 557.8 419.3 559.1 427.1 560.8 434.2 562.9 440.5 565.3 445.8 568.1 450.0 571.1 453.0 574.2 454.7 577.4 455.0 580.7 454.0 583.8 451.6 586.8 447.9 589.6 443.0 592.1 437.0 594.2 430.1 596.0 422.4 597.2 414.1 598.0 405.4 598.2 396.5 597.9 387.8 597.1 379.3 595.8 371.4 594.1 364.1 591.9 357.8 589.3 352.5 586.5ZM368.4 581.0 366.6 579.1 365.7 577.1 365.6 575.1 366.3 573.2 367.9 571.4 370.2 569.7 373.3 568.2 377.0 567.0 381.2 565.9 385.9 565.2 390.9 564.8 396.1 564.7 401.3 564.8 406.6 565.3 411.7 566.1 416.5 567.1 420.8 568.4 424.7 569.9 427.9 571.6 430.5 573.4 432.3 575.4 433.3 577.3 433.5 579.3 432.8 581.3 431.4 583.1 429.1 584.8 426.1 586.3 422.4 587.6 418.2 588.6 413.4 589.4 408.4 589.8 403.1 590.0 397.7 589.8 392.4 589.3 387.2 588.5 382.4 587.5 378.0 586.1 374.1 584.6 370.9 582.9Z" fill="#b496dc" fill-opacity="0.6"/></g><defs><radialGradient id="cg"><stop offset="0" stop-color="#4fe0ff" stop-opacity=".8"/><stop offset=".55" stop-color="#2aa0ff" stop-opacity=".45"/><stop offset="1" stop-color="#2060ff" stop-opacity="0"/></radialGradient></defs><ellipse cx="608" cy="527" rx="10" ry="8" fill="url(#cg)"/><ellipse cx="727" cy="614" rx="9" ry="7.5" fill="url(#cg)"/><ellipse cx="648" cy="551" rx="7" ry="9" fill="url(#cg)" opacity=".7"/><ellipse cx="767" cy="645" rx="6" ry="8" fill="url(#cg)" opacity=".7"/><g stroke-linecap="round" fill="none"><path d="M578 556L598 552.5" stroke="#e8401a" stroke-width="2.2" opacity=".85"/><path d="M641.5 559.5L652 568.5" stroke="#b01818" stroke-width="3" opacity=".9"/><path d="M644 560L652.5 567" stroke="#ffb020" stroke-width="1.2"/><path d="M717.5 621.5L731.5 630.5" stroke="#c02010" stroke-width="2.6" opacity=".9"/><path d="M719 621L732 629" stroke="#ffb020" stroke-width="1.1"/><path d="M759.5 650.5L774 663.5" stroke="#c02010" stroke-width="2.8" opacity=".9"/><path d="M761 650.5L774.5 662" stroke="#ffb020" stroke-width="1.1"/></g><path d="M285 530.4L513 503.8L511.6 564.7L284 591.6Z" stroke="#e8000d" stroke-width="2.6" fill="none" stroke-dasharray="11 6.5"/><text x="203" y="582" font-family="'DejaVu Sans','Liberation Sans',sans-serif" font-size="14" fill="#1a1a1a">200</text><text x="248" y="627.6" font-family="'DejaVu Sans','Liberation Sans',sans-serif" font-size="14" fill="#1a1a1a">100</text><text x="309" y="675.6" font-family="'DejaVu Sans','Liberation Sans',sans-serif" font-size="14" fill="#1a1a1a">0</text><text x="349.7" y="728.8" font-family="'DejaVu Sans','Liberation Sans',sans-serif" font-size="14" fill="#1a1a1a">-100</text><text x="404.8" y="784.9" font-family="'DejaVu Sans','Liberation Sans',sans-serif" font-size="14" fill="#1a1a1a">-200</text><text x="436.6" y="788.2" font-family="'DejaVu Sans','Liberation Sans',sans-serif" font-size="14" fill="#1a1a1a">200</text><text x="560.6" y="769.1" font-family="'DejaVu Sans','Liberation Sans',sans-serif" font-size="14" fill="#1a1a1a">100</text><text x="693.2" y="751.1" font-family="'DejaVu Sans','Liberation Sans',sans-serif" font-size="14" fill="#1a1a1a">0</text><text x="801.4" y="734.7" font-family="'DejaVu Sans','Liberation Sans',sans-serif" font-size="14" fill="#1a1a1a">-100</text><text x="917.2" y="716.7" font-family="'DejaVu Sans','Liberation Sans',sans-serif" font-size="14" fill="#1a1a1a">-200</text><text x="946.7" y="697" font-family="'DejaVu Sans','Liberation Sans',sans-serif" font-size="14" fill="#1a1a1a">0</text><text x="944.7" y="673.4" font-family="'DejaVu Sans','Liberation Sans',sans-serif" font-size="14" fill="#1a1a1a">20</text><text x="944.7" y="648.8" font-family="'DejaVu Sans','Liberation Sans',sans-serif" font-size="14" fill="#1a1a1a">40</text><text x="950" y="623.2" font-family="'DejaVu Sans','Liberation Sans',sans-serif" font-size="14" fill="#1a1a1a">60</text><text x="914.5" y="599.6" font-size="21.5" font-family="'DejaVu Sans Condensed','DejaVu Sans',sans-serif" font-weight="bold" stroke="#000" stroke-width=".4" textLength="54">(µm)</text><text x="274.6" y="455.9" font-size="22" stroke="#000" stroke-width=".4" font-family="'Liberation Sans',Arial,sans-serif" font-weight="bold" textLength="238.4">Cross-section of a cell</text><text x="295.6" y="482.8" font-size="22" stroke="#000" stroke-width=".4" font-family="'Liberation Sans',Arial,sans-serif" font-weight="bold" textLength="195.4">trapping electrode</text></g>
<g stroke="#e8000d" stroke-width="2.1" fill="none" stroke-dasharray="9.5 6.3">
<path d="M122 269.3L285.2 530.4"/><path d="M1110 271L513 503.8"/>
</g>
<text x="-3" y="892.5" font-size="54" font-family="'Liberation Sans',Arial,sans-serif" font-weight="bold" stroke="#000" stroke-width="0.45">b</text>
<text x="79.5" y="923" font-size="21.7" font-family="'DejaVu Sans Condensed','DejaVu Sans',sans-serif" font-weight="bold" stroke="#000" stroke-width="0.45" textLength="73.5">z (µm)</text>
<circle cx="181" cy="925" r="6.8" fill="#07078e"/>
<text x="201" y="933" font-size="21.5" font-family="'DejaVu Sans Condensed','DejaVu Sans',sans-serif" font-weight="bold" stroke="#000" stroke-width="0.45" textLength="80">Neuron</text>
<text x="780" y="930" font-size="21.8" font-family="'DejaVu Sans Condensed','DejaVu Sans',sans-serif" font-weight="bold" stroke="#000" stroke-width="0.45" textLength="344">Intensity : Magnitude of E-field</text>
<g transform="translate(130.5 939.8) scale(1.01619 1.01005)"><g clip-path="url(#cf)"><g filter="url(#hotf)"><use href="#F"/></g></g></g>
<rect x="130.5" y="939" width="1004" height="1.6" fill="#3a3a3a"/>
<rect x="130.5" y="1138.8" width="1004" height="3" fill="#4a4a4a"/>
<rect x="1133.3" y="939.8" width="1.2" height="201" fill="#3a3a3a"/>
<rect x="129" y="938.8" width="3" height="203" fill="#000"/>
<rect x="195.9" y="1140.8" width="213.1" height="9" fill="#000"/>
<rect x="470.5" y="1140.8" width="82.7" height="9" fill="#000"/>
<rect x="713.0" y="1140.8" width="82.7" height="9" fill="#000"/>
<rect x="855.6" y="1140.8" width="215.2" height="9" fill="#000"/>
<rect x="224.6" y="1140.8" width="2" height="10.5" fill="#555"/>
<rect x="306.1" y="1140.8" width="2" height="10.5" fill="#555"/>
<rect x="387.6" y="1140.8" width="2" height="10.5" fill="#555"/>
<rect x="469.1" y="1140.8" width="2" height="10.5" fill="#555"/>
<rect x="550.6" y="1140.8" width="2" height="10.5" fill="#555"/>
<rect x="632.1" y="1140.8" width="2" height="10.5" fill="#555"/>
<rect x="713.6" y="1140.8" width="2" height="10.5" fill="#555"/>
<rect x="795.1" y="1140.8" width="2" height="10.5" fill="#555"/>
<rect x="876.6" y="1140.8" width="2" height="10.5" fill="#555"/>
<rect x="958.1" y="1140.8" width="2" height="10.5" fill="#555"/>
<rect x="1039.6" y="1140.8" width="2" height="10.5" fill="#555"/>
<rect x="124" y="938.7" width="5.5" height="2.2" fill="#000"/>
<text x="120.5" y="948.5" font-size="21" font-family="'DejaVu Sans Condensed','DejaVu Sans',sans-serif" font-weight="bold" text-anchor="end" stroke="#000" stroke-width="0.45" textLength="28.4" lengthAdjust="spacingAndGlyphs">50</text>
<rect x="124" y="1039.2" width="5.5" height="2.2" fill="#000"/>
<text x="120.5" y="1049" font-size="21" font-family="'DejaVu Sans Condensed','DejaVu Sans',sans-serif" font-weight="bold" text-anchor="end" stroke="#000" stroke-width="0.45" textLength="28.4" lengthAdjust="spacingAndGlyphs">25</text>
<rect x="124" y="1138.7" width="5.5" height="2.2" fill="#000"/>
<text x="120.5" y="1149.3" font-size="21" font-family="'DejaVu Sans Condensed','DejaVu Sans',sans-serif" font-weight="bold" text-anchor="end" stroke="#000" stroke-width="0.45" textLength="14.2" lengthAdjust="spacingAndGlyphs">0</text>
<clipPath id="cb0"><rect x="130.5" y="939.8" width="1004" height="204"/></clipPath>
<g clip-path="url(#cb0)"><use href="#n" x="151.4" y="1119.6"/><use href="#n" x="191.5" y="1119.6"/><use href="#n" x="231.6" y="1119.6"/><use href="#n" x="271.7" y="1119.6"/><use href="#n" x="311.8" y="1119.6"/><use href="#n" x="351.9" y="1119.6"/><use href="#n" x="392.0" y="1119.6"/><use href="#n" x="432.1" y="1119.6"/><use href="#n" x="472.2" y="1119.6"/><use href="#n" x="512.3" y="1119.6"/><use href="#n" x="552.4" y="1119.6"/><use href="#n" x="592.4" y="1119.6"/><use href="#n" x="632.5" y="1119.6"/><use href="#n" x="672.6" y="1119.6"/><use href="#n" x="712.7" y="1119.6"/><use href="#n" x="752.8" y="1119.6"/><use href="#n" x="792.9" y="1119.6"/><use href="#n" x="833.0" y="1119.6"/><use href="#n" x="873.1" y="1119.6"/><use href="#n" x="913.2" y="1119.6"/><use href="#n" x="953.3" y="1119.6"/><use href="#n" x="993.4" y="1119.6"/><use href="#n" x="1033.5" y="1119.6"/><use href="#n" x="1073.6" y="1119.6"/><use href="#n" x="1113.6" y="1119.6"/><use href="#n" x="151.4" y="1099.6"/><use href="#n" x="191.5" y="1099.6"/><use href="#n" x="231.6" y="1099.6"/><use href="#n" x="271.7" y="1099.6"/><use href="#n" x="311.8" y="1099.6"/><use href="#n" x="351.9" y="1099.6"/><use href="#n" x="392.0" y="1099.6"/><use href="#n" x="432.1" y="1099.6"/><use href="#n" x="472.2" y="1099.6"/><use href="#n" x="512.3" y="1099.6"/><use href="#n" x="552.4" y="1099.6"/><use href="#n" x="592.4" y="1099.6"/><use href="#n" x="632.5" y="1099.6"/><use href="#n" x="672.6" y="1099.6"/><use href="#n" x="712.7" y="1099.6"/><use href="#n" x="752.8" y="1099.6"/><use href="#n" x="792.9" y="1099.6"/><use href="#n" x="833.0" y="1099.6"/><use href="#n" x="873.1" y="1099.6"/><use href="#n" x="913.2" y="1099.6"/><use href="#n" x="953.3" y="1099.6"/><use href="#n" x="993.4" y="1099.6"/><use href="#n" x="1033.5" y="1099.6"/><use href="#n" x="1073.6" y="1099.6"/><use href="#n" x="1113.6" y="1099.6"/><use href="#n" x="151.4" y="1079.6"/><use href="#n" x="191.5" y="1079.6"/><use href="#n" x="231.6" y="1079.6"/><use href="#n" x="271.7" y="1079.6"/><use href="#n" x="311.8" y="1079.6"/><use href="#n" x="351.9" y="1079.6"/><use href="#n" x="392.0" y="1079.6"/><use href="#n" x="432.1" y="1079.6"/><use href="#n" x="472.2" y="1079.6"/><use href="#n" x="512.3" y="1079.6"/><use href="#n" x="552.4" y="1079.6"/><use href="#n" x="592.4" y="1079.6"/><use href="#n" x="632.5" y="1079.6"/><use href="#n" x="672.6" y="1079.6"/><use href="#n" x="712.7" y="1079.6"/><use href="#n" x="752.8" y="1079.6"/><use href="#n" x="792.9" y="1079.6"/><use href="#n" x="833.0" y="1079.6"/><use href="#n" x="873.1" y="1079.6"/><use href="#n" x="913.2" y="1079.6"/><use href="#n" x="953.3" y="1079.6"/><use href="#n" x="993.4" y="1079.6"/><use href="#n" x="1033.5" y="1079.6"/><use href="#n" x="1073.6" y="1079.6"/><use href="#n" x="1113.6" y="1079.6"/><use href="#n" x="151.4" y="1059.6"/><use href="#n" x="191.5" y="1059.6"/><use href="#n" x="231.6" y="1059.6"/><use href="#n" x="271.7" y="1059.6"/><use href="#n" x="311.8" y="1059.6"/><use href="#n" x="351.9" y="1059.6"/><use href="#n" x="392.0" y="1059.6"/><use href="#n" x="432.1" y="1059.6"/><use href="#n" x="472.2" y="1059.6"/><use href="#n" x="512.3" y="1059.6"/><use href="#n" x="552.4" y="1059.6"/><use href="#n" x="592.4" y="1059.6"/><use href="#n" x="632.5" y="1059.6"/><use href="#n" x="672.6" y="1059.6"/><use href="#n" x="712.7" y="1059.6"/><use href="#n" x="752.8" y="1059.6"/><use href="#n" x="792.9" y="1059.6"/><use href="#n" x="833.0" y="1059.6"/><use href="#n" x="873.1" y="1059.6"/><use href="#n" x="913.2" y="1059.6"/><use href="#n" x="953.3" y="1059.6"/><use href="#n" x="993.4" y="1059.6"/><use href="#n" x="1033.5" y="1059.6"/><use href="#n" x="1073.6" y="1059.6"/><use href="#n" x="1113.6" y="1059.6"/><use href="#n" x="151.4" y="1039.6"/><use href="#n" x="191.5" y="1039.6"/><use href="#n" x="231.6" y="1039.6"/><use href="#n" x="271.7" y="1039.6"/><use href="#n" x="311.8" y="1039.6"/><use href="#n" x="351.9" y="1039.6"/><use href="#n" x="392.0" y="1039.6"/><use href="#n" x="432.1" y="1039.6"/><use href="#n" x="472.2" y="1039.6"/><use href="#n" x="512.3" y="1039.6"/><use href="#n" x="552.4" y="1039.6"/><use href="#n" x="592.4" y="1039.6"/><use href="#n" x="632.5" y="1039.6"/><use href="#n" x="672.6" y="1039.6"/><use href="#n" x="712.7" y="1039.6"/><use href="#n" x="752.8" y="1039.6"/><use href="#n" x="792.9" y="1039.6"/><use href="#n" x="833.0" y="1039.6"/><use href="#n" x="873.1" y="1039.6"/><use href="#n" x="913.2" y="1039.6"/><use href="#n" x="953.3" y="1039.6"/><use href="#n" x="993.4" y="1039.6"/><use href="#n" x="1033.5" y="1039.6"/><use href="#n" x="1073.6" y="1039.6"/><use href="#n" x="1113.6" y="1039.6"/><use href="#n" x="151.4" y="1019.6"/><use href="#n" x="191.5" y="1019.6"/><use href="#n" x="231.6" y="1019.6"/><use href="#n" x="271.7" y="1019.6"/><use href="#n" x="311.8" y="1019.6"/><use href="#n" x="351.9" y="1019.6"/><use href="#n" x="392.0" y="1019.6"/><use href="#n" x="432.1" y="1019.6"/><use href="#n" x="472.2" y="1019.6"/><use href="#n" x="512.3" y="1019.6"/><use href="#n" x="552.4" y="1019.6"/><use href="#n" x="592.4" y="1019.6"/><use href="#n" x="632.5" y="1019.6"/><use href="#n" x="672.6" y="1019.6"/><use href="#n" x="712.7" y="1019.6"/><use href="#n" x="752.8" y="1019.6"/><use href="#n" x="792.9" y="1019.6"/><use href="#n" x="833.0" y="1019.6"/><use href="#n" x="873.1" y="1019.6"/><use href="#n" x="913.2" y="1019.6"/><use href="#n" x="953.3" y="1019.6"/><use href="#n" x="993.4" y="1019.6"/><use href="#n" x="1033.5" y="1019.6"/><use href="#n" x="1073.6" y="1019.6"/><use href="#n" x="1113.6" y="1019.6"/><use href="#n" x="151.4" y="999.6"/><use href="#n" x="191.5" y="999.6"/><use href="#n" x="231.6" y="999.6"/><use href="#n" x="271.7" y="999.6"/><use href="#n" x="311.8" y="999.6"/><use href="#n" x="351.9" y="999.6"/><use href="#n" x="392.0" y="999.6"/><use href="#n" x="432.1" y="999.6"/><use href="#n" x="472.2" y="999.6"/><use href="#n" x="512.3" y="999.6"/><use href="#n" x="552.4" y="999.6"/><use href="#n" x="592.4" y="999.6"/><use href="#n" x="632.5" y="999.6"/><use href="#n" x="672.6" y="999.6"/><use href="#n" x="712.7" y="999.6"/><use href="#n" x="752.8" y="999.6"/><use href="#n" x="792.9" y="999.6"/><use href="#n" x="833.0" y="999.6"/><use href="#n" x="873.1" y="999.6"/><use href="#n" x="913.2" y="999.6"/><use href="#n" x="953.3" y="999.6"/><use href="#n" x="993.4" y="999.6"/><use href="#n" x="1033.5" y="999.6"/><use href="#n" x="1073.6" y="999.6"/><use href="#n" x="1113.6" y="999.6"/><use href="#n" x="151.4" y="979.6"/><use href="#n" x="191.5" y="979.6"/><use href="#n" x="231.6" y="979.6"/><use href="#n" x="271.7" y="979.6"/><use href="#n" x="311.8" y="979.6"/><use href="#n" x="351.9" y="979.6"/><use href="#n" x="392.0" y="979.6"/><use href="#n" x="432.1" y="979.6"/><use href="#n" x="472.2" y="979.6"/><use href="#n" x="512.3" y="979.6"/><use href="#n" x="552.4" y="979.6"/><use href="#n" x="592.4" y="979.6"/><use href="#n" x="632.5" y="979.6"/><use href="#n" x="672.6" y="979.6"/><use href="#n" x="712.7" y="979.6"/><use href="#n" x="752.8" y="979.6"/><use href="#n" x="792.9" y="979.6"/><use href="#n" x="833.0" y="979.6"/><use href="#n" x="873.1" y="979.6"/><use href="#n" x="913.2" y="979.6"/><use href="#n" x="953.3" y="979.6"/><use href="#n" x="993.4" y="979.6"/><use href="#n" x="1033.5" y="979.6"/><use href="#n" x="1073.6" y="979.6"/><use href="#n" x="1113.6" y="979.6"/><use href="#n" x="151.4" y="959.6"/><use href="#n" x="191.5" y="959.6"/><use href="#n" x="231.6" y="959.6"/><use href="#n" x="271.7" y="959.6"/><use href="#n" x="311.8" y="959.6"/><use href="#n" x="351.9" y="959.6"/><use href="#n" x="392.0" y="959.6"/><use href="#n" x="432.1" y="959.6"/><use href="#n" x="472.2" y="959.6"/><use href="#n" x="512.3" y="959.6"/><use href="#n" x="552.4" y="959.6"/><use href="#n" x="592.4" y="959.6"/><use href="#n" x="632.5" y="959.6"/><use href="#n" x="672.6" y="959.6"/><use href="#n" x="712.7" y="959.6"/><use href="#n" x="752.8" y="959.6"/><use href="#n" x="792.9" y="959.6"/><use href="#n" x="833.0" y="959.6"/><use href="#n" x="873.1" y="959.6"/><use href="#n" x="913.2" y="959.6"/><use href="#n" x="953.3" y="959.6"/><use href="#n" x="993.4" y="959.6"/><use href="#n" x="1033.5" y="959.6"/><use href="#n" x="1073.6" y="959.6"/><use href="#n" x="1113.6" y="959.6"/></g>
<text x="161.5" y="1120.7" font-size="22.5" font-family="'Liberation Sans',Arial,sans-serif" font-weight="bold" fill="#fff" stroke="#fff" stroke-width=".4" textLength="58">t = 0s</text>
<text x="43.5" y="960.7" font-size="46" font-family="'Liberation Sans',Arial,sans-serif" stroke="#000" stroke-width="0.55" letter-spacing="1">I</text>
<g transform="translate(130.5 1159.5) scale(1.01619 1.01005)"><g clip-path="url(#cf)"><g filter="url(#hotf)"><use href="#F"/></g></g></g>
<rect x="130.5" y="1158.7" width="1004" height="1.6" fill="#3a3a3a"/>
<rect x="130.5" y="1358.5" width="1004" height="3" fill="#4a4a4a"/>
<rect x="1133.3" y="1159.5" width="1.2" height="201" fill="#3a3a3a"/>
<rect x="129" y="1158.5" width="3" height="203" fill="#000"/>
<rect x="195.9" y="1360.5" width="213.1" height="9" fill="#000"/>
<rect x="470.5" y="1360.5" width="82.7" height="9" fill="#000"/>
<rect x="713.0" y="1360.5" width="82.7" height="9" fill="#000"/>
<rect x="855.6" y="1360.5" width="215.2" height="9" fill="#000"/>
<rect x="224.6" y="1360.5" width="2" height="10.5" fill="#555"/>
<rect x="306.1" y="1360.5" width="2" height="10.5" fill="#555"/>
<rect x="387.6" y="1360.5" width="2" height="10.5" fill="#555"/>
<rect x="469.1" y="1360.5" width="2" height="10.5" fill="#555"/>
<rect x="550.6" y="1360.5" width="2" height="10.5" fill="#555"/>
<rect x="632.1" y="1360.5" width="2" height="10.5" fill="#555"/>
<rect x="713.6" y="1360.5" width="2" height="10.5" fill="#555"/>
<rect x="795.1" y="1360.5" width="2" height="10.5" fill="#555"/>
<rect x="876.6" y="1360.5" width="2" height="10.5" fill="#555"/>
<rect x="958.1" y="1360.5" width="2" height="10.5" fill="#555"/>
<rect x="1039.6" y="1360.5" width="2" height="10.5" fill="#555"/>
<rect x="124" y="1158.4" width="5.5" height="2.2" fill="#000"/>
<text x="120.5" y="1168.2" font-size="21" font-family="'DejaVu Sans Condensed','DejaVu Sans',sans-serif" font-weight="bold" text-anchor="end" stroke="#000" stroke-width="0.45" textLength="28.4" lengthAdjust="spacingAndGlyphs">50</text>
<rect x="124" y="1258.9" width="5.5" height="2.2" fill="#000"/>
<text x="120.5" y="1268.7" font-size="21" font-family="'DejaVu Sans Condensed','DejaVu Sans',sans-serif" font-weight="bold" text-anchor="end" stroke="#000" stroke-width="0.45" textLength="28.4" lengthAdjust="spacingAndGlyphs">25</text>
<rect x="124" y="1358.4" width="5.5" height="2.2" fill="#000"/>
<text x="120.5" y="1369" font-size="21" font-family="'DejaVu Sans Condensed','DejaVu Sans',sans-serif" font-weight="bold" text-anchor="end" stroke="#000" stroke-width="0.45" textLength="14.2" lengthAdjust="spacingAndGlyphs">0</text>
<clipPath id="cb1"><rect x="130.5" y="1159.5" width="1004" height="204"/></clipPath>
<g clip-path="url(#cb1)"><use href="#n" x="148.2" y="1341.1"/><use href="#n" x="174.9" y="1334.0"/><use href="#n" x="226.5" y="1325.6"/><use href="#n" x="260.0" y="1333.3"/><use href="#n" x="284.4" y="1332.4"/><use href="#n" x="298.4" y="1324.4"/><use href="#n" x="315.9" y="1294.9"/><use href="#n" x="409.1" y="1238.1"/><use href="#n" x="515.0" y="1242.5"/><use href="#n" x="564.8" y="1271.5"/><use href="#n" x="606.9" y="1327.9"/><use href="#n" x="618.6" y="1348.6"/><use href="#n" x="632.6" y="1350.5"/><use href="#n" x="646.6" y="1348.6"/><use href="#n" x="658.2" y="1328.1"/><use href="#n" x="700.3" y="1271.5"/><use href="#n" x="749.8" y="1242.7"/><use href="#n" x="855.8" y="1238.0"/><use href="#n" x="949.2" y="1294.7"/><use href="#n" x="966.8" y="1324.3"/><use href="#n" x="980.7" y="1332.4"/><use href="#n" x="1005.1" y="1333.3"/><use href="#n" x="1038.6" y="1325.6"/><use href="#n" x="1090.2" y="1333.9"/><use href="#n" x="1116.9" y="1341.1"/><use href="#n" x="148.0" y="1321.9"/><use href="#n" x="182.5" y="1316.0"/><use href="#n" x="223.0" y="1310.2"/><use href="#n" x="259.2" y="1311.6"/><use href="#n" x="287.2" y="1309.2"/><use href="#n" x="306.2" y="1297.6"/><use href="#n" x="334.9" y="1269.4"/><use href="#n" x="416.0" y="1235.5"/><use href="#n" x="510.3" y="1240.2"/><use href="#n" x="558.2" y="1265.0"/><use href="#n" x="594.9" y="1301.8"/><use href="#n" x="613.5" y="1327.8"/><use href="#n" x="632.6" y="1332.8"/><use href="#n" x="651.6" y="1327.8"/><use href="#n" x="670.2" y="1301.9"/><use href="#n" x="706.9" y="1265.1"/><use href="#n" x="754.6" y="1240.3"/><use href="#n" x="848.8" y="1235.5"/><use href="#n" x="930.2" y="1269.3"/><use href="#n" x="958.9" y="1297.6"/><use href="#n" x="978.0" y="1309.1"/><use href="#n" x="1005.9" y="1311.6"/><use href="#n" x="1042.0" y="1310.2"/><use href="#n" x="1082.6" y="1316.0"/><use href="#n" x="1117.1" y="1321.9"/><use href="#n" x="148.8" y="1300.5"/><use href="#n" x="185.8" y="1297.1"/><use href="#n" x="223.6" y="1293.5"/><use href="#n" x="259.6" y="1292.2"/><use href="#n" x="290.6" y="1288.8"/><use href="#n" x="314.7" y="1277.1"/><use href="#n" x="349.3" y="1254.0"/><use href="#n" x="422.7" y="1231.4"/><use href="#n" x="505.2" y="1236.2"/><use href="#n" x="550.8" y="1256.7"/><use href="#n" x="582.9" y="1280.4"/><use href="#n" x="607.9" y="1300.0"/><use href="#n" x="632.6" y="1305.7"/><use href="#n" x="657.2" y="1300.0"/><use href="#n" x="682.2" y="1280.4"/><use href="#n" x="714.2" y="1256.8"/><use href="#n" x="759.8" y="1236.2"/><use href="#n" x="842.2" y="1231.4"/><use href="#n" x="915.7" y="1253.9"/><use href="#n" x="950.4" y="1277.0"/><use href="#n" x="974.5" y="1288.8"/><use href="#n" x="1005.5" y="1292.2"/><use href="#n" x="1041.5" y="1293.5"/><use href="#n" x="1079.3" y="1297.1"/><use href="#n" x="1116.2" y="1300.5"/><use href="#n" x="149.6" y="1278.8"/><use href="#n" x="186.0" y="1276.6"/><use href="#n" x="224.7" y="1275.1"/><use href="#n" x="260.6" y="1273.3"/><use href="#n" x="293.6" y="1269.8"/><use href="#n" x="322.6" y="1259.8"/><use href="#n" x="360.2" y="1241.5"/><use href="#n" x="427.4" y="1226.2"/><use href="#n" x="499.7" y="1230.3"/><use href="#n" x="543.2" y="1246.3"/><use href="#n" x="574.0" y="1262.4"/><use href="#n" x="602.9" y="1273.6"/><use href="#n" x="632.6" y="1277.5"/><use href="#n" x="662.2" y="1273.7"/><use href="#n" x="691.1" y="1262.4"/><use href="#n" x="721.9" y="1246.4"/><use href="#n" x="765.3" y="1230.3"/><use href="#n" x="837.5" y="1226.2"/><use href="#n" x="904.9" y="1241.5"/><use href="#n" x="942.5" y="1259.7"/><use href="#n" x="971.5" y="1269.7"/><use href="#n" x="1004.5" y="1273.3"/><use href="#n" x="1040.4" y="1275.1"/><use href="#n" x="1079.1" y="1276.6"/><use href="#n" x="1115.5" y="1278.8"/><use href="#n" x="150.1" y="1257.8"/><use href="#n" x="186.8" y="1256.4"/><use href="#n" x="225.6" y="1256.0"/><use href="#n" x="261.7" y="1254.4"/><use href="#n" x="296.1" y="1251.3"/><use href="#n" x="329.1" y="1243.9"/><use href="#n" x="368.2" y="1229.7"/><use href="#n" x="430.6" y="1219.1"/><use href="#n" x="495.1" y="1222.7"/><use href="#n" x="536.5" y="1235.0"/><use href="#n" x="568.8" y="1245.1"/><use href="#n" x="600.1" y="1251.1"/><use href="#n" x="632.5" y="1253.1"/><use href="#n" x="665.0" y="1251.1"/><use href="#n" x="696.3" y="1245.1"/><use href="#n" x="728.6" y="1235.1"/><use href="#n" x="769.9" y="1222.7"/><use href="#n" x="834.4" y="1219.1"/><use href="#n" x="896.8" y="1229.7"/><use href="#n" x="936.0" y="1243.8"/><use href="#n" x="969.0" y="1251.3"/><use href="#n" x="1003.4" y="1254.4"/><use href="#n" x="1039.5" y="1256.0"/><use href="#n" x="1078.3" y="1256.4"/><use href="#n" x="1115.0" y="1257.7"/><use href="#n" x="150.3" y="1237.4"/><use href="#n" x="187.6" y="1236.6"/><use href="#n" x="226.2" y="1236.7"/><use href="#n" x="262.7" y="1235.5"/><use href="#n" x="298.2" y="1233.1"/><use href="#n" x="334.2" y="1228.1"/><use href="#n" x="374.2" y="1217.7"/><use href="#n" x="432.6" y="1210.5"/><use href="#n" x="491.1" y="1213.8"/><use href="#n" x="531.4" y="1222.5"/><use href="#n" x="565.8" y="1228.0"/><use href="#n" x="598.7" y="1231.0"/><use href="#n" x="632.5" y="1231.8"/><use href="#n" x="666.4" y="1231.0"/><use href="#n" x="699.3" y="1228.1"/><use href="#n" x="733.7" y="1222.5"/><use href="#n" x="774.0" y="1213.8"/><use href="#n" x="832.4" y="1210.5"/><use href="#n" x="890.8" y="1217.7"/><use href="#n" x="930.8" y="1228.1"/><use href="#n" x="966.9" y="1233.1"/><use href="#n" x="1002.4" y="1235.5"/><use href="#n" x="1038.9" y="1236.7"/><use href="#n" x="1077.5" y="1236.6"/><use href="#n" x="1114.7" y="1237.4"/><use href="#n" x="150.6" y="1217.8"/><use href="#n" x="188.0" y="1217.1"/><use href="#n" x="226.5" y="1217.3"/><use href="#n" x="263.4" y="1216.5"/><use href="#n" x="299.6" y="1214.8"/><use href="#n" x="337.1" y="1211.4"/><use href="#n" x="378.5" y="1204.7"/><use href="#n" x="433.8" y="1200.1"/><use href="#n" x="487.7" y="1203.0"/><use href="#n" x="528.8" y="1207.9"/><use href="#n" x="564.2" y="1211.0"/><use href="#n" x="598.2" y="1212.1"/><use href="#n" x="632.5" y="1209.8"/><use href="#n" x="666.9" y="1212.1"/><use href="#n" x="700.9" y="1211.0"/><use href="#n" x="736.3" y="1207.9"/><use href="#n" x="777.4" y="1203.0"/><use href="#n" x="831.2" y="1200.1"/><use href="#n" x="886.6" y="1204.7"/><use href="#n" x="927.9" y="1211.4"/><use href="#n" x="965.4" y="1214.8"/><use href="#n" x="1001.7" y="1216.5"/><use href="#n" x="1038.6" y="1217.3"/><use href="#n" x="1077.0" y="1217.1"/><use href="#n" x="1114.4" y="1217.8"/><use href="#n" x="150.7" y="1198.3"/><use href="#n" x="188.3" y="1197.7"/><use href="#n" x="224.8" y="1197.4"/><use href="#n" x="263.8" y="1197.4"/><use href="#n" x="300.6" y="1196.4"/><use href="#n" x="338.9" y="1194.3"/><use href="#n" x="381.9" y="1190.9"/><use href="#n" x="434.4" y="1187.7"/><use href="#n" x="485.1" y="1190.0"/><use href="#n" x="527.3" y="1192.2"/><use href="#n" x="563.4" y="1193.8"/><use href="#n" x="600.4" y="1191.9"/><use href="#n" x="632.5" y="1192.2"/><use href="#n" x="664.7" y="1191.9"/><use href="#n" x="701.7" y="1193.8"/><use href="#n" x="737.8" y="1192.2"/><use href="#n" x="779.9" y="1190.0"/><use href="#n" x="830.6" y="1187.7"/><use href="#n" x="883.2" y="1190.9"/><use href="#n" x="926.2" y="1194.3"/><use href="#n" x="964.4" y="1196.4"/><use href="#n" x="1001.2" y="1197.4"/><use href="#n" x="1040.2" y="1197.4"/><use href="#n" x="1076.8" y="1197.7"/><use href="#n" x="1114.3" y="1198.3"/><use href="#n" x="150.7" y="1178.7"/><use href="#n" x="188.5" y="1178.5"/><use href="#n" x="224.5" y="1178.2"/><use href="#n" x="264.1" y="1178.4"/><use href="#n" x="301.2" y="1177.9"/><use href="#n" x="339.9" y="1176.9"/><use href="#n" x="383.6" y="1175.5"/><use href="#n" x="434.7" y="1173.9"/><use href="#n" x="484.4" y="1174.9"/><use href="#n" x="526.5" y="1175.9"/><use href="#n" x="563.2" y="1176.5"/><use href="#n" x="600.3" y="1175.5"/><use href="#n" x="632.5" y="1176.7"/><use href="#n" x="664.8" y="1175.5"/><use href="#n" x="701.9" y="1176.5"/><use href="#n" x="738.6" y="1175.9"/><use href="#n" x="780.6" y="1174.9"/><use href="#n" x="830.3" y="1173.9"/><use href="#n" x="881.4" y="1175.5"/><use href="#n" x="925.2" y="1176.9"/><use href="#n" x="963.9" y="1177.9"/><use href="#n" x="1001.0" y="1178.4"/><use href="#n" x="1040.6" y="1178.2"/><use href="#n" x="1076.6" y="1178.5"/><use href="#n" x="1114.3" y="1178.7"/></g>
<text x="156.5" y="1340.7" font-size="22.5" font-family="'Liberation Sans',Arial,sans-serif" font-weight="bold" fill="#fff" stroke="#fff" stroke-width=".4" textLength="77.5">t = 0.3s</text>
<text x="29.5" y="1189.6" font-size="46" font-family="'Liberation Sans',Arial,sans-serif" stroke="#000" stroke-width="0.55" letter-spacing="1">II</text>
<g transform="translate(133 1380) scale(1.01619 1.01005)"><g clip-path="url(#cf)"><g filter="url(#hotf)"><use href="#F"/></g></g></g>
<rect x="133" y="1379.2" width="1004" height="1.6" fill="#3a3a3a"/>
<rect x="133" y="1579" width="1004" height="3" fill="#4a4a4a"/>
<rect x="1135.8" y="1380" width="1.2" height="201" fill="#3a3a3a"/>
<rect x="131.5" y="1379" width="3" height="203" fill="#000"/>
<rect x="198.4" y="1581" width="213.1" height="9" fill="#000"/>
<rect x="473.0" y="1581" width="82.7" height="9" fill="#000"/>
<rect x="715.5" y="1581" width="82.7" height="9" fill="#000"/>
<rect x="858.1" y="1581" width="215.2" height="9" fill="#000"/>
<rect x="227.1" y="1581" width="2" height="10.5" fill="#555"/>
<rect x="308.6" y="1581" width="2" height="10.5" fill="#555"/>
<rect x="390.1" y="1581" width="2" height="10.5" fill="#555"/>
<rect x="471.6" y="1581" width="2" height="10.5" fill="#555"/>
<rect x="553.1" y="1581" width="2" height="10.5" fill="#555"/>
<rect x="634.6" y="1581" width="2" height="10.5" fill="#555"/>
<rect x="716.1" y="1581" width="2" height="10.5" fill="#555"/>
<rect x="797.6" y="1581" width="2" height="10.5" fill="#555"/>
<rect x="879.1" y="1581" width="2" height="10.5" fill="#555"/>
<rect x="960.6" y="1581" width="2" height="10.5" fill="#555"/>
<rect x="1042.1" y="1581" width="2" height="10.5" fill="#555"/>
<rect x="126.5" y="1378.9" width="5.5" height="2.2" fill="#000"/>
<text x="123" y="1388.7" font-size="21" font-family="'DejaVu Sans Condensed','DejaVu Sans',sans-serif" font-weight="bold" text-anchor="end" stroke="#000" stroke-width="0.45" textLength="28.4" lengthAdjust="spacingAndGlyphs">50</text>
<rect x="126.5" y="1479.4" width="5.5" height="2.2" fill="#000"/>
<text x="123" y="1489.2" font-size="21" font-family="'DejaVu Sans Condensed','DejaVu Sans',sans-serif" font-weight="bold" text-anchor="end" stroke="#000" stroke-width="0.45" textLength="28.4" lengthAdjust="spacingAndGlyphs">25</text>
<rect x="126.5" y="1578.9" width="5.5" height="2.2" fill="#000"/>
<text x="123" y="1589.5" font-size="21" font-family="'DejaVu Sans Condensed','DejaVu Sans',sans-serif" font-weight="bold" text-anchor="end" stroke="#000" stroke-width="0.45" textLength="14.2" lengthAdjust="spacingAndGlyphs">0</text>
<clipPath id="cb2"><rect x="133" y="1380" width="1004" height="204"/></clipPath>
<g clip-path="url(#cb2)"><use href="#n" x="145.4" y="1565.3"/><use href="#n" x="156.4" y="1558.1"/><use href="#n" x="208.9" y="1526.0"/><use href="#n" x="241.1" y="1534.4"/><use href="#n" x="256.1" y="1535.9"/><use href="#n" x="263.3" y="1526.5"/><use href="#n" x="277.3" y="1494.3"/><use href="#n" x="384.9" y="1417.1"/><use href="#n" x="556.1" y="1432.3"/><use href="#n" x="596.0" y="1466.9"/><use href="#n" x="631.8" y="1573.6"/><use href="#n" x="633.0" y="1576.6"/><use href="#n" x="635.1" y="1576.6"/><use href="#n" x="637.2" y="1576.6"/><use href="#n" x="638.4" y="1573.7"/><use href="#n" x="674.1" y="1467.0"/><use href="#n" x="713.8" y="1432.4"/><use href="#n" x="884.8" y="1417.0"/><use href="#n" x="992.8" y="1494.1"/><use href="#n" x="1006.9" y="1526.4"/><use href="#n" x="1014.1" y="1535.9"/><use href="#n" x="1029.1" y="1534.4"/><use href="#n" x="1061.1" y="1526.0"/><use href="#n" x="1113.7" y="1558.0"/><use href="#n" x="1124.7" y="1565.3"/><use href="#n" x="144.6" y="1548.8"/><use href="#n" x="165.8" y="1535.8"/><use href="#n" x="207.3" y="1517.4"/><use href="#n" x="238.8" y="1515.6"/><use href="#n" x="258.3" y="1512.1"/><use href="#n" x="271.2" y="1498.8"/><use href="#n" x="295.7" y="1467.2"/><use href="#n" x="399.9" y="1413.6"/><use href="#n" x="552.0" y="1430.0"/><use href="#n" x="590.2" y="1458.7"/><use href="#n" x="623.9" y="1534.8"/><use href="#n" x="632.6" y="1573.9"/><use href="#n" x="635.1" y="1575.4"/><use href="#n" x="637.6" y="1573.9"/><use href="#n" x="646.2" y="1535.2"/><use href="#n" x="679.9" y="1458.8"/><use href="#n" x="718.0" y="1430.0"/><use href="#n" x="869.5" y="1413.5"/><use href="#n" x="974.4" y="1467.0"/><use href="#n" x="998.9" y="1498.8"/><use href="#n" x="1011.9" y="1512.1"/><use href="#n" x="1031.3" y="1515.6"/><use href="#n" x="1062.7" y="1517.4"/><use href="#n" x="1104.3" y="1535.8"/><use href="#n" x="1125.6" y="1548.8"/><use href="#n" x="146.3" y="1524.6"/><use href="#n" x="173.9" y="1514.0"/><use href="#n" x="210.5" y="1504.3"/><use href="#n" x="240.4" y="1499.4"/><use href="#n" x="263.0" y="1493.3"/><use href="#n" x="280.7" y="1478.8"/><use href="#n" x="310.7" y="1450.8"/><use href="#n" x="416.5" y="1410.7"/><use href="#n" x="546.9" y="1426.7"/><use href="#n" x="583.6" y="1449.9"/><use href="#n" x="609.3" y="1484.9"/><use href="#n" x="627.5" y="1536.6"/><use href="#n" x="635.1" y="1552.4"/><use href="#n" x="642.7" y="1536.7"/><use href="#n" x="660.8" y="1485.1"/><use href="#n" x="686.5" y="1450.0"/><use href="#n" x="723.1" y="1426.7"/><use href="#n" x="853.0" y="1410.6"/><use href="#n" x="959.4" y="1450.6"/><use href="#n" x="989.4" y="1478.7"/><use href="#n" x="1007.2" y="1493.3"/><use href="#n" x="1029.7" y="1499.4"/><use href="#n" x="1059.6" y="1504.2"/><use href="#n" x="1096.2" y="1514.0"/><use href="#n" x="1123.8" y="1524.6"/><use href="#n" x="148.5" y="1498.3"/><use href="#n" x="177.5" y="1491.9"/><use href="#n" x="213.7" y="1487.9"/><use href="#n" x="243.0" y="1482.9"/><use href="#n" x="267.8" y="1476.1"/><use href="#n" x="289.8" y="1462.5"/><use href="#n" x="323.6" y="1438.5"/><use href="#n" x="428.8" y="1408.3"/><use href="#n" x="540.9" y="1422.5"/><use href="#n" x="576.5" y="1440.7"/><use href="#n" x="599.0" y="1460.6"/><use href="#n" x="618.3" y="1481.4"/><use href="#n" x="635.1" y="1491.4"/><use href="#n" x="651.8" y="1481.4"/><use href="#n" x="671.2" y="1460.6"/><use href="#n" x="693.6" y="1440.7"/><use href="#n" x="729.1" y="1422.5"/><use href="#n" x="840.8" y="1408.3"/><use href="#n" x="946.4" y="1438.4"/><use href="#n" x="980.3" y="1462.5"/><use href="#n" x="1002.4" y="1476.1"/><use href="#n" x="1027.1" y="1482.8"/><use href="#n" x="1056.4" y="1487.9"/><use href="#n" x="1092.6" y="1491.9"/><use href="#n" x="1121.6" y="1498.3"/><use href="#n" x="149.8" y="1474.5"/><use href="#n" x="180.6" y="1471.0"/><use href="#n" x="216.1" y="1470.1"/><use href="#n" x="245.6" y="1465.9"/><use href="#n" x="272.1" y="1459.8"/><use href="#n" x="298.0" y="1448.2"/><use href="#n" x="334.8" y="1428.3"/><use href="#n" x="437.1" y="1405.7"/><use href="#n" x="535.3" y="1417.7"/><use href="#n" x="570.1" y="1431.8"/><use href="#n" x="592.7" y="1444.0"/><use href="#n" x="613.4" y="1453.2"/><use href="#n" x="635.1" y="1456.8"/><use href="#n" x="656.7" y="1453.2"/><use href="#n" x="677.4" y="1444.0"/><use href="#n" x="700.0" y="1431.9"/><use href="#n" x="734.8" y="1417.8"/><use href="#n" x="832.5" y="1405.7"/><use href="#n" x="935.2" y="1428.3"/><use href="#n" x="972.1" y="1448.2"/><use href="#n" x="998.0" y="1459.8"/><use href="#n" x="1024.5" y="1465.9"/><use href="#n" x="1054.0" y="1470.1"/><use href="#n" x="1089.5" y="1471.0"/><use href="#n" x="1120.3" y="1474.5"/><use href="#n" x="150.5" y="1453.3"/><use href="#n" x="182.5" y="1451.4"/><use href="#n" x="216.5" y="1451.2"/><use href="#n" x="247.7" y="1448.8"/><use href="#n" x="275.8" y="1443.8"/><use href="#n" x="305.0" y="1434.8"/><use href="#n" x="344.5" y="1419.2"/><use href="#n" x="442.4" y="1402.6"/><use href="#n" x="529.9" y="1412.4"/><use href="#n" x="564.9" y="1422.9"/><use href="#n" x="589.0" y="1430.1"/><use href="#n" x="611.5" y="1434.0"/><use href="#n" x="635.1" y="1433.8"/><use href="#n" x="658.6" y="1434.0"/><use href="#n" x="681.1" y="1430.1"/><use href="#n" x="705.3" y="1422.9"/><use href="#n" x="740.2" y="1412.4"/><use href="#n" x="827.3" y="1402.5"/><use href="#n" x="925.6" y="1419.1"/><use href="#n" x="965.1" y="1434.8"/><use href="#n" x="994.3" y="1443.8"/><use href="#n" x="1022.4" y="1448.8"/><use href="#n" x="1053.6" y="1451.2"/><use href="#n" x="1087.6" y="1451.4"/><use href="#n" x="1119.5" y="1453.3"/><use href="#n" x="151.6" y="1435.2"/><use href="#n" x="183.6" y="1432.8"/><use href="#n" x="214.6" y="1431.8"/><use href="#n" x="249.4" y="1431.6"/><use href="#n" x="278.7" y="1427.9"/><use href="#n" x="310.0" y="1421.3"/><use href="#n" x="352.3" y="1410.2"/><use href="#n" x="445.4" y="1398.5"/><use href="#n" x="525.0" y="1406.0"/><use href="#n" x="561.5" y="1413.0"/><use href="#n" x="587.1" y="1417.1"/><use href="#n" x="613.6" y="1414.4"/><use href="#n" x="635.1" y="1411.7"/><use href="#n" x="656.6" y="1414.4"/><use href="#n" x="683.0" y="1417.1"/><use href="#n" x="708.6" y="1413.1"/><use href="#n" x="745.0" y="1406.0"/><use href="#n" x="824.4" y="1398.5"/><use href="#n" x="917.7" y="1410.1"/><use href="#n" x="960.1" y="1421.3"/><use href="#n" x="991.4" y="1427.9"/><use href="#n" x="1020.7" y="1431.6"/><use href="#n" x="1055.5" y="1431.9"/><use href="#n" x="1086.5" y="1432.8"/><use href="#n" x="1118.5" y="1435.2"/><use href="#n" x="151.7" y="1416.4"/><use href="#n" x="184.3" y="1414.9"/><use href="#n" x="213.3" y="1413.7"/><use href="#n" x="250.4" y="1414.3"/><use href="#n" x="280.7" y="1412.0"/><use href="#n" x="313.4" y="1407.7"/><use href="#n" x="358.5" y="1400.8"/><use href="#n" x="446.7" y="1393.4"/><use href="#n" x="521.2" y="1398.3"/><use href="#n" x="559.3" y="1402.4"/><use href="#n" x="587.1" y="1404.1"/><use href="#n" x="615.2" y="1400.3"/><use href="#n" x="635.1" y="1402.4"/><use href="#n" x="654.9" y="1400.3"/><use href="#n" x="683.0" y="1404.1"/><use href="#n" x="710.8" y="1402.4"/><use href="#n" x="748.9" y="1398.4"/><use href="#n" x="823.2" y="1393.4"/><use href="#n" x="911.5" y="1400.7"/><use href="#n" x="956.7" y="1407.7"/><use href="#n" x="989.4" y="1412.0"/><use href="#n" x="1019.7" y="1414.3"/><use href="#n" x="1056.7" y="1413.7"/><use href="#n" x="1085.8" y="1414.9"/><use href="#n" x="1118.4" y="1416.4"/><use href="#n" x="151.7" y="1398.0"/><use href="#n" x="185.3" y="1397.5"/><use href="#n" x="213.5" y="1396.7"/><use href="#n" x="251.0" y="1397.1"/><use href="#n" x="281.9" y="1395.9"/><use href="#n" x="315.4" y="1393.8"/><use href="#n" x="362.1" y="1390.5"/><use href="#n" x="446.7" y="1389.4"/><use href="#n" x="519.5" y="1389.4"/><use href="#n" x="558.2" y="1391.3"/><use href="#n" x="588.7" y="1391.4"/><use href="#n" x="613.8" y="1390.6"/><use href="#n" x="635.1" y="1392.3"/><use href="#n" x="656.3" y="1390.6"/><use href="#n" x="681.4" y="1391.4"/><use href="#n" x="711.9" y="1391.3"/><use href="#n" x="750.5" y="1389.4"/><use href="#n" x="823.2" y="1389.4"/><use href="#n" x="907.9" y="1390.5"/><use href="#n" x="954.6" y="1393.8"/><use href="#n" x="988.2" y="1395.9"/><use href="#n" x="1019.1" y="1397.1"/><use href="#n" x="1056.6" y="1396.7"/><use href="#n" x="1084.8" y="1397.5"/><use href="#n" x="1118.4" y="1398.0"/></g>
<text x="160" y="1558.4" font-size="22.5" font-family="'Liberation Sans',Arial,sans-serif" font-weight="bold" fill="#fff" stroke="#fff" stroke-width=".4" textLength="58">t = 1s</text>
<text x="18" y="1415" font-size="46" font-family="'Liberation Sans',Arial,sans-serif" stroke="#000" stroke-width="0.55" letter-spacing="1">III</text>
<g transform="translate(131 1602) scale(1.01619 1.01256)"><g clip-path="url(#cf)"><g filter="url(#hotf)"><use href="#F"/></g></g></g>
<rect x="131" y="1601.2" width="1004" height="1.6" fill="#3a3a3a"/>
<rect x="131" y="1801.5" width="1004" height="3" fill="#4a4a4a"/>
<rect x="1133.8" y="1602" width="1.2" height="201.5" fill="#3a3a3a"/>
<rect x="129.5" y="1601" width="3" height="203.5" fill="#000"/>
<rect x="196.4" y="1803.5" width="213.1" height="9" fill="#000"/>
<rect x="471.0" y="1803.5" width="82.7" height="9" fill="#000"/>
<rect x="713.5" y="1803.5" width="82.7" height="9" fill="#000"/>
<rect x="856.1" y="1803.5" width="215.2" height="9" fill="#000"/>
<rect x="225.1" y="1803.5" width="2" height="10.5" fill="#555"/>
<rect x="306.6" y="1803.5" width="2" height="10.5" fill="#555"/>
<rect x="388.1" y="1803.5" width="2" height="10.5" fill="#555"/>
<rect x="469.6" y="1803.5" width="2" height="10.5" fill="#555"/>
<rect x="551.1" y="1803.5" width="2" height="10.5" fill="#555"/>
<rect x="632.6" y="1803.5" width="2" height="10.5" fill="#555"/>
<rect x="714.1" y="1803.5" width="2" height="10.5" fill="#555"/>
<rect x="795.6" y="1803.5" width="2" height="10.5" fill="#555"/>
<rect x="877.1" y="1803.5" width="2" height="10.5" fill="#555"/>
<rect x="958.6" y="1803.5" width="2" height="10.5" fill="#555"/>
<rect x="1040.1" y="1803.5" width="2" height="10.5" fill="#555"/>
<rect x="124.5" y="1600.9" width="5.5" height="2.2" fill="#000"/>
<text x="121" y="1610.7" font-size="21" font-family="'DejaVu Sans Condensed','DejaVu Sans',sans-serif" font-weight="bold" text-anchor="end" stroke="#000" stroke-width="0.45" textLength="28.4" lengthAdjust="spacingAndGlyphs">50</text>
<rect x="124.5" y="1701.65" width="5.5" height="2.2" fill="#000"/>
<text x="121" y="1711.45" font-size="21" font-family="'DejaVu Sans Condensed','DejaVu Sans',sans-serif" font-weight="bold" text-anchor="end" stroke="#000" stroke-width="0.45" textLength="28.4" lengthAdjust="spacingAndGlyphs">25</text>
<rect x="124.5" y="1801.4" width="5.5" height="2.2" fill="#000"/>
<text x="121" y="1812" font-size="21" font-family="'DejaVu Sans Condensed','DejaVu Sans',sans-serif" font-weight="bold" text-anchor="end" stroke="#000" stroke-width="0.45" textLength="14.2" lengthAdjust="spacingAndGlyphs">0</text>
<clipPath id="cb3"><rect x="131" y="1602" width="1004" height="204.5"/></clipPath>
<g clip-path="url(#cb3)"><use href="#n" x="138.4" y="1791.6"/><use href="#n" x="144.5" y="1786.1"/><use href="#n" x="185.6" y="1737.5"/><use href="#n" x="212.2" y="1735.2"/><use href="#n" x="224.4" y="1735.0"/><use href="#n" x="230.3" y="1727.7"/><use href="#n" x="243.8" y="1699.8"/><use href="#n" x="344.3" y="1623.3"/><use href="#n" x="585.6" y="1634.3"/><use href="#n" x="610.5" y="1662.4"/><use href="#n" x="632.8" y="1798.6"/><use href="#n" x="632.9" y="1798.6"/><use href="#n" x="633.1" y="1798.6"/><use href="#n" x="633.3" y="1798.6"/><use href="#n" x="633.4" y="1798.6"/><use href="#n" x="655.6" y="1662.5"/><use href="#n" x="680.4" y="1634.4"/><use href="#n" x="921.1" y="1623.1"/><use href="#n" x="1022.3" y="1699.6"/><use href="#n" x="1035.9" y="1727.6"/><use href="#n" x="1041.8" y="1735.0"/><use href="#n" x="1053.9" y="1735.2"/><use href="#n" x="1080.5" y="1737.5"/><use href="#n" x="1121.7" y="1786.0"/><use href="#n" x="1127.7" y="1791.6"/><use href="#n" x="138.0" y="1778.1"/><use href="#n" x="148.7" y="1765.2"/><use href="#n" x="186.5" y="1730.3"/><use href="#n" x="213.0" y="1722.3"/><use href="#n" x="228.3" y="1717.0"/><use href="#n" x="239.1" y="1704.4"/><use href="#n" x="260.0" y="1674.6"/><use href="#n" x="366.2" y="1618.7"/><use href="#n" x="582.9" y="1632.7"/><use href="#n" x="606.7" y="1654.7"/><use href="#n" x="632.3" y="1795.7"/><use href="#n" x="632.9" y="1798.6"/><use href="#n" x="633.1" y="1798.6"/><use href="#n" x="633.3" y="1798.6"/><use href="#n" x="633.9" y="1795.8"/><use href="#n" x="659.5" y="1654.8"/><use href="#n" x="683.2" y="1632.8"/><use href="#n" x="898.8" y="1618.5"/><use href="#n" x="1006.1" y="1674.5"/><use href="#n" x="1027.1" y="1704.4"/><use href="#n" x="1037.9" y="1716.9"/><use href="#n" x="1053.1" y="1722.3"/><use href="#n" x="1079.6" y="1730.3"/><use href="#n" x="1117.4" y="1765.0"/><use href="#n" x="1128.1" y="1778.1"/><use href="#n" x="139.0" y="1753.7"/><use href="#n" x="158.2" y="1735.3"/><use href="#n" x="191.8" y="1717.4"/><use href="#n" x="216.6" y="1708.7"/><use href="#n" x="234.0" y="1700.8"/><use href="#n" x="248.2" y="1686.3"/><use href="#n" x="272.7" y="1659.2"/><use href="#n" x="397.2" y="1614.4"/><use href="#n" x="579.6" y="1630.5"/><use href="#n" x="603.0" y="1646.9"/><use href="#n" x="619.7" y="1683.9"/><use href="#n" x="632.5" y="1796.4"/><use href="#n" x="633.1" y="1798.6"/><use href="#n" x="633.6" y="1796.5"/><use href="#n" x="646.4" y="1684.1"/><use href="#n" x="663.2" y="1646.9"/><use href="#n" x="686.5" y="1630.5"/><use href="#n" x="867.4" y="1614.2"/><use href="#n" x="993.4" y="1659.0"/><use href="#n" x="1017.9" y="1686.2"/><use href="#n" x="1032.1" y="1700.7"/><use href="#n" x="1049.5" y="1708.7"/><use href="#n" x="1074.3" y="1717.3"/><use href="#n" x="1107.9" y="1735.2"/><use href="#n" x="1127.1" y="1753.6"/><use href="#n" x="142.5" y="1718.9"/><use href="#n" x="165.0" y="1708.1"/><use href="#n" x="195.3" y="1700.6"/><use href="#n" x="220.5" y="1693.9"/><use href="#n" x="239.5" y="1685.5"/><use href="#n" x="256.5" y="1671.5"/><use href="#n" x="283.8" y="1647.7"/><use href="#n" x="429.0" y="1611.8"/><use href="#n" x="575.6" y="1627.6"/><use href="#n" x="599.4" y="1639.2"/><use href="#n" x="611.8" y="1656.9"/><use href="#n" x="624.1" y="1680.2"/><use href="#n" x="633.1" y="1696.2"/><use href="#n" x="642.1" y="1680.3"/><use href="#n" x="654.3" y="1656.9"/><use href="#n" x="666.7" y="1639.2"/><use href="#n" x="690.5" y="1627.7"/><use href="#n" x="835.4" y="1611.8"/><use href="#n" x="982.3" y="1647.6"/><use href="#n" x="1009.6" y="1671.4"/><use href="#n" x="1026.7" y="1685.5"/><use href="#n" x="1045.6" y="1693.9"/><use href="#n" x="1070.8" y="1700.5"/><use href="#n" x="1101.2" y="1708.0"/><use href="#n" x="1123.6" y="1718.9"/><use href="#n" x="144.7" y="1690.8"/><use href="#n" x="169.5" y="1685.4"/><use href="#n" x="196.8" y="1682.1"/><use href="#n" x="224.0" y="1678.6"/><use href="#n" x="244.3" y="1671.0"/><use href="#n" x="264.0" y="1658.7"/><use href="#n" x="293.7" y="1638.5"/><use href="#n" x="450.9" y="1611.4"/><use href="#n" x="571.6" y="1624.5"/><use href="#n" x="596.0" y="1632.9"/><use href="#n" x="609.7" y="1640.3"/><use href="#n" x="621.0" y="1648.0"/><use href="#n" x="633.1" y="1651.8"/><use href="#n" x="645.2" y="1648.0"/><use href="#n" x="656.5" y="1640.3"/><use href="#n" x="670.2" y="1632.9"/><use href="#n" x="694.5" y="1624.6"/><use href="#n" x="814.0" y="1611.4"/><use href="#n" x="972.3" y="1638.4"/><use href="#n" x="1002.2" y="1658.6"/><use href="#n" x="1021.9" y="1671.0"/><use href="#n" x="1042.1" y="1678.6"/><use href="#n" x="1069.3" y="1682.1"/><use href="#n" x="1096.7" y="1685.4"/><use href="#n" x="1121.4" y="1690.8"/><use href="#n" x="145.8" y="1669.0"/><use href="#n" x="172.1" y="1666.1"/><use href="#n" x="197.2" y="1663.9"/><use href="#n" x="226.8" y="1663.1"/><use href="#n" x="248.3" y="1657.0"/><use href="#n" x="270.4" y="1647.0"/><use href="#n" x="302.8" y="1630.5"/><use href="#n" x="462.7" y="1611.4"/><use href="#n" x="567.7" y="1621.1"/><use href="#n" x="593.1" y="1627.1"/><use href="#n" x="609.0" y="1629.4"/><use href="#n" x="621.4" y="1630.2"/><use href="#n" x="633.1" y="1630.1"/><use href="#n" x="644.8" y="1630.2"/><use href="#n" x="657.1" y="1629.4"/><use href="#n" x="673.1" y="1627.2"/><use href="#n" x="698.4" y="1621.2"/><use href="#n" x="802.5" y="1611.4"/><use href="#n" x="963.3" y="1630.5"/><use href="#n" x="995.7" y="1646.9"/><use href="#n" x="1017.8" y="1656.9"/><use href="#n" x="1039.3" y="1663.1"/><use href="#n" x="1068.9" y="1663.9"/><use href="#n" x="1094.0" y="1666.1"/><use href="#n" x="1120.3" y="1669.0"/><use href="#n" x="147.5" y="1653.0"/><use href="#n" x="173.7" y="1648.9"/><use href="#n" x="197.0" y="1646.8"/><use href="#n" x="228.3" y="1647.5"/><use href="#n" x="251.4" y="1643.1"/><use href="#n" x="275.3" y="1635.6"/><use href="#n" x="310.7" y="1623.2"/><use href="#n" x="468.5" y="1611.4"/><use href="#n" x="564.0" y="1617.2"/><use href="#n" x="591.4" y="1621.0"/><use href="#n" x="609.1" y="1621.1"/><use href="#n" x="621.3" y="1621.2"/><use href="#n" x="633.1" y="1621.0"/><use href="#n" x="644.9" y="1621.2"/><use href="#n" x="657.1" y="1621.1"/><use href="#n" x="674.7" y="1621.0"/><use href="#n" x="702.1" y="1617.2"/><use href="#n" x="796.9" y="1611.4"/><use href="#n" x="955.3" y="1623.2"/><use href="#n" x="990.8" y="1635.5"/><use href="#n" x="1014.7" y="1643.1"/><use href="#n" x="1037.8" y="1647.5"/><use href="#n" x="1069.1" y="1646.8"/><use href="#n" x="1092.4" y="1648.9"/><use href="#n" x="1118.6" y="1653.0"/><use href="#n" x="147.7" y="1635.3"/><use href="#n" x="175.7" y="1633.4"/><use href="#n" x="196.8" y="1631.1"/><use href="#n" x="228.4" y="1631.9"/><use href="#n" x="253.7" y="1629.4"/><use href="#n" x="278.9" y="1624.3"/><use href="#n" x="317.3" y="1616.2"/><use href="#n" x="470.8" y="1611.4"/><use href="#n" x="560.9" y="1612.6"/><use href="#n" x="590.5" y="1614.7"/><use href="#n" x="609.2" y="1614.2"/><use href="#n" x="621.0" y="1614.4"/><use href="#n" x="633.1" y="1615.9"/><use href="#n" x="645.2" y="1614.4"/><use href="#n" x="657.0" y="1614.2"/><use href="#n" x="675.6" y="1614.7"/><use href="#n" x="705.1" y="1612.7"/><use href="#n" x="794.7" y="1611.4"/><use href="#n" x="948.7" y="1616.1"/><use href="#n" x="987.3" y="1624.3"/><use href="#n" x="1012.4" y="1629.4"/><use href="#n" x="1037.7" y="1631.9"/><use href="#n" x="1069.3" y="1631.1"/><use href="#n" x="1090.4" y="1633.4"/><use href="#n" x="1118.4" y="1635.3"/><use href="#n" x="147.7" y="1618.3"/><use href="#n" x="177.4" y="1617.8"/><use href="#n" x="197.3" y="1616.3"/><use href="#n" x="228.2" y="1616.7"/><use href="#n" x="255.1" y="1615.6"/><use href="#n" x="281.0" y="1613.1"/><use href="#n" x="321.3" y="1611.4"/><use href="#n" x="470.6" y="1611.4"/><use href="#n" x="559.6" y="1611.4"/><use href="#n" x="590.0" y="1611.4"/><use href="#n" x="609.3" y="1611.4"/><use href="#n" x="619.9" y="1611.4"/><use href="#n" x="633.1" y="1611.4"/><use href="#n" x="646.2" y="1611.4"/><use href="#n" x="656.9" y="1611.4"/><use href="#n" x="676.1" y="1611.4"/><use href="#n" x="706.5" y="1611.4"/><use href="#n" x="794.9" y="1611.4"/><use href="#n" x="944.7" y="1611.4"/><use href="#n" x="985.1" y="1613.1"/><use href="#n" x="1011.1" y="1615.6"/><use href="#n" x="1037.9" y="1616.7"/><use href="#n" x="1068.9" y="1616.3"/><use href="#n" x="1088.7" y="1617.8"/><use href="#n" x="1118.4" y="1618.3"/></g>
<text x="154.6" y="1783.3" font-size="22.5" font-family="'Liberation Sans',Arial,sans-serif" font-weight="bold" fill="#fff" stroke="#fff" stroke-width=".4" textLength="58">t = 2s</text>
<text x="15.5" y="1645" font-size="46" font-family="'Liberation Sans',Arial,sans-serif" stroke="#000" stroke-width="0.55" letter-spacing="1">IV</text>
<text x="229.1" y="1833.6" font-size="21" font-family="'DejaVu Sans Condensed','DejaVu Sans',sans-serif" font-weight="bold" stroke="#000" stroke-width="0.45" textLength="51.1" lengthAdjust="spacingAndGlyphs">-100</text>
<text x="313" y="1833.6" font-size="21" font-family="'DejaVu Sans Condensed','DejaVu Sans',sans-serif" font-weight="bold" stroke="#000" stroke-width="0.45" textLength="36.9" lengthAdjust="spacingAndGlyphs">-80</text>
<text x="391" y="1833.6" font-size="21" font-family="'DejaVu Sans Condensed','DejaVu Sans',sans-serif" font-weight="bold" stroke="#000" stroke-width="0.45" textLength="36.9" lengthAdjust="spacingAndGlyphs">-60</text>
<text x="471.2" y="1833.6" font-size="21" font-family="'DejaVu Sans Condensed','DejaVu Sans',sans-serif" font-weight="bold" stroke="#000" stroke-width="0.45" textLength="36.9" lengthAdjust="spacingAndGlyphs">-40</text>
<text x="554" y="1833.6" font-size="21" font-family="'DejaVu Sans Condensed','DejaVu Sans',sans-serif" font-weight="bold" stroke="#000" stroke-width="0.45" textLength="36.9" lengthAdjust="spacingAndGlyphs">-20</text>
<text x="633.1" y="1833.6" font-size="21" font-family="'DejaVu Sans Condensed','DejaVu Sans',sans-serif" font-weight="bold" stroke="#000" stroke-width="0.45" textLength="14.2" lengthAdjust="spacingAndGlyphs">0</text>
<text x="715.8" y="1833.6" font-size="21" font-family="'DejaVu Sans Condensed','DejaVu Sans',sans-serif" font-weight="bold" stroke="#000" stroke-width="0.45" textLength="28.4" lengthAdjust="spacingAndGlyphs">20</text>
<text x="796.4" y="1833.6" font-size="21" font-family="'DejaVu Sans Condensed','DejaVu Sans',sans-serif" font-weight="bold" stroke="#000" stroke-width="0.45" textLength="28.4" lengthAdjust="spacingAndGlyphs">40</text>
<text x="876.9" y="1833.6" font-size="21" font-family="'DejaVu Sans Condensed','DejaVu Sans',sans-serif" font-weight="bold" stroke="#000" stroke-width="0.45" textLength="28.4" lengthAdjust="spacingAndGlyphs">60</text>
<text x="960.2" y="1833.6" font-size="21" font-family="'DejaVu Sans Condensed','DejaVu Sans',sans-serif" font-weight="bold" stroke="#000" stroke-width="0.45" textLength="28.4" lengthAdjust="spacingAndGlyphs">80</text>
<text x="1041.5" y="1833.6" font-size="21" font-family="'DejaVu Sans Condensed','DejaVu Sans',sans-serif" font-weight="bold" stroke="#000" stroke-width="0.45" textLength="42.6" lengthAdjust="spacingAndGlyphs">100</text>
<text x="1062" y="1850" font-size="21.7" font-family="'DejaVu Sans Condensed','DejaVu Sans',sans-serif" font-weight="bold" stroke="#000" stroke-width="0.45" textLength="73">x (µm)</text>
<rect x="1166" y="940.5" width="31" height="361" fill="url(#hg)" stroke="#777" stroke-width="1.2"/>
<text x="1204" y="1309.5" font-size="20" font-family="'DejaVu Sans Condensed','DejaVu Sans',sans-serif" font-weight="bold" stroke="#000" stroke-width="0.45">0</text>
<path d="M1166.5 1232.3h5M1191.5 1232.3h5" stroke="#333" stroke-width="1"/>
<text x="1204" y="1240.55" font-size="20" font-family="'DejaVu Sans Condensed','DejaVu Sans',sans-serif" font-weight="bold" stroke="#000" stroke-width="0.45">0.5</text>
<path d="M1166.5 1162.9h5M1191.5 1162.9h5" stroke="#333" stroke-width="1"/>
<text x="1204" y="1171.1" font-size="20" font-family="'DejaVu Sans Condensed','DejaVu Sans',sans-serif" font-weight="bold" stroke="#000" stroke-width="0.45">1.0</text>
<path d="M1166.5 1093.4h5M1191.5 1093.4h5" stroke="#333" stroke-width="1"/>
<text x="1204" y="1101.65" font-size="20" font-family="'DejaVu Sans Condensed','DejaVu Sans',sans-serif" font-weight="bold" stroke="#000" stroke-width="0.45">1.5</text>
<path d="M1166.5 1024.0h5M1191.5 1024.0h5" stroke="#333" stroke-width="1"/>
<text x="1204" y="1032.2" font-size="20" font-family="'DejaVu Sans Condensed','DejaVu Sans',sans-serif" font-weight="bold" stroke="#000" stroke-width="0.45">2.0</text>
<path d="M1166.5 954.5h5M1191.5 954.5h5" stroke="#333" stroke-width="1"/>
<text x="1204" y="962.75" font-size="20" font-family="'DejaVu Sans Condensed','DejaVu Sans',sans-serif" font-weight="bold" stroke="#000" stroke-width="0.45">2.5</text>
<text x="1146" y="1338" font-size="19" stroke="#000" stroke-width=".4" font-family="'DejaVu Sans Condensed','DejaVu Sans',sans-serif" font-weight="bold"><tspan font-family="'DejaVu Sans',sans-serif" font-weight="normal" font-size="21" stroke="none">×</tspan> 10<tspan font-size="12.5" dy="-7">5</tspan><tspan dy="7"> V/m</tspan></text>
</svg></body></html>
